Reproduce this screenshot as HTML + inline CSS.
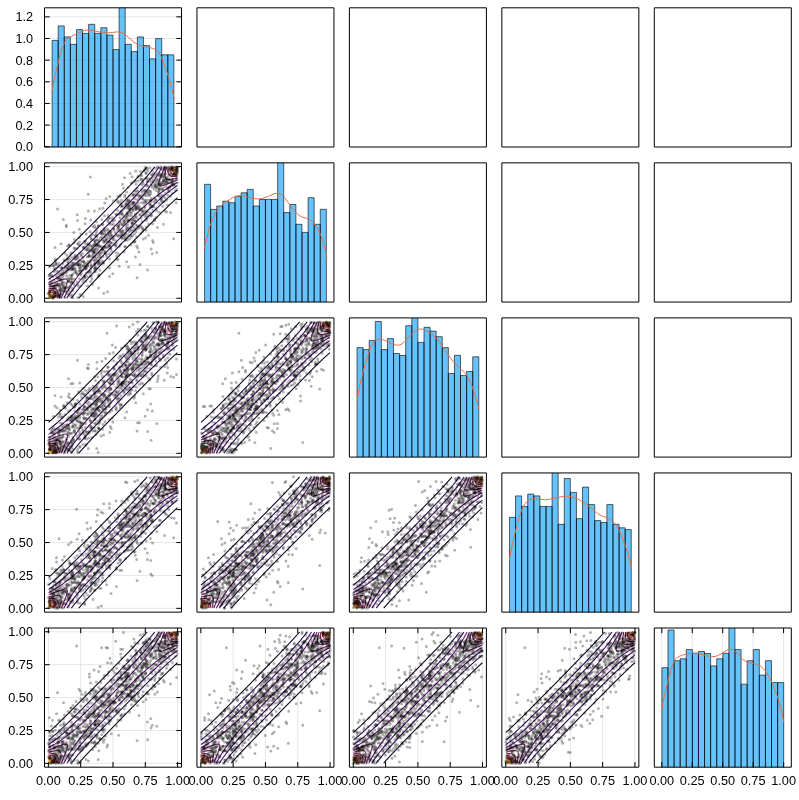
<!DOCTYPE html>
<html><head><meta charset="utf-8"><title>pairplot</title>
<style>html,body{margin:0;padding:0;background:#fff}svg{display:block}</style>
</head><body>
<svg width="799" height="800" viewBox="0 0 799 800">
<rect width="799" height="800" fill="#fff"/>
<defs><g id="ct" fill="none" stroke-width="1.08"><path d="M235.34,1.50 287.07,58.37 357.21,131.85 610.41,387.27 868.15,642.79 941.63,712.93 998.50,764.66M764.66,998.50 712.93,941.63 642.79,868.15 387.27,610.41 131.85,357.21 58.37,287.07 1.50,235.34" stroke="#0b0724" vector-effect="non-scaling-stroke"/>
<path d="M177.38,1.50 231.96,68.32 307.11,151.03 412.32,259.84 577.66,426.23 745.25,592.69 848.97,692.89 931.68,768.04 998.50,822.62M822.62,998.50 768.04,931.68 692.89,848.97 592.69,745.25 426.23,577.66 259.84,412.32 151.03,307.11 68.32,231.96 1.50,177.38" stroke="#210c4a" vector-effect="non-scaling-stroke"/>
<path d="M143.43,1.50 171.84,43.21 201.90,82.92 236.97,125.51 277.05,171.02 382.26,282.46 550.36,452.40 722.70,622.75 834.54,727.96 880.39,768.04 923.45,803.11 963.79,833.17 998.50,856.57M856.57,998.50 833.17,963.79 803.11,923.45 768.04,880.39 727.96,834.54 622.75,722.70 452.40,550.36 282.46,382.26 171.02,277.05 125.51,236.97 82.92,201.90 43.21,171.84 1.50,143.43" stroke="#3d0965" vector-effect="non-scaling-stroke"/>
<path d="M119.28,1.50 146.79,50.76 176.85,98.05 216.93,154.18 257.01,205.02 307.11,263.71 362.22,324.27 436.81,402.30 517.54,484.08 597.70,563.19 675.73,637.78 736.29,692.89 794.98,742.99 845.82,783.07 901.95,823.15 949.24,853.21 998.50,880.72M880.72,998.50 853.21,949.24 823.15,901.95 783.07,845.82 742.99,794.98 692.89,736.29 637.78,675.73 563.19,597.70 484.08,517.54 402.30,436.81 324.27,362.22 263.71,307.11 205.02,257.01 154.18,216.93 98.05,176.85 50.76,146.79 1.50,119.28" stroke="#57106e" vector-effect="non-scaling-stroke"/>
<path d="M100.50,1.50 131.20,76.65 142.15,106.71 146.80,126.75 146.55,136.77 144.34,141.78 141.78,144.34 136.77,146.55 131.76,147.06 111.72,143.62 81.66,133.17 1.50,100.50M899.50,998.50 868.80,923.35 857.85,893.29 853.20,873.25 853.45,863.23 855.66,858.22 858.22,855.66 863.23,853.45 868.24,852.94 888.28,856.38 918.34,866.83 998.50,899.50" stroke="#71196e" vector-effect="non-scaling-stroke"/>
<path d="M85.13,1.50 93.87,36.57 97.60,61.62 96.99,76.65 91.68,88.95 86.67,93.32 81.66,95.68 71.64,97.60 61.62,97.60 36.57,93.87 1.50,85.13M914.87,998.50 906.13,963.43 902.40,938.38 903.01,923.35 908.32,911.05 913.33,906.68 918.34,904.32 928.36,902.40 938.38,902.40 963.43,906.13 998.50,914.87" stroke="#8a226a" vector-effect="non-scaling-stroke"/>
<path d="M72.08,1.50 74.64,26.55 74.13,41.58 70.03,56.61 62.08,66.63 52.72,71.64 41.58,74.13 26.55,74.64 1.50,72.08M927.92,998.50 925.36,973.45 925.87,958.42 928.36,947.28 933.37,937.92 943.39,929.97 958.42,925.87 973.45,925.36 998.50,927.92" stroke="#a22b62" vector-effect="non-scaling-stroke"/>
<path d="M60.78,1.50 59.00,26.55 55.93,36.57 49.75,46.59 41.58,53.39 31.56,57.73 16.53,60.42 1.50,60.78M939.22,998.50 941.00,973.45 944.07,963.43 950.25,953.41 958.42,946.61 968.44,942.27 983.47,939.58 998.50,939.22" stroke="#bc3754" vector-effect="non-scaling-stroke"/>
<path d="M50.78,1.50 46.41,21.54 41.58,31.00 37.06,36.57 31.00,41.58 21.54,46.41 1.50,50.78M949.22,998.50 953.59,978.46 958.42,969.00 962.94,963.43 969.00,958.42 978.46,953.59 998.50,949.22" stroke="#d24644" vector-effect="non-scaling-stroke"/>
<path d="M41.80,1.50 36.57,16.58 26.55,29.85 16.53,36.60 1.50,41.80M958.20,998.50 963.40,983.47 970.15,973.45 983.42,963.43 998.50,958.20" stroke="#e45a31" vector-effect="non-scaling-stroke"/>
<path d="M33.70,1.50 29.14,11.52 21.49,21.54 11.52,29.14 1.50,33.70M966.30,998.50 970.86,988.48 978.51,978.46 988.48,970.86 998.50,966.30" stroke="#f1731d" vector-effect="non-scaling-stroke"/>
<path d="M26.23,1.50 16.53,15.59 9.54,21.54 1.50,26.23M973.77,998.50 978.46,990.46 984.41,983.47 998.50,973.77" stroke="#f98e09" vector-effect="non-scaling-stroke"/>
<path d="M19.40,1.50 11.54,11.52 1.50,19.40M980.60,998.50 988.46,988.48 998.50,980.60" stroke="#fcac11" vector-effect="non-scaling-stroke"/>
<path d="M13.03,1.50 1.50,13.03M986.97,998.50 998.50,986.97" stroke="#f9c932" vector-effect="non-scaling-stroke"/>
<path d="M7.08,1.50 1.50,7.08M992.92,998.50 998.50,992.92" stroke="#f2ea69" vector-effect="non-scaling-stroke"/></g>
<clipPath id="c00"><rect x="44.50" y="7.80" width="137.00" height="139.20"/></clipPath>
<clipPath id="c01"><rect x="196.95" y="7.80" width="137.00" height="139.20"/></clipPath>
<clipPath id="c02"><rect x="349.40" y="7.80" width="137.00" height="139.20"/></clipPath>
<clipPath id="c03"><rect x="501.85" y="7.80" width="137.00" height="139.20"/></clipPath>
<clipPath id="c04"><rect x="654.30" y="7.80" width="137.00" height="139.20"/></clipPath>
<clipPath id="c10"><rect x="44.50" y="162.85" width="137.00" height="139.20"/></clipPath>
<clipPath id="c11"><rect x="196.95" y="162.85" width="137.00" height="139.20"/></clipPath>
<clipPath id="c12"><rect x="349.40" y="162.85" width="137.00" height="139.20"/></clipPath>
<clipPath id="c13"><rect x="501.85" y="162.85" width="137.00" height="139.20"/></clipPath>
<clipPath id="c14"><rect x="654.30" y="162.85" width="137.00" height="139.20"/></clipPath>
<clipPath id="c20"><rect x="44.50" y="317.90" width="137.00" height="139.20"/></clipPath>
<clipPath id="c21"><rect x="196.95" y="317.90" width="137.00" height="139.20"/></clipPath>
<clipPath id="c22"><rect x="349.40" y="317.90" width="137.00" height="139.20"/></clipPath>
<clipPath id="c23"><rect x="501.85" y="317.90" width="137.00" height="139.20"/></clipPath>
<clipPath id="c24"><rect x="654.30" y="317.90" width="137.00" height="139.20"/></clipPath>
<clipPath id="c30"><rect x="44.50" y="472.95" width="137.00" height="139.20"/></clipPath>
<clipPath id="c31"><rect x="196.95" y="472.95" width="137.00" height="139.20"/></clipPath>
<clipPath id="c32"><rect x="349.40" y="472.95" width="137.00" height="139.20"/></clipPath>
<clipPath id="c33"><rect x="501.85" y="472.95" width="137.00" height="139.20"/></clipPath>
<clipPath id="c34"><rect x="654.30" y="472.95" width="137.00" height="139.20"/></clipPath>
<clipPath id="c40"><rect x="44.50" y="628.00" width="137.00" height="139.20"/></clipPath>
<clipPath id="c41"><rect x="196.95" y="628.00" width="137.00" height="139.20"/></clipPath>
<clipPath id="c42"><rect x="349.40" y="628.00" width="137.00" height="139.20"/></clipPath>
<clipPath id="c43"><rect x="501.85" y="628.00" width="137.00" height="139.20"/></clipPath>
<clipPath id="c44"><rect x="654.30" y="628.00" width="137.00" height="139.20"/></clipPath>
</defs>
<path d="M44.50,146.75H181.50M44.50,125.10H181.50M44.50,103.45H181.50M44.50,81.80H181.50M44.50,60.15H181.50M44.50,38.50H181.50M44.50,16.85H181.50M44.50,298.25H181.50M44.50,265.35H181.50M44.50,232.45H181.50M44.50,199.55H181.50M44.50,166.65H181.50M44.50,453.30H181.50M44.50,420.40H181.50M44.50,387.50H181.50M44.50,354.60H181.50M44.50,321.70H181.50M44.50,608.35H181.50M44.50,575.45H181.50M44.50,542.55H181.50M44.50,509.65H181.50M44.50,476.75H181.50M44.50,763.40H181.50M44.50,730.50H181.50M44.50,697.60H181.50M44.50,664.70H181.50M44.50,631.80H181.50M48.40,628.00V767.20M80.70,628.00V767.20M113.00,628.00V767.20M145.30,628.00V767.20M177.60,628.00V767.20M200.85,628.00V767.20M233.15,628.00V767.20M265.45,628.00V767.20M297.75,628.00V767.20M330.05,628.00V767.20M353.30,628.00V767.20M385.60,628.00V767.20M417.90,628.00V767.20M450.20,628.00V767.20M482.50,628.00V767.20M505.75,628.00V767.20M538.05,628.00V767.20M570.35,628.00V767.20M602.65,628.00V767.20M634.95,628.00V767.20M661.80,628.00V767.20M692.25,628.00V767.20M722.70,628.00V767.20M753.15,628.00V767.20M783.60,628.00V767.20" stroke="#000" stroke-opacity="0.1" stroke-width="1" fill="none"/>
<g clip-path="url(#c00)">
<path d="M52.10,149.00V40.40h6.09V149.00zM58.19,149.00V25.90h6.09V149.00zM64.28,149.00V36.90h6.09V149.00zM70.37,149.00V44.30h6.09V149.00zM76.46,149.00V29.60h6.09V149.00zM82.55,149.00V33.40h6.09V149.00zM88.64,149.00V24.30h6.09V149.00zM94.73,149.00V33.40h6.09V149.00zM100.82,149.00V27.70h6.09V149.00zM106.91,149.00V35.10h6.09V149.00zM113.00,149.00V49.60h6.09V149.00zM119.09,149.00V4.80h6.09V149.00zM125.18,149.00V44.30h6.09V149.00zM131.27,149.00V51.60h6.09V149.00zM137.36,149.00V36.90h6.09V149.00zM143.45,149.00V45.60h6.09V149.00zM149.54,149.00V58.80h6.09V149.00zM155.63,149.00V38.60h6.09V149.00zM161.72,149.00V54.80h6.09V149.00zM167.81,149.00V54.80h6.09V149.00z" fill="#009af9" fill-opacity="0.6" stroke="#000" stroke-opacity="0.6" stroke-width="1"/>
<path d="M51.90,92.50C52.17,90.92 52.92,86.08 53.50,83.00C54.08,79.92 54.57,77.67 55.40,74.00C56.23,70.33 57.55,64.78 58.50,61.00C59.45,57.22 60.15,54.23 61.10,51.30C62.05,48.37 63.25,45.37 64.20,43.40C65.15,41.43 65.78,40.58 66.80,39.50C67.82,38.42 68.77,37.78 70.30,36.90C71.83,36.02 73.95,35.15 76.00,34.20C78.05,33.25 80.83,31.85 82.60,31.20C84.37,30.55 85.22,30.48 86.60,30.30C87.98,30.12 89.60,30.03 90.90,30.10C92.20,30.17 92.78,30.35 94.40,30.70C96.02,31.05 98.40,31.87 100.60,32.20C102.80,32.53 105.55,32.67 107.60,32.70C109.65,32.73 111.23,32.53 112.90,32.40C114.57,32.27 116.23,31.88 117.60,31.90C118.97,31.92 119.78,32.03 121.10,32.50C122.42,32.97 123.88,33.53 125.50,34.70C127.12,35.87 129.05,38.05 130.80,39.50C132.55,40.95 134.40,42.38 136.00,43.40C137.60,44.42 138.93,45.02 140.40,45.60C141.87,46.18 143.18,46.57 144.80,46.90C146.42,47.23 148.35,47.15 150.10,47.60C151.85,48.05 153.85,48.77 155.30,49.60C156.75,50.43 157.77,51.28 158.80,52.60C159.83,53.92 160.62,55.52 161.50,57.50C162.38,59.48 163.08,61.75 164.10,64.50C165.12,67.25 166.70,71.42 167.60,74.00C168.50,76.58 168.77,77.42 169.50,80.00C170.23,82.58 171.20,86.33 172.00,89.50C172.80,92.67 173.92,97.42 174.30,99.00" fill="none" stroke="#e36f47" stroke-width="1"/>
</g>
<g clip-path="url(#c10)">
<use href="#ct" transform="matrix(0.12920 0 0 -0.13160 48.40 298.25)"/>
<g stroke="#000" stroke-opacity="0.3" stroke-width="3" stroke-linecap="round" fill="none">
<path d="M94.6,268.4h0M79.8,269.9h0M51.8,282.5h0M55.5,296.1h0M176.6,175.4h0M62.0,283.0h0M63.0,288.6h0M110.0,231.3h0M124.1,216.7h0M162.3,177.6h0M54.4,293.5h0M60.2,274.8h0M95.4,235.6h0M165.2,211.1h0M59.4,280.3h0M59.8,293.0h0M101.3,231.6h0M74.7,248.2h0M70.0,255.9h0M128.8,220.8h0M60.1,280.1h0M127.3,240.3h0M103.2,230.7h0M87.6,266.3h0M55.2,268.7h0M123.5,219.9h0M176.1,166.9h0M85.1,223.7h0M144.0,215.0h0M100.4,238.0h0M150.5,200.7h0M145.1,200.2h0M61.0,243.8h0M61.6,284.5h0M102.5,234.0h0M105.5,251.8h0M75.9,272.6h0M87.5,244.3h0M143.1,211.5h0M164.6,167.1h0M87.7,264.0h0M177.0,167.3h0M150.7,184.7h0M124.8,196.7h0M104.8,203.1h0M110.6,237.7h0M102.3,224.4h0M148.5,235.3h0M72.4,288.3h0M167.7,188.4h0M94.5,252.2h0M50.4,266.1h0M141.4,179.5h0M172.4,183.6h0M57.8,293.0h0M90.2,262.4h0M139.5,209.0h0M112.3,220.1h0M56.4,286.2h0M159.2,184.1h0M95.6,259.8h0M58.9,295.6h0M90.3,177.1h0M119.8,221.5h0M135.6,207.8h0M166.9,183.1h0M136.0,184.2h0M154.3,176.8h0M110.6,233.3h0M133.6,194.3h0M58.5,293.8h0M177.5,170.5h0M52.9,266.1h0M106.4,240.2h0M52.9,290.0h0M58.8,263.6h0M163.2,180.5h0M149.9,168.1h0M95.3,239.9h0M77.7,262.6h0M156.6,186.3h0M55.8,267.9h0M91.5,265.0h0M122.3,210.7h0M90.3,275.7h0M145.8,212.0h0M61.1,293.8h0M79.3,268.3h0M105.6,236.5h0M92.5,247.6h0M174.0,173.7h0M133.0,202.9h0M109.6,218.2h0M52.8,297.6h0M134.7,241.6h0M75.5,270.8h0M67.5,294.0h0M68.3,262.7h0M69.1,244.4h0M110.9,236.6h0M56.8,271.1h0"/>
<path d="M146.7,196.1h0M66.3,225.2h0M165.2,183.1h0M68.0,262.1h0M68.2,258.6h0M144.5,191.0h0M86.2,268.8h0M54.9,296.6h0M57.5,283.9h0M140.9,226.1h0M105.5,235.1h0M150.1,208.1h0M140.4,171.5h0M119.4,246.6h0M122.8,234.7h0M88.7,256.3h0M114.7,244.7h0M176.2,171.0h0M142.1,192.5h0M65.6,291.6h0M137.3,199.8h0M159.4,185.3h0M92.7,253.0h0M172.1,185.7h0M131.1,207.8h0M141.1,209.9h0M132.0,176.8h0M102.8,248.6h0M161.6,195.1h0M171.7,167.7h0M82.8,282.2h0M160.2,197.3h0M86.7,247.7h0M80.8,268.2h0M144.1,210.6h0M59.6,291.0h0M69.6,292.9h0M102.5,263.2h0M95.0,241.7h0M73.0,269.2h0M74.2,256.6h0M171.8,168.5h0M67.8,269.2h0M98.9,274.6h0M126.7,198.9h0M71.7,262.4h0M55.0,288.0h0M62.8,276.9h0M83.2,257.3h0M115.3,232.5h0M154.7,186.4h0M96.4,245.7h0M125.4,239.2h0M119.2,266.3h0M70.6,253.5h0M122.1,205.8h0M57.5,279.1h0M89.7,261.6h0M155.3,181.0h0M73.5,283.1h0M63.6,282.0h0M169.3,179.7h0M58.4,296.2h0M69.7,287.3h0M128.3,235.0h0M49.9,291.4h0M83.2,280.8h0M75.1,265.1h0M85.9,281.0h0M105.1,253.6h0M96.4,244.5h0M150.7,181.4h0M55.7,263.5h0M172.1,180.9h0M93.5,251.3h0M121.3,203.2h0M134.5,234.1h0M53.2,285.6h0M129.9,219.8h0M138.1,207.0h0M99.9,246.5h0M95.2,249.0h0M63.1,276.5h0M78.9,264.7h0M109.8,231.4h0M131.1,227.1h0M54.7,264.3h0M87.9,271.7h0M135.1,215.4h0M126.2,218.1h0M120.6,244.4h0M126.7,191.9h0M116.2,252.4h0M153.6,173.3h0M145.6,216.8h0M79.5,265.0h0M109.5,245.8h0M151.8,207.0h0M99.5,240.7h0M149.7,204.3h0M112.8,273.8h0"/>
<path d="M75.1,259.3h0M68.8,267.3h0M105.3,247.6h0M104.2,228.2h0M58.5,266.3h0M49.3,293.1h0M155.7,208.4h0M81.2,273.3h0M109.2,241.0h0M133.1,202.6h0M50.0,297.7h0M103.3,241.1h0M158.1,184.2h0M109.5,268.1h0M141.6,208.4h0M72.1,281.8h0M124.9,222.8h0M167.5,182.6h0M101.7,246.5h0M172.1,166.8h0M119.8,217.8h0M79.6,265.2h0M91.3,276.4h0M81.5,256.2h0M98.5,263.8h0M93.7,245.0h0M172.4,193.0h0M139.1,198.1h0M122.0,234.8h0M175.2,170.3h0M121.8,224.4h0M129.8,227.6h0M110.7,242.4h0M149.6,194.8h0M80.8,261.0h0M172.9,168.8h0M152.1,187.2h0M136.4,206.3h0M157.6,179.7h0M177.6,167.4h0M138.5,195.3h0M124.6,246.5h0M64.4,289.1h0M49.0,275.7h0M172.1,170.5h0M117.9,226.2h0M166.4,177.6h0M150.7,191.4h0M97.2,262.1h0M65.2,266.7h0M88.6,249.3h0M76.9,264.7h0M151.8,200.0h0M105.0,233.5h0M155.4,168.2h0M94.9,256.7h0M145.8,178.0h0M87.8,264.6h0M147.2,181.5h0M99.9,270.0h0M79.8,252.8h0M116.7,256.3h0M79.7,266.9h0M108.7,241.0h0M167.2,179.7h0M168.6,175.6h0M153.1,182.6h0M71.0,282.4h0M62.4,271.2h0M139.5,226.2h0M96.0,236.0h0M120.3,195.1h0M129.2,231.6h0M73.8,232.5h0M117.7,196.4h0M169.8,186.6h0M133.8,217.4h0M89.0,244.9h0M124.9,221.7h0M49.6,291.9h0M59.1,287.1h0M164.8,197.4h0M131.9,223.6h0M127.7,224.6h0M126.2,227.9h0M57.8,273.9h0M56.9,283.5h0M87.7,286.0h0M153.2,242.5h0M118.6,226.0h0M72.9,297.7h0M72.8,273.9h0M170.7,168.8h0M175.3,170.6h0M90.7,236.8h0M168.3,171.5h0M83.8,247.4h0M140.8,175.9h0M166.5,199.9h0M108.7,236.3h0M90.8,250.8h0"/>
<path d="M105.3,231.1h0M71.1,264.9h0M141.9,210.9h0M85.4,267.2h0M137.8,176.4h0M67.3,268.6h0M96.6,230.9h0M94.1,251.6h0M71.9,278.9h0M135.8,181.3h0M143.3,183.8h0M130.6,209.0h0M127.7,228.7h0M107.1,229.1h0M86.9,276.2h0M52.2,297.5h0M156.0,202.8h0M58.4,283.9h0M118.2,226.8h0M74.5,239.4h0M155.7,200.5h0M52.3,289.1h0M113.9,230.1h0M98.6,287.9h0M89.9,244.4h0M97.2,251.7h0M74.2,285.0h0M94.1,245.0h0M128.0,200.7h0M72.8,269.8h0M117.0,225.5h0M168.3,167.0h0M92.5,250.2h0M126.8,215.9h0M79.3,260.0h0M145.8,214.0h0M129.4,206.1h0M117.2,214.3h0M80.1,271.3h0M88.8,247.3h0M84.3,262.8h0M134.8,221.0h0M142.0,221.7h0M74.2,248.0h0M66.3,271.7h0M165.6,173.8h0M69.8,259.4h0M119.0,224.0h0M87.1,256.9h0M87.3,249.9h0M110.6,242.4h0M88.1,243.4h0M94.6,249.3h0M71.4,283.0h0M102.1,249.7h0M55.3,292.3h0M152.0,177.4h0M152.9,210.3h0M51.2,275.3h0M137.0,188.2h0M132.7,208.6h0M77.0,248.6h0M130.8,245.0h0M94.7,268.5h0M65.2,267.7h0M120.8,211.6h0M155.8,174.7h0M53.6,265.7h0M126.8,229.5h0M161.2,199.1h0M151.2,198.2h0M120.1,234.6h0M64.8,287.3h0M60.6,273.8h0M89.1,272.4h0M126.9,215.1h0M84.5,276.4h0M149.7,191.3h0M67.9,288.3h0M94.6,264.0h0M130.1,173.4h0M94.4,211.1h0M136.7,207.6h0M66.7,259.8h0M67.0,264.9h0M173.8,184.8h0M99.0,245.4h0M106.1,239.1h0M115.8,214.2h0M172.8,174.2h0M150.2,204.2h0M109.7,238.4h0M61.9,273.5h0M177.6,173.0h0M132.4,182.8h0M79.8,245.3h0M116.1,246.3h0M143.3,195.6h0M155.8,183.2h0M83.5,265.4h0M96.8,236.4h0"/>
<path d="M118.0,228.1h0M159.4,212.2h0M117.7,210.6h0M147.7,192.6h0M80.1,294.5h0M55.4,260.7h0M124.5,177.7h0M164.4,168.6h0M177.2,167.4h0M176.5,168.0h0M71.4,265.7h0M54.1,295.1h0M77.6,243.5h0M69.7,275.6h0M77.1,259.1h0M95.4,263.0h0M166.4,167.7h0M60.7,277.9h0M175.1,190.4h0M95.3,267.7h0M64.9,261.0h0M100.3,264.0h0M145.9,172.7h0M170.1,173.8h0M72.4,265.0h0M152.2,185.1h0M94.5,227.1h0M68.4,281.6h0M166.4,179.1h0M115.4,245.2h0M155.8,199.4h0M129.8,204.7h0M106.1,198.4h0M52.4,288.6h0M102.9,208.3h0M108.3,233.1h0M53.1,287.3h0M57.2,277.7h0M130.0,201.5h0M83.2,247.5h0M130.2,208.9h0M109.4,224.1h0M176.4,189.4h0M156.4,178.5h0M103.6,263.0h0M60.5,297.4h0M112.5,243.0h0M108.5,245.0h0M169.5,187.4h0M73.1,267.8h0M134.4,220.5h0M97.8,244.9h0M74.5,279.2h0M156.8,210.8h0M175.0,181.2h0M161.3,183.6h0M77.4,284.7h0M102.4,248.4h0M150.6,193.8h0M159.8,179.3h0M65.8,287.7h0M82.5,270.3h0M170.9,183.2h0M171.3,176.2h0M52.1,275.7h0M120.2,203.8h0M63.4,286.5h0M113.3,221.6h0M146.3,200.4h0M108.1,215.2h0M155.8,217.4h0M70.6,276.1h0M174.2,173.1h0M135.9,209.6h0M54.5,295.3h0M147.7,191.9h0M72.1,252.8h0M132.7,204.8h0M158.5,194.0h0M77.5,220.5h0M159.1,203.2h0M163.3,180.7h0M72.6,290.8h0M111.7,224.4h0M122.4,214.9h0M147.4,168.7h0M153.7,206.2h0M175.4,173.6h0M158.0,195.7h0M123.0,214.3h0M134.4,202.1h0M159.0,188.7h0M154.7,185.1h0M146.3,202.8h0M94.6,225.4h0M85.2,249.4h0M50.0,275.8h0M94.7,271.2h0M53.9,295.4h0M60.4,283.8h0M121.3,206.4h0"/>
<path d="M102.3,260.8h0M82.9,278.8h0M174.5,173.3h0M97.1,258.2h0M79.6,278.8h0M167.7,188.9h0M163.6,180.3h0M137.8,191.1h0M80.8,254.8h0M59.1,295.3h0M161.7,175.5h0M123.2,230.3h0M117.9,236.3h0M77.2,255.9h0M163.1,188.6h0M86.2,234.1h0M55.0,286.0h0M147.1,185.2h0M101.0,233.5h0M154.4,219.2h0M123.6,224.5h0M156.2,190.6h0M133.5,203.2h0M53.5,292.2h0M80.6,263.4h0M101.9,237.0h0M145.6,202.0h0M169.6,179.8h0M154.4,198.1h0M143.3,213.8h0M65.3,297.4h0M104.8,253.1h0M68.0,270.3h0M106.9,238.4h0M140.8,179.3h0M121.4,232.5h0M176.0,175.2h0M127.6,227.7h0M95.8,269.5h0M118.0,259.4h0M96.4,249.5h0M99.7,208.7h0M131.2,215.5h0M174.3,170.3h0M171.0,166.7h0M107.9,230.3h0M54.2,290.1h0M145.7,237.8h0M118.9,228.4h0M131.5,213.4h0M126.5,216.4h0M143.8,203.4h0M126.3,200.9h0M85.4,240.9h0M160.2,182.3h0M176.2,179.5h0M84.3,262.3h0M53.8,296.9h0M77.2,256.5h0M137.6,226.4h0M127.9,220.7h0M85.3,244.1h0M137.1,277.8h0M62.1,267.7h0M145.7,190.8h0M84.6,277.1h0M114.0,236.7h0M172.7,167.9h0M75.6,259.1h0M98.0,276.6h0M77.2,273.8h0M142.9,179.5h0M131.4,203.6h0M110.7,248.6h0M142.6,212.8h0M165.5,169.3h0M92.9,251.2h0M99.9,262.1h0M104.0,237.6h0M147.5,211.9h0M114.0,228.4h0M85.0,277.7h0M151.1,249.1h0M58.6,277.7h0M76.9,282.0h0M173.3,174.7h0M72.4,269.0h0M124.0,238.2h0M68.3,265.0h0M97.9,240.0h0M167.7,195.2h0M176.7,170.3h0M129.6,209.9h0M127.2,237.4h0M83.2,296.5h0M176.2,173.6h0M160.5,183.3h0M63.8,272.9h0M132.0,223.3h0M58.8,295.5h0M142.8,199.1h0"/>
<path d="M104.7,246.4h0M103.0,247.2h0M87.0,250.1h0M124.0,222.2h0M110.8,248.4h0M164.5,168.2h0M109.6,259.1h0M131.4,229.5h0M144.1,201.7h0M68.0,278.1h0M117.6,235.0h0M77.7,264.4h0M93.5,250.3h0M62.6,274.5h0M122.6,184.3h0M127.8,207.2h0M99.3,252.8h0M112.3,217.6h0M139.8,208.4h0M126.1,203.5h0M57.4,294.1h0M109.9,223.1h0M137.6,225.4h0M120.1,213.7h0M173.7,238.7h0M147.8,193.2h0M177.0,168.8h0M102.9,256.6h0M161.8,197.4h0M135.6,221.3h0M50.4,291.6h0M124.1,251.7h0M68.7,280.9h0M104.5,251.3h0M50.5,284.3h0M102.7,234.1h0M49.6,295.4h0M59.3,285.3h0M51.3,282.8h0M107.9,235.0h0M95.2,266.2h0M116.6,200.2h0M96.7,246.7h0M69.1,245.4h0M162.0,169.2h0M89.1,255.8h0M151.4,174.8h0M173.1,175.4h0M106.8,256.7h0M99.9,252.1h0M92.9,226.4h0M171.5,169.5h0M139.5,195.5h0M116.5,243.2h0M54.6,292.7h0M146.1,168.6h0M98.9,262.4h0M121.5,236.7h0M109.3,247.3h0M89.4,270.9h0M101.8,250.5h0M57.3,293.9h0M61.6,268.1h0M62.3,285.6h0M92.8,256.7h0M66.5,275.7h0M127.4,203.0h0M142.8,228.8h0M124.1,208.7h0M125.8,219.1h0M138.3,208.0h0M86.5,263.7h0M131.0,183.3h0M84.7,275.3h0M144.0,202.1h0M102.6,250.1h0M135.9,217.7h0M96.2,233.6h0M59.8,296.7h0M70.4,278.6h0M136.7,237.0h0M124.0,235.6h0M169.0,191.1h0M95.3,242.2h0M62.0,294.1h0M102.5,233.2h0M164.3,201.8h0M123.5,188.0h0M54.9,283.4h0M165.1,180.3h0M83.8,247.3h0M121.8,238.0h0M131.0,211.7h0M79.5,273.7h0M168.3,169.2h0M65.9,282.9h0M159.3,181.5h0M84.1,269.3h0M121.3,213.6h0M126.1,220.1h0M159.2,188.9h0"/>
<path d="M137.6,228.5h0M162.7,201.4h0M168.5,178.8h0M78.1,265.1h0M141.8,184.9h0M75.0,263.1h0M150.8,205.1h0M89.1,256.4h0M132.9,195.4h0M109.5,276.6h0M69.2,281.1h0M78.2,257.2h0M60.1,288.9h0M56.6,292.0h0M58.9,297.4h0M80.9,275.0h0M157.7,187.1h0M50.4,285.7h0M92.0,279.0h0M107.9,220.0h0M134.4,181.1h0M163.1,182.9h0M136.9,208.5h0M68.8,295.2h0M68.9,266.7h0M110.4,246.1h0M95.1,263.1h0M143.3,239.1h0M70.7,268.6h0M56.4,264.7h0M56.3,293.9h0M120.8,212.5h0M98.5,242.3h0M94.8,253.3h0M77.2,214.7h0M82.7,261.4h0M94.6,260.4h0M176.1,202.7h0M136.7,204.9h0M97.0,254.7h0M115.8,240.8h0M152.3,174.8h0M54.3,271.5h0M165.1,182.2h0M119.9,195.9h0M99.7,254.4h0M173.1,184.3h0M97.9,262.0h0M152.0,206.2h0M81.3,265.8h0M151.6,215.3h0M118.5,254.1h0M108.7,218.1h0M55.8,291.8h0M102.1,239.4h0M52.2,295.7h0M53.3,298.0h0M164.9,173.9h0M66.4,272.7h0M160.5,184.5h0M67.1,267.7h0M109.2,253.8h0M62.5,291.1h0M97.3,254.3h0M49.9,278.8h0M170.5,212.4h0M81.9,271.0h0M95.9,244.4h0M103.9,242.8h0M175.2,174.3h0M69.0,268.9h0M91.8,239.4h0M167.1,177.9h0M111.4,234.7h0M97.7,260.7h0M92.7,234.7h0M140.9,233.8h0M128.5,203.9h0M120.7,231.3h0M119.4,236.1h0M122.1,206.3h0M161.8,174.5h0M75.0,268.1h0M127.2,213.5h0M85.6,266.0h0M156.8,252.4h0M134.7,198.5h0M56.0,294.9h0M175.9,167.2h0M86.2,273.0h0M84.5,241.4h0M107.0,248.1h0M121.9,213.8h0M78.4,244.5h0M125.6,240.2h0M52.7,276.7h0M139.1,228.0h0M101.9,219.4h0M128.5,221.6h0M163.3,190.4h0"/>
<path d="M142.1,227.4h0M55.2,296.1h0M147.0,218.5h0M54.1,269.1h0M134.0,230.2h0M155.5,185.1h0M146.9,216.4h0M143.1,229.2h0M91.1,246.0h0M158.8,173.0h0M119.1,214.3h0M48.4,293.4h0M115.7,235.2h0M158.2,183.9h0M61.2,267.6h0M57.5,209.1h0M128.6,266.9h0M71.0,296.6h0M100.6,258.1h0M104.2,247.5h0M136.3,195.7h0M63.3,291.0h0M138.8,209.8h0M104.6,215.7h0M154.0,189.0h0M79.3,237.6h0M125.4,237.0h0M131.3,237.2h0M101.8,252.7h0M148.5,178.7h0M143.0,181.7h0M69.3,290.4h0M160.7,166.7h0M91.0,267.5h0M135.1,229.4h0M147.6,270.1h0M133.6,242.6h0M121.5,200.6h0M153.1,206.4h0M153.1,180.9h0M166.4,186.6h0M157.3,227.5h0M130.2,235.7h0M109.8,244.8h0M49.2,283.5h0M85.4,218.5h0M98.4,225.7h0M159.6,167.8h0M145.1,167.5h0M148.5,186.5h0M93.1,260.2h0M158.3,175.5h0M90.5,281.4h0M56.4,285.2h0M71.9,275.2h0M124.7,235.5h0M147.8,215.3h0M107.5,242.6h0M124.8,195.1h0M55.7,292.1h0M144.9,206.6h0M143.8,170.8h0M103.5,248.9h0M172.1,170.3h0M59.8,279.3h0M177.4,183.1h0M88.2,194.2h0M104.3,240.6h0M157.1,174.0h0M92.4,284.3h0M67.4,258.7h0M58.8,271.5h0M159.5,173.6h0M133.2,210.8h0M161.1,199.5h0M60.0,295.0h0M141.4,195.8h0M136.6,191.5h0M135.0,205.9h0M54.2,280.3h0M105.8,241.6h0M127.9,208.7h0M91.0,259.7h0M99.5,246.6h0M79.6,242.0h0M128.4,219.7h0M153.2,180.1h0M172.1,181.2h0M156.7,187.7h0M91.1,249.5h0M129.7,230.1h0M94.3,240.8h0M74.7,272.6h0M128.7,199.7h0M150.1,212.8h0M91.1,238.7h0M129.6,239.1h0M148.8,200.2h0M77.7,297.5h0M164.9,186.4h0"/>
<path d="M113.3,228.5h0M168.7,182.4h0M135.0,241.4h0M60.1,289.4h0M96.2,228.1h0M109.0,241.7h0M99.1,260.8h0M72.3,257.8h0M122.5,231.0h0M72.8,266.1h0M70.1,285.5h0M169.4,187.3h0M165.3,193.0h0M68.9,279.1h0M91.4,266.5h0M162.7,182.6h0M100.0,256.2h0M95.5,271.7h0M101.8,249.5h0M121.9,238.3h0M164.0,176.6h0M132.8,219.3h0M55.9,275.7h0M135.7,224.8h0M107.7,221.5h0M173.8,183.8h0M163.5,184.0h0M76.2,271.6h0M155.4,186.9h0M94.3,264.8h0M164.8,167.0h0M113.7,239.7h0M75.5,254.9h0M100.1,253.2h0M94.6,244.0h0M171.9,184.9h0M144.6,207.8h0M135.5,213.9h0M170.5,196.2h0M152.6,240.6h0M56.2,263.1h0M91.1,265.9h0M138.3,203.0h0M98.2,264.6h0M146.2,230.3h0M166.5,180.2h0M132.2,223.2h0M128.9,206.7h0M152.5,170.5h0M126.3,204.2h0M62.3,283.3h0M129.4,209.1h0M132.6,235.6h0M141.0,214.7h0M71.4,281.7h0M145.0,195.0h0M102.7,224.3h0M141.4,202.6h0M140.1,196.5h0M159.2,192.2h0M146.2,226.9h0M146.2,220.4h0M132.1,231.5h0M151.1,216.0h0M135.6,194.2h0M63.3,219.6h0M134.5,227.7h0M61.0,290.2h0M150.8,206.8h0M177.0,178.4h0M141.5,189.5h0M139.2,206.1h0M129.9,212.8h0M82.8,266.5h0M120.3,231.3h0M135.8,209.3h0M58.8,295.2h0M87.6,265.9h0M107.8,246.4h0M128.0,214.3h0M146.2,173.4h0M64.1,259.8h0M90.8,265.8h0M142.5,190.6h0M131.4,220.3h0M84.3,265.4h0M125.6,246.8h0M141.2,218.2h0M140.3,214.4h0M86.1,267.9h0M96.4,244.6h0M163.5,224.3h0M59.1,277.6h0M148.5,223.9h0M53.8,287.4h0M111.1,231.5h0M71.8,275.5h0M51.7,286.5h0M167.7,205.1h0M157.4,167.1h0"/>
<path d="M176.7,169.0h0M50.0,288.7h0M53.9,286.4h0M172.5,179.5h0M66.3,226.5h0M83.0,261.3h0M146.6,210.8h0M128.6,201.6h0M97.1,268.0h0M173.5,167.2h0M94.2,252.6h0M82.5,253.4h0M92.9,254.5h0M154.7,220.4h0M135.7,171.1h0M113.6,224.6h0M137.3,212.9h0M160.5,168.5h0M136.7,245.9h0M105.0,241.2h0M152.3,253.7h0M124.2,221.3h0M80.9,285.7h0M170.3,169.3h0M160.3,177.2h0M75.4,256.9h0M106.3,254.8h0M133.1,202.2h0M163.3,173.1h0M138.1,219.5h0M91.5,256.3h0M72.7,268.6h0M49.9,290.1h0M103.1,262.4h0M121.7,236.1h0M49.5,291.0h0M134.8,207.1h0M112.5,237.5h0M145.0,193.6h0M92.0,257.2h0M146.0,192.8h0M83.5,260.8h0M67.0,255.3h0M90.4,269.6h0M150.7,201.6h0M174.8,185.4h0M157.2,181.2h0M74.0,242.8h0M138.2,177.1h0M61.4,279.9h0M163.4,195.5h0M160.5,188.5h0M48.5,293.5h0M163.7,175.1h0M79.4,229.3h0M90.1,231.7h0M124.9,205.8h0M64.9,253.3h0M168.5,170.2h0M170.4,174.1h0M144.9,189.9h0M73.6,264.0h0M77.2,274.4h0M132.5,226.6h0M62.9,263.5h0M89.5,255.3h0M55.0,247.5h0M92.4,246.3h0M74.9,269.1h0M104.2,230.2h0M177.3,172.1h0M146.0,190.9h0M67.6,246.1h0M125.3,204.4h0M117.8,202.4h0M90.7,220.0h0M67.7,286.9h0M152.6,223.7h0M138.2,181.0h0M153.9,201.7h0M109.3,234.1h0M159.5,175.1h0M128.1,187.4h0M64.4,270.0h0M164.3,176.6h0M164.5,178.6h0M142.1,198.3h0M78.2,265.3h0M166.5,181.7h0M148.5,190.0h0M127.1,212.2h0M139.7,215.3h0M133.1,195.1h0M65.2,288.6h0M164.7,171.3h0M125.9,233.3h0M127.7,205.7h0M161.5,188.5h0M55.8,288.7h0M159.4,189.9h0"/>
<path d="M97.1,240.1h0M114.8,220.1h0M172.8,179.2h0M129.1,215.9h0M116.5,259.0h0M101.3,232.1h0M79.4,271.0h0M166.7,212.1h0M126.2,225.6h0M88.6,252.8h0M126.7,261.8h0M125.8,207.6h0M162.1,190.0h0M164.0,170.1h0M123.2,232.7h0M146.5,185.4h0M134.7,190.9h0M112.9,238.9h0M158.3,191.6h0M119.2,225.4h0M162.7,206.3h0M146.7,178.5h0M109.8,196.5h0M94.6,257.3h0M55.4,259.3h0M122.4,224.6h0M174.7,175.2h0M98.0,244.4h0M177.1,170.3h0M98.3,256.7h0M138.9,251.9h0M137.6,248.1h0M135.4,256.9h0M101.4,233.1h0M78.5,286.5h0M113.4,201.1h0M62.9,287.8h0M84.6,277.2h0M58.6,290.2h0M71.8,294.8h0M116.4,214.7h0M125.6,233.8h0M126.5,230.6h0M80.9,234.3h0M132.5,219.9h0M66.1,291.2h0M103.8,293.2h0M149.1,195.4h0M136.2,231.4h0M147.7,171.1h0M70.8,269.9h0M88.4,211.1h0M120.8,222.6h0M99.0,275.6h0M144.6,170.0h0M105.3,246.2h0M160.2,175.0h0M161.4,201.5h0M90.8,272.3h0M117.5,229.9h0M64.0,284.7h0M85.8,267.0h0M50.2,296.1h0M98.4,226.0h0M85.0,268.7h0M171.5,168.4h0M64.6,291.7h0M89.5,251.5h0M111.9,235.5h0M52.6,297.9h0M162.0,176.2h0M71.9,278.2h0M78.4,262.4h0M98.1,249.0h0M107.6,291.7h0M63.9,273.7h0M139.9,264.4h0M133.3,209.4h0M61.9,280.9h0M130.5,235.2h0M132.7,222.8h0M142.8,230.9h0M73.1,262.9h0M129.3,195.9h0M94.3,256.2h0M171.5,181.6h0M136.4,216.7h0M147.4,180.9h0M87.8,261.6h0M61.8,274.9h0M141.7,175.3h0M96.3,221.8h0M64.3,287.2h0M160.9,185.2h0M159.0,195.8h0M168.3,191.4h0M150.2,179.1h0M111.6,251.3h0M118.8,201.5h0M55.2,260.2h0"/>
</g>
</g>
<g clip-path="url(#c11)">
<path d="M204.55,304.05V184.30h6.09V304.05zM210.64,304.05V209.40h6.09V304.05zM216.73,304.05V206.00h6.09V304.05zM222.82,304.05V201.20h6.09V304.05zM228.91,304.05V202.70h6.09V304.05zM235.00,304.05V196.30h6.09V304.05zM241.09,304.05V192.80h6.09V304.05zM247.18,304.05V189.40h6.09V304.05zM253.27,304.05V206.00h6.09V304.05zM259.36,304.05V199.50h6.09V304.05zM265.45,304.05V199.40h6.09V304.05zM271.54,304.05V199.40h6.09V304.05zM277.63,304.05V159.85h6.09V304.05zM283.72,304.05V212.50h6.09V304.05zM289.81,304.05V204.50h6.09V304.05zM295.90,304.05V224.30h6.09V304.05zM301.99,304.05V232.40h6.09V304.05zM308.08,304.05V197.70h6.09V304.05zM314.17,304.05V224.30h6.09V304.05zM320.26,304.05V209.30h6.09V304.05z" fill="#009af9" fill-opacity="0.6" stroke="#000" stroke-opacity="0.6" stroke-width="1"/>
<path d="M204.40,248.70C204.67,247.42 205.40,243.45 206.00,241.00C206.60,238.55 207.47,236.17 208.00,234.00C208.53,231.83 208.35,230.58 209.20,228.00C210.05,225.42 211.93,221.25 213.10,218.50C214.27,215.75 215.02,213.48 216.20,211.50C217.38,209.52 218.67,208.13 220.20,206.60C221.73,205.07 223.80,203.47 225.40,202.30C227.00,201.13 228.18,200.55 229.80,199.60C231.42,198.65 233.35,197.25 235.10,196.60C236.85,195.95 238.55,195.75 240.30,195.70C242.05,195.65 243.85,195.93 245.60,196.30C247.35,196.67 249.05,197.48 250.80,197.90C252.55,198.32 254.35,198.68 256.10,198.80C257.85,198.92 259.55,198.90 261.30,198.60C263.05,198.30 264.73,197.70 266.60,197.00C268.47,196.30 270.78,195.02 272.50,194.40C274.22,193.78 275.58,193.38 276.90,193.30C278.22,193.22 279.23,193.35 280.40,193.90C281.57,194.45 282.58,195.13 283.90,196.60C285.22,198.07 286.83,200.67 288.30,202.70C289.77,204.73 291.23,206.97 292.70,208.80C294.17,210.63 295.65,212.38 297.10,213.70C298.55,215.02 299.80,215.93 301.40,216.70C303.00,217.47 305.23,217.78 306.70,218.30C308.17,218.82 309.03,218.97 310.20,219.80C311.37,220.63 312.53,221.93 313.70,223.30C314.87,224.67 316.07,226.13 317.20,228.00C318.33,229.87 319.48,232.17 320.50,234.50C321.52,236.83 322.23,238.17 323.30,242.00C324.37,245.83 326.30,254.92 326.90,257.50" fill="none" stroke="#e36f47" stroke-width="1"/>
</g>
<g clip-path="url(#c20)">
<use href="#ct" transform="matrix(0.12920 0 0 -0.13160 48.40 453.30)"/>
<g stroke="#000" stroke-opacity="0.3" stroke-width="3" stroke-linecap="round" fill="none">
<path d="M157.6,344.9h0M172.1,345.5h0M165.6,324.6h0M150.7,364.3h0M134.7,348.3h0M52.9,452.9h0M99.3,429.0h0M167.2,337.9h0M145.0,370.7h0M133.1,374.8h0M99.7,411.2h0M131.4,343.7h0M162.0,341.4h0M109.3,404.4h0M146.2,364.3h0M85.9,444.3h0M155.5,327.7h0M98.4,382.9h0M70.6,442.5h0M118.6,381.5h0M102.5,387.1h0M126.5,362.0h0M145.7,350.3h0M79.6,408.5h0M103.3,405.7h0M135.7,390.7h0M96.6,387.8h0M165.1,339.2h0M167.3,373.1h0M148.5,337.5h0M167.1,347.5h0M60.1,443.9h0M174.2,326.2h0M99.0,390.7h0M146.7,341.7h0M152.0,328.5h0M62.9,416.8h0M159.2,335.7h0M84.5,434.6h0M61.4,417.4h0M76.2,418.3h0M110.4,426.6h0M176.5,359.0h0M64.0,405.9h0M135.5,350.7h0M94.6,389.8h0M163.5,331.3h0M129.9,388.0h0M122.4,382.6h0M121.5,385.1h0M84.5,406.6h0M69.0,417.4h0M70.1,433.3h0M171.5,325.3h0M50.4,449.4h0M158.3,335.8h0M103.6,406.1h0M71.4,416.9h0M71.9,418.3h0M163.1,355.1h0M92.9,408.7h0M55.0,444.0h0M137.6,375.1h0M51.3,446.4h0M81.2,423.3h0M89.1,438.0h0M115.3,374.4h0M141.4,364.0h0M68.8,436.2h0M128.6,375.8h0M60.6,431.5h0M62.6,449.8h0M104.2,393.9h0M167.7,367.4h0M71.4,452.8h0M62.3,441.9h0M142.1,367.6h0M64.8,450.0h0M98.1,399.1h0M101.8,407.5h0M157.7,356.6h0M76.9,420.9h0M139.5,384.6h0M54.9,452.2h0M176.0,326.4h0M120.2,399.2h0M152.3,331.4h0M145.9,343.5h0M109.7,398.8h0M156.4,321.9h0M152.2,339.8h0M57.3,438.7h0M83.2,388.2h0M161.1,351.6h0M91.1,398.2h0M68.0,449.5h0M79.8,403.9h0M58.3,433.9h0M96.4,392.5h0M128.8,348.6h0"/>
<path d="M126.3,376.8h0M126.7,348.4h0M153.1,352.3h0M98.2,401.4h0M162.3,343.3h0M151.4,336.1h0M167.7,341.9h0M114.8,395.6h0M88.4,368.4h0M109.5,353.4h0M87.5,408.9h0M78.2,410.3h0M54.3,450.2h0M58.8,444.0h0M126.8,366.0h0M131.2,341.5h0M79.5,418.3h0M133.5,375.8h0M72.4,415.8h0M64.6,447.4h0M97.2,407.9h0M102.6,404.2h0M150.2,356.8h0M101.0,436.0h0M124.9,365.2h0M54.1,447.2h0M127.9,361.7h0M142.8,345.7h0M119.7,372.0h0M174.5,325.3h0M92.4,430.9h0M135.8,361.5h0M118.2,381.3h0M172.7,330.3h0M165.2,329.9h0M159.1,352.1h0M112.5,377.5h0M77.2,412.5h0M106.1,398.0h0M89.1,431.5h0M127.7,350.3h0M170.9,376.5h0M74.7,425.0h0M175.2,327.9h0M127.3,381.9h0M98.5,399.4h0M75.1,426.8h0M146.3,348.8h0M124.1,370.6h0M92.8,416.0h0M61.1,447.2h0M172.4,342.6h0M140.9,375.6h0M129.6,364.9h0M128.3,395.0h0M160.2,335.6h0M94.3,427.8h0M122.8,373.6h0M54.7,443.1h0M152.0,375.0h0M168.3,324.1h0M63.3,431.7h0M64.9,414.4h0M161.8,340.4h0M91.1,428.6h0M134.0,398.3h0M55.4,442.0h0M154.7,356.3h0M52.4,429.6h0M109.4,382.8h0M109.6,395.8h0M87.8,410.1h0M121.4,384.3h0M69.3,445.8h0M68.2,411.5h0M152.9,350.4h0M65.6,408.1h0M159.3,343.8h0M57.8,439.0h0M159.2,344.6h0M105.0,411.9h0M79.5,421.4h0M162.0,327.1h0M96.7,448.5h0M88.8,406.3h0M141.4,359.9h0M99.5,406.7h0M138.3,347.6h0M140.8,330.9h0M98.5,424.2h0M72.8,423.1h0M135.9,342.0h0M113.4,375.6h0M71.8,442.2h0M140.8,341.4h0M62.3,446.1h0M67.0,427.9h0M68.0,434.4h0M65.3,447.6h0M58.9,448.5h0"/>
<path d="M71.9,404.9h0M111.4,383.8h0M59.1,447.6h0M72.8,399.3h0M173.8,336.4h0M134.7,373.0h0M102.3,388.7h0M155.4,345.7h0M82.9,394.0h0M116.5,409.7h0M79.6,447.3h0M102.0,361.2h0M93.5,408.7h0M81.9,427.9h0M101.3,399.0h0M174.7,329.2h0M56.8,452.4h0M54.5,438.6h0M127.4,368.3h0M63.1,430.5h0M172.1,328.8h0M60.1,440.6h0M94.6,409.0h0M127.2,371.5h0M134.4,350.8h0M89.1,397.9h0M175.9,332.5h0M140.1,340.4h0M94.5,423.2h0M155.8,350.2h0M159.6,326.8h0M123.0,354.4h0M85.8,423.5h0M75.1,415.4h0M144.6,346.1h0M56.4,451.9h0M55.5,444.7h0M137.6,322.0h0M122.0,383.8h0M134.5,368.2h0M116.6,372.7h0M76.9,435.4h0M71.9,443.9h0M151.2,344.2h0M159.0,345.1h0M87.3,368.0h0M82.8,444.5h0M83.8,407.3h0M62.9,436.2h0M105.1,402.4h0M83.5,413.9h0M160.5,328.4h0M77.5,360.3h0M105.3,412.8h0M61.0,451.8h0M168.7,322.9h0M131.1,354.0h0M61.9,437.1h0M75.0,411.0h0M61.2,430.5h0M171.7,333.1h0M117.9,375.3h0M62.5,441.6h0M126.2,376.1h0M146.5,361.8h0M54.2,433.6h0M96.7,403.4h0M80.1,427.5h0M74.7,429.8h0M177.2,329.6h0M99.1,410.2h0M139.7,373.1h0M83.8,417.6h0M94.8,415.7h0M155.7,336.7h0M94.6,401.0h0M79.8,425.5h0M106.9,371.3h0M157.4,322.3h0M156.2,328.9h0M176.2,323.8h0M124.9,345.9h0M59.6,432.1h0M141.1,339.0h0M120.3,405.3h0M149.1,363.3h0M133.8,367.6h0M135.9,363.8h0M133.1,364.3h0M88.1,413.4h0M143.3,345.7h0M137.0,365.0h0M58.4,446.7h0M138.1,350.0h0M136.7,344.7h0M153.6,345.9h0M108.3,367.1h0M97.1,409.0h0M52.8,447.2h0M67.4,424.9h0"/>
<path d="M149.7,345.0h0M126.8,345.8h0M55.8,450.4h0M77.2,416.0h0M98.2,452.3h0M58.6,429.6h0M168.3,337.8h0M170.3,329.9h0M71.1,416.0h0M160.5,332.8h0M160.7,326.8h0M110.4,375.3h0M137.6,377.1h0M170.1,339.1h0M127.9,369.9h0M165.3,335.3h0M169.5,338.0h0M72.6,441.8h0M124.2,381.4h0M102.1,406.5h0M104.6,371.8h0M160.5,367.2h0M136.6,331.7h0M135.7,402.7h0M107.0,333.3h0M84.3,413.0h0M87.0,397.9h0M158.3,375.9h0M143.8,339.1h0M138.2,347.3h0M79.3,431.5h0M74.5,417.9h0M114.7,397.2h0M80.8,422.8h0M146.0,335.2h0M150.8,404.1h0M145.1,349.2h0M176.7,331.1h0M132.8,356.8h0M128.0,349.1h0M55.4,431.0h0M145.1,359.0h0M163.3,329.5h0M155.8,353.2h0M148.5,378.3h0M83.5,409.7h0M137.8,335.0h0M79.4,408.0h0M86.7,409.8h0M92.7,404.0h0M146.1,336.6h0M161.5,343.4h0M104.8,404.4h0M81.3,425.0h0M113.2,352.4h0M92.5,409.5h0M124.9,363.9h0M177.0,326.3h0M92.9,386.0h0M125.4,378.3h0M137.1,430.9h0M84.3,418.7h0M101.8,418.2h0M98.9,428.2h0M164.3,321.9h0M177.6,327.1h0M144.1,360.8h0M75.6,403.4h0M120.1,384.1h0M142.8,352.1h0M164.0,334.9h0M127.7,373.8h0M111.1,374.6h0M66.3,429.3h0M75.9,424.8h0M90.7,395.6h0M166.5,346.2h0M132.0,390.1h0M133.6,341.8h0M113.3,383.8h0M67.1,420.5h0M134.5,357.0h0M133.3,386.5h0M134.4,343.1h0M56.9,407.8h0M94.7,408.2h0M123.2,384.3h0M121.5,347.9h0M119.8,367.1h0M112.3,379.1h0M107.8,400.2h0M161.6,324.1h0M143.3,337.3h0M120.1,388.0h0M129.7,387.5h0M165.5,330.7h0M99.9,390.5h0M148.5,358.0h0M170.8,335.1h0M69.6,430.1h0"/>
<path d="M162.7,343.0h0M54.6,436.4h0M119.0,397.7h0M79.3,439.3h0M91.1,410.7h0M75.5,433.3h0M133.0,353.7h0M116.4,387.4h0M105.8,408.9h0M55.9,449.0h0M121.8,386.2h0M58.4,432.2h0M121.8,382.6h0M173.7,377.2h0M68.8,449.6h0M111.9,410.5h0M150.8,356.4h0M164.4,333.2h0M79.3,413.8h0M152.1,359.8h0M101.3,373.5h0M169.4,338.4h0M71.0,451.6h0M159.2,333.1h0M93.7,397.2h0M56.6,446.7h0M133.1,366.0h0M79.8,383.0h0M108.1,402.3h0M68.7,425.5h0M59.8,414.9h0M115.7,347.4h0M99.9,420.1h0M152.5,343.2h0M106.4,407.6h0M153.1,322.8h0M122.4,366.0h0M95.0,405.4h0M85.1,395.1h0M70.7,403.5h0M49.5,443.3h0M91.5,415.4h0M90.5,426.7h0M159.4,326.6h0M131.9,381.8h0M147.6,431.6h0M65.9,446.5h0M141.8,348.5h0M97.7,415.4h0M67.6,418.8h0M101.9,371.1h0M98.0,427.8h0M162.7,328.7h0M135.6,345.2h0M107.5,399.5h0M145.6,350.0h0M94.3,393.2h0M92.5,413.4h0M84.7,406.4h0M52.1,442.1h0M147.7,357.5h0M98.4,410.1h0M67.7,432.0h0M150.7,351.8h0M50.4,446.9h0M104.7,395.1h0M174.3,336.2h0M109.2,406.3h0M80.6,434.0h0M53.9,433.3h0M63.4,446.6h0M55.2,444.8h0M153.9,342.6h0M95.3,402.1h0M172.5,335.5h0M92.9,399.2h0M156.0,352.0h0M72.9,383.4h0M91.8,413.2h0M131.4,380.1h0M110.6,379.9h0M120.7,382.7h0M112.8,421.9h0M78.4,413.7h0M169.6,322.5h0M132.9,358.9h0M50.0,448.9h0M86.2,431.3h0M95.8,401.7h0M56.3,439.9h0M94.3,403.2h0M69.2,428.2h0M67.8,449.8h0M54.4,450.6h0M90.8,406.0h0M99.9,422.6h0M109.2,375.4h0M63.6,426.8h0M89.9,411.9h0M143.1,383.9h0"/>
<path d="M111.6,394.0h0M57.5,449.1h0M102.1,401.4h0M134.7,396.3h0M136.9,360.6h0M147.7,362.5h0M63.0,436.4h0M156.6,330.3h0M64.4,453.1h0M150.2,346.2h0M141.6,337.4h0M67.3,402.7h0M124.8,383.5h0M146.0,339.3h0M84.6,438.6h0M94.7,392.3h0M102.8,409.3h0M173.5,326.2h0M106.8,397.4h0M142.9,344.1h0M84.1,418.5h0M68.3,449.7h0M88.4,364.6h0M79.8,416.2h0M116.3,407.1h0M105.3,415.2h0M87.7,392.4h0M70.4,446.7h0M77.4,438.3h0M135.6,367.3h0M142.6,373.5h0M172.1,322.4h0M88.6,389.9h0M112.3,344.9h0M128.7,368.8h0M72.4,439.8h0M58.6,416.9h0M82.7,430.3h0M51.8,433.1h0M62.1,430.8h0M160.5,332.9h0M141.5,383.1h0M86.2,432.3h0M71.4,417.0h0M161.4,349.0h0M68.9,426.6h0M108.6,373.9h0M64.1,407.4h0M117.6,392.5h0M113.6,374.1h0M156.8,423.4h0M135.8,364.4h0M160.2,340.4h0M146.3,356.7h0M87.3,403.6h0M58.5,429.6h0M165.1,336.5h0M138.5,364.9h0M78.2,409.5h0M115.4,394.7h0M171.0,332.4h0M166.5,364.0h0M123.5,380.9h0M86.9,438.9h0M54.4,443.0h0M62.0,426.8h0M177.6,322.5h0M77.7,452.7h0M121.3,372.6h0M73.0,437.2h0M144.5,348.2h0M166.9,348.9h0M158.8,322.2h0M160.9,335.1h0M53.8,444.5h0M143.0,344.1h0M80.9,412.9h0M103.0,424.5h0M77.1,417.8h0M130.2,364.1h0M90.4,398.7h0M124.6,387.0h0M49.6,442.4h0M89.4,432.9h0M75.5,403.9h0M175.1,340.6h0M80.9,412.2h0M125.4,388.6h0M172.8,330.4h0M150.5,355.1h0M87.8,398.1h0M79.7,438.4h0M72.7,432.8h0M166.4,340.3h0M95.9,386.9h0M172.1,323.3h0M103.5,382.9h0M119.4,403.8h0M120.6,404.4h0M80.1,446.5h0"/>
<path d="M132.7,368.8h0M65.8,444.5h0M144.9,345.6h0M157.9,378.7h0M55.0,395.6h0M144.1,374.7h0M166.4,332.9h0M82.5,409.4h0M120.8,356.2h0M162.1,339.4h0M116.1,364.7h0M97.9,399.3h0M94.6,394.2h0M64.3,442.0h0M75.4,404.3h0M56.4,444.1h0M82.5,392.5h0M167.7,328.3h0M74.9,417.1h0M91.5,426.8h0M60.5,443.8h0M89.5,405.6h0M164.8,331.1h0M129.4,382.6h0M59.8,437.9h0M50.4,449.3h0M58.8,449.3h0M130.2,374.4h0M100.0,392.3h0M111.3,428.5h0M68.0,442.7h0M154.3,337.6h0M165.2,360.0h0M159.5,338.8h0M123.6,391.9h0M144.0,330.5h0M130.8,350.8h0M150.7,354.6h0M85.2,436.7h0M139.1,358.6h0M123.2,377.3h0M90.8,426.0h0M80.9,422.7h0M159.4,358.4h0M85.6,390.6h0M74.0,407.4h0M143.0,361.9h0M59.1,433.3h0M73.1,419.1h0M124.0,393.2h0M127.6,346.5h0M108.7,371.2h0M117.9,401.5h0M171.3,328.2h0M54.1,452.6h0M110.6,393.2h0M163.6,329.5h0M164.6,334.9h0M101.8,401.4h0M102.3,412.3h0M158.1,322.4h0M113.9,368.4h0M49.9,439.7h0M154.7,358.4h0M164.3,380.2h0M96.0,412.7h0M121.3,375.7h0M60.1,441.6h0M131.1,368.7h0M151.8,361.9h0M168.6,348.9h0M136.2,386.9h0M105.5,391.1h0M130.5,390.2h0M119.8,370.2h0M100.3,418.6h0M90.1,406.0h0M149.9,337.3h0M100.1,401.7h0M105.5,387.6h0M138.1,362.0h0M158.5,347.9h0M130.6,393.3h0M99.5,400.6h0M117.5,398.8h0M107.9,381.5h0M86.0,445.4h0M71.8,447.4h0M169.8,354.2h0M55.7,453.1h0M127.4,375.3h0M85.4,401.8h0M77.2,428.1h0M126.2,366.1h0M109.0,406.4h0M168.5,341.8h0M92.4,415.9h0M92.7,412.4h0M50.5,445.2h0M145.8,333.2h0"/>
<path d="M167.7,358.0h0M94.2,388.4h0M102.9,402.5h0M128.5,390.3h0M55.2,446.8h0M68.5,378.7h0M48.5,440.8h0M144.0,371.2h0M106.3,397.8h0M173.3,326.4h0M146.2,375.8h0M147.7,326.5h0M62.4,423.7h0M111.7,378.6h0M163.3,339.4h0M99.7,397.2h0M164.8,366.5h0M156.7,344.3h0M52.7,449.8h0M126.9,375.9h0M111.0,389.4h0M116.5,395.2h0M150.8,363.1h0M113.7,360.8h0M136.7,379.7h0M57.8,447.2h0M74.2,440.6h0M53.8,448.8h0M57.3,452.3h0M88.4,448.5h0M64.9,425.3h0M91.1,404.4h0M87.7,434.1h0M176.6,336.2h0M153.7,356.6h0M92.0,437.2h0M176.2,324.5h0M93.1,390.7h0M122.0,404.8h0M175.3,334.7h0M121.9,389.2h0M130.0,378.7h0M145.1,416.3h0M105.6,409.1h0M94.6,419.6h0M141.9,358.7h0M49.2,444.1h0M66.4,438.5h0M171.5,323.3h0M177.3,333.8h0M107.7,367.6h0M119.1,385.0h0M105.0,422.1h0M126.1,371.8h0M89.7,388.3h0M121.9,376.7h0M95.1,394.3h0M141.0,362.6h0M94.3,413.7h0M65.2,451.3h0M150.7,348.3h0M171.9,322.5h0M148.8,338.4h0M143.3,393.7h0M78.1,415.8h0M72.8,427.2h0M124.7,373.8h0M70.0,397.9h0M117.7,385.1h0M132.5,369.0h0M116.7,377.5h0M143.3,364.4h0M170.4,325.2h0M117.7,387.3h0M129.6,393.6h0M87.9,432.2h0M157.3,381.5h0M99.9,406.7h0M89.7,419.1h0M107.1,388.4h0M112.3,380.6h0M126.7,357.8h0M153.2,342.0h0M109.8,394.6h0M84.6,408.7h0M112.3,418.0h0M60.0,409.9h0M63.5,405.4h0M66.7,427.8h0M142.1,355.8h0M177.5,324.3h0M56.9,442.9h0M125.6,376.3h0M149.6,351.8h0M67.9,444.1h0M93.5,403.6h0M132.5,352.7h0M135.0,354.6h0M74.5,431.5h0M77.7,400.6h0"/>
<path d="M103.9,381.1h0M135.1,375.2h0M157.2,333.5h0M71.6,420.6h0M171.8,332.1h0M108.7,391.6h0M124.8,369.9h0M77.2,411.8h0M53.1,439.7h0M80.8,426.4h0M85.0,438.1h0M118.9,390.7h0M146.7,372.1h0M74.2,431.0h0M150.4,388.7h0M164.9,344.6h0M146.2,349.5h0M95.8,423.6h0M61.9,417.1h0M174.8,329.3h0M114.0,367.1h0M152.3,411.0h0M96.4,404.4h0M105.3,406.2h0M126.5,376.5h0M131.4,374.8h0M177.4,339.9h0M57.4,441.7h0M53.3,445.3h0M173.7,349.6h0M159.0,353.0h0M134.8,376.3h0M55.0,447.7h0M91.0,413.8h0M160.5,331.5h0M58.5,440.0h0M175.4,335.2h0M121.3,376.0h0M112.5,380.7h0M83.2,424.1h0M139.5,368.0h0M155.8,348.9h0M96.8,396.5h0M77.0,420.5h0M79.6,434.4h0M126.3,384.7h0M96.9,362.2h0M81.5,397.2h0M49.9,448.7h0M80.8,394.0h0M109.8,383.1h0M78.9,428.3h0M147.1,346.1h0M128.5,359.1h0M73.5,439.6h0M172.1,325.5h0M163.3,341.2h0M102.7,429.3h0M65.2,431.0h0M61.6,451.0h0M85.3,427.3h0M86.5,418.7h0M172.4,341.4h0M63.4,444.5h0M125.6,374.3h0M87.6,414.6h0M173.8,339.7h0M168.5,334.9h0M119.2,379.2h0M127.7,355.9h0M72.9,449.5h0M95.4,380.5h0M168.5,329.2h0M125.8,368.2h0M142.5,348.7h0M97.1,401.0h0M151.1,440.3h0M136.0,347.5h0M97.2,409.1h0M166.4,324.3h0M110.7,388.2h0M146.2,371.7h0M132.2,383.1h0M170.5,336.0h0M55.0,405.9h0M170.7,325.9h0M132.6,369.3h0M48.6,444.0h0M56.4,440.6h0M167.5,343.1h0M73.1,425.8h0M169.0,341.2h0M137.6,422.8h0M151.8,365.3h0M90.8,420.9h0M128.4,357.1h0M67.0,424.4h0M96.9,368.8h0M56.2,449.7h0M163.1,331.0h0"/>
<path d="M73.6,406.6h0M147.8,326.5h0M138.3,349.2h0M98.0,392.0h0M86.2,399.6h0M176.2,324.8h0M71.0,433.4h0M124.9,417.8h0M155.8,361.3h0M75.0,405.7h0M102.5,416.0h0M120.8,360.9h0M132.7,366.7h0M110.6,401.0h0M174.0,338.1h0M109.3,388.3h0M52.2,444.2h0M49.6,450.1h0M68.4,433.1h0M96.2,399.7h0M116.6,326.1h0M94.6,376.8h0M109.9,412.3h0M125.9,379.5h0M109.5,419.4h0M114.4,369.3h0M155.3,328.5h0M77.6,450.8h0M102.5,394.0h0M72.1,420.7h0M148.5,361.7h0M53.5,416.2h0M154.4,338.8h0M60.7,429.4h0M103.1,409.3h0M77.7,449.3h0M143.1,346.7h0M125.8,380.5h0M115.8,392.0h0M53.2,452.4h0M49.0,437.3h0M100.4,399.4h0M60.4,423.0h0M136.7,380.9h0M148.9,388.7h0M147.5,358.5h0M134.4,364.0h0M139.2,370.0h0M158.3,344.2h0M52.9,445.4h0M104.2,386.2h0M129.2,327.1h0M145.8,329.7h0M143.8,335.4h0M98.3,407.4h0M150.1,379.9h0M141.4,352.7h0M95.2,419.1h0M160.5,360.6h0M172.1,322.5h0M141.2,375.4h0M147.4,348.2h0M109.6,389.4h0M90.2,421.2h0M141.7,341.3h0M109.8,432.2h0M142.0,354.2h0M172.8,329.1h0M91.3,422.2h0M68.2,396.5h0M131.0,352.3h0M127.8,370.3h0M56.0,428.8h0M154.7,331.6h0M68.9,428.9h0M126.1,359.2h0M122.5,382.5h0M87.6,408.0h0M84.3,394.5h0M162.7,326.4h0M95.9,434.8h0M142.8,376.5h0M107.9,374.8h0M124.1,391.5h0M86.7,397.3h0M147.4,409.7h0M161.3,335.7h0M96.4,413.4h0M159.8,358.9h0M69.1,394.1h0M95.4,410.7h0M104.2,395.9h0M168.3,331.6h0M101.4,380.3h0M137.8,353.1h0M101.7,394.4h0M51.2,430.9h0M126.7,412.1h0M140.3,369.2h0M163.4,357.0h0"/>
<path d="M69.1,419.9h0M52.3,450.3h0M71.0,383.8h0M137.6,367.3h0M113.3,393.4h0M132.9,324.6h0M97.9,421.6h0M55.2,449.9h0M176.5,374.4h0M97.8,376.8h0M50.0,446.2h0M62.8,447.3h0M72.4,426.4h0M48.4,452.9h0M69.7,450.7h0M110.7,388.8h0M124.0,382.3h0M69.7,448.3h0M164.9,322.2h0M155.1,365.9h0M129.8,340.4h0M166.5,345.2h0M118.0,393.1h0M107.0,413.2h0M110.0,383.8h0M58.9,451.6h0M94.6,431.1h0M117.8,382.9h0M97.1,385.5h0M55.3,452.6h0M98.1,390.7h0M60.2,413.7h0M118.8,358.3h0M78.5,391.8h0M95.5,415.0h0M57.5,439.0h0M176.4,331.2h0M124.0,369.8h0M136.4,358.6h0M115.8,408.7h0M177.0,325.2h0M173.1,329.3h0M132.1,370.8h0M172.9,344.6h0M85.4,412.8h0M122.1,385.4h0M139.1,375.6h0M167.7,343.0h0M138.2,329.1h0M169.3,348.3h0M171.5,337.7h0M66.5,448.4h0M158.0,343.6h0M176.5,322.6h0M134.8,351.5h0M119.4,368.0h0M105.7,358.6h0M100.6,415.6h0M177.1,323.2h0M99.0,422.0h0M145.8,334.3h0M102.4,376.3h0M138.8,364.7h0M107.9,395.4h0M103.2,397.2h0M54.9,442.8h0M83.0,422.7h0M145.0,364.3h0M173.1,334.9h0M175.0,334.6h0M128.0,352.3h0M161.7,339.8h0M114.0,375.6h0M49.3,449.4h0M176.1,332.7h0M140.9,364.7h0M158.2,344.5h0M110.8,379.7h0M132.7,348.1h0M155.7,354.1h0M119.9,356.4h0M139.5,422.8h0M85.0,436.6h0M131.0,353.4h0M64.4,429.9h0M50.2,437.4h0M147.0,368.3h0M61.8,438.2h0M117.0,362.7h0M153.1,358.6h0M112.9,394.6h0M147.4,358.6h0M151.6,373.2h0M83.2,433.0h0M104.0,381.6h0M164.7,331.2h0M52.7,437.0h0M129.3,350.2h0M163.2,332.0h0M146.6,338.5h0"/>
<path d="M70.6,418.7h0M125.3,356.6h0M75.1,406.2h0M58.8,442.1h0M168.3,344.4h0M156.8,365.5h0M128.1,373.9h0M96.4,404.9h0M61.0,397.1h0M52.2,433.1h0M157.1,338.4h0M147.2,336.9h0M94.5,416.7h0M155.4,355.9h0M70.0,410.6h0M59.8,437.3h0M108.7,399.0h0M125.6,365.1h0M67.5,442.7h0M94.1,413.7h0M117.2,398.9h0M109.5,399.7h0M127.2,388.7h0M66.1,440.2h0M96.2,402.3h0M92.0,428.6h0M104.3,395.5h0M129.9,352.5h0M74.2,418.5h0M87.1,408.0h0M89.0,402.2h0M144.6,367.2h0M72.1,445.5h0M150.1,368.5h0M55.8,439.6h0M128.9,354.1h0M129.2,381.9h0M78.5,421.9h0M104.9,384.9h0M82.9,414.2h0M95.2,397.2h0M54.2,452.1h0M129.4,354.7h0M145.6,335.7h0M154.0,332.7h0M142.1,341.5h0M103.5,435.0h0M129.6,354.9h0M135.1,375.6h0M97.3,431.6h0M160.3,345.5h0M175.2,321.8h0M82.8,432.3h0M115.7,391.2h0M136.4,361.0h0M154.4,347.8h0M129.1,364.6h0M110.9,403.1h0M62.0,449.5h0M122.3,363.2h0M104.5,399.9h0M163.7,344.0h0M126.2,389.7h0M120.8,370.6h0M90.3,407.2h0M120.3,407.7h0M170.9,327.1h0M176.7,325.2h0M122.1,367.0h0M97.0,407.5h0M70.8,421.0h0M86.1,418.3h0M121.1,395.7h0M121.7,362.7h0M166.4,323.3h0M149.7,351.8h0M55.8,451.7h0M53.6,428.4h0M131.3,368.1h0M137.3,343.5h0M95.3,430.8h0M159.5,329.8h0M164.5,333.4h0M58.8,449.0h0M164.3,350.1h0M150.6,349.7h0M98.9,428.4h0M137.3,370.6h0M164.5,323.9h0M52.6,452.8h0M53.1,427.3h0M164.0,324.3h0M115.3,374.5h0M101.9,394.4h0M49.9,449.0h0M177.0,329.2h0M59.4,437.2h0M59.1,436.0h0M108.5,399.7h0M144.9,361.6h0"/>
</g>
</g>
<g clip-path="url(#c21)">
<use href="#ct" transform="matrix(0.12920 0 0 -0.13160 200.85 453.30)"/>
<g stroke="#000" stroke-opacity="0.3" stroke-width="3" stroke-linecap="round" fill="none">
<path d="M268.3,366.0h0M284.0,376.0h0M322.8,338.4h0M202.2,448.8h0M301.2,341.7h0M230.6,418.3h0M291.1,361.0h0M295.7,348.3h0M288.6,364.1h0M267.7,395.9h0M271.5,398.5h0M237.7,415.4h0M256.0,408.5h0M228.8,399.3h0M278.0,357.1h0M313.8,327.1h0M287.9,342.0h0M294.0,339.1h0M236.4,421.6h0M239.8,411.5h0M284.1,371.5h0M323.3,335.2h0M239.4,395.2h0M284.7,388.0h0M238.9,371.8h0M295.6,360.8h0M288.3,382.6h0M214.5,430.9h0M206.9,446.7h0M265.0,381.7h0M274.5,390.1h0M329.9,323.3h0M277.6,380.6h0M252.8,403.9h0M267.7,398.3h0M203.3,406.5h0M313.2,345.7h0M266.9,382.5h0M253.5,413.4h0M312.2,322.5h0M289.1,410.6h0M312.6,331.5h0M294.0,373.9h0M327.3,323.3h0M231.2,449.6h0M290.3,370.3h0M220.6,442.7h0M321.4,339.8h0M249.3,382.9h0M299.0,355.8h0M245.2,404.0h0M232.2,408.0h0M243.8,408.7h0M269.7,402.3h0M267.9,367.2h0M313.7,352.3h0M233.8,420.9h0M203.8,449.0h0M201.7,447.6h0M305.6,335.8h0M329.5,326.2h0M307.2,345.6h0M219.7,449.1h0M253.4,397.2h0M233.8,451.9h0M314.4,343.1h0M289.4,368.5h0M241.1,428.6h0M275.2,360.9h0M237.6,412.3h0M287.6,339.0h0M328.6,345.7h0M244.5,406.3h0M326.3,343.2h0M227.3,427.5h0M263.0,381.5h0M225.0,421.4h0M285.9,409.7h0M326.8,346.1h0M209.8,450.3h0M312.8,322.4h0M208.0,443.3h0M228.3,409.4h0M226.3,426.0h0M210.0,443.9h0M213.1,412.2h0M236.4,449.5h0M272.3,362.7h0M253.7,392.0h0M328.6,323.9h0M223.0,448.4h0M256.2,432.2h0M270.2,406.2h0M232.7,420.9h0M252.2,398.2h0M209.8,405.9h0M295.5,350.1h0M312.1,348.5h0M310.7,372.0h0M298.2,371.7h0"/>
<path d="M245.9,417.4h0M261.2,395.6h0M315.2,346.2h0M299.9,375.7h0M323.2,324.5h0M244.0,431.6h0M308.5,355.1h0M223.0,396.5h0M286.7,338.5h0M301.4,350.2h0M239.0,386.5h0M217.2,433.1h0M216.0,446.4h0M221.0,416.9h0M203.3,444.2h0M302.9,341.8h0M241.8,418.5h0M295.9,326.4h0M268.0,398.8h0M218.0,447.5h0M205.9,449.4h0M276.2,367.1h0M278.1,362.0h0M223.4,430.9h0M249.6,409.3h0M238.9,333.3h0M305.8,344.4h0M267.1,427.5h0M285.8,353.4h0M295.8,349.0h0M300.5,400.9h0M217.9,417.1h0M300.5,396.0h0M251.8,415.9h0M319.3,343.3h0M278.9,414.4h0M261.0,378.3h0M316.2,339.4h0M266.5,394.6h0M279.9,363.8h0M238.6,427.8h0M240.1,409.0h0M291.1,385.4h0M314.8,339.2h0M295.2,371.2h0M314.4,322.8h0M235.4,405.7h0M304.0,326.5h0M256.7,401.9h0M232.4,373.1h0M323.7,326.2h0M201.2,452.8h0M262.5,373.8h0M270.7,354.0h0M262.7,391.2h0M289.7,345.2h0M261.9,403.8h0M265.2,377.3h0M229.3,418.5h0M257.3,413.7h0M305.7,354.6h0M260.0,399.4h0M243.0,405.6h0M245.6,418.2h0M236.1,428.2h0M265.4,374.5h0M215.7,439.6h0M231.4,383.0h0M270.1,368.2h0M276.4,404.4h0M225.1,437.1h0M201.1,445.3h0M305.3,362.5h0M319.0,347.5h0M219.4,437.3h0M235.5,406.1h0M287.6,364.7h0M229.7,416.5h0M231.5,423.5h0M310.4,354.2h0M203.6,449.3h0M318.1,341.8h0M217.7,428.2h0M269.4,390.7h0M277.2,364.3h0M249.6,388.8h0M283.3,385.0h0M325.7,323.8h0M264.7,401.0h0M229.6,417.4h0M212.5,433.3h0M266.1,406.0h0M242.7,367.4h0M317.4,364.0h0M230.0,408.2h0M241.7,443.2h0M288.8,368.8h0M271.0,381.3h0M229.1,423.6h0M316.8,342.0h0"/>
<path d="M329.2,325.0h0M246.0,416.7h0M203.9,436.2h0M257.9,407.6h0M266.4,374.6h0M219.6,431.5h0M272.4,375.1h0M236.3,411.5h0M302.4,351.8h0M272.2,366.1h0M255.9,402.1h0M282.2,375.6h0M255.7,379.9h0M306.6,348.7h0M249.8,376.3h0M314.6,322.9h0M229.3,449.8h0M264.8,380.3h0M256.6,406.6h0M303.2,347.9h0M203.9,447.2h0M218.0,436.1h0M317.7,358.9h0M296.7,347.9h0M312.0,339.8h0M237.6,409.7h0M203.7,438.6h0M311.4,328.8h0M277.4,428.5h0M320.1,337.6h0M262.4,393.2h0M218.7,440.6h0M236.0,409.3h0M297.8,351.6h0M250.7,407.3h0M207.1,450.1h0M248.9,401.0h0M279.8,370.2h0M281.9,371.8h0M207.6,449.0h0M305.7,331.7h0M216.8,435.4h0M265.4,384.3h0M289.6,368.7h0M300.8,324.8h0M206.1,430.1h0M315.5,364.3h0M322.0,331.4h0M208.9,448.7h0M289.4,347.6h0M272.4,379.2h0M281.7,364.6h0M312.7,329.3h0M201.5,447.2h0M316.0,328.5h0M213.6,440.6h0M242.1,397.2h0M268.7,388.4h0M241.0,431.1h0M302.2,364.3h0M273.1,374.1h0M202.8,446.7h0M277.9,352.5h0M211.8,447.6h0M285.7,358.5h0M274.2,432.6h0M258.9,388.6h0M261.7,371.2h0M231.4,388.1h0M206.3,436.4h0M247.0,403.6h0M210.3,431.0h0M326.4,321.8h0M270.9,375.8h0M267.8,368.4h0M232.1,432.3h0M245.5,370.3h0M244.7,402.4h0M312.3,339.7h0M248.7,401.4h0M225.4,378.7h0M304.4,335.2h0M308.2,341.9h0M207.4,446.9h0M326.5,329.2h0M269.0,376.5h0M244.9,415.7h0M306.7,329.5h0M233.5,399.9h0M259.3,410.7h0M210.6,439.8h0M222.0,449.8h0M222.9,437.3h0M229.5,415.8h0M233.4,415.8h0M233.3,434.4h0M313.9,348.9h0M211.6,450.0h0M227.0,418.3h0M307.3,326.6h0"/>
<path d="M241.7,397.4h0M227.5,452.4h0M286.9,385.1h0M236.1,393.2h0M277.0,361.7h0M271.7,364.7h0M226.2,438.0h0M245.5,425.5h0M278.6,368.2h0M327.5,330.7h0M315.8,333.5h0M251.7,394.4h0M204.2,447.4h0M267.0,387.8h0M303.9,369.3h0M251.7,400.2h0M269.6,393.9h0M300.8,340.4h0M261.9,362.7h0M310.2,355.9h0M205.5,450.6h0M302.8,442.5h0M293.2,356.8h0M262.8,387.6h0M316.1,352.3h0M223.0,407.2h0M249.2,419.1h0M236.1,382.5h0M317.9,332.9h0M311.2,386.2h0M233.1,413.9h0M298.8,348.3h0M258.6,406.5h0M325.6,326.5h0M268.4,428.1h0M206.7,452.6h0M324.2,343.5h0M295.8,378.7h0M252.1,418.8h0M239.3,395.8h0M294.9,382.9h0M250.8,417.6h0M264.1,374.3h0M305.3,357.8h0M213.3,452.4h0M210.2,448.9h0M264.8,367.1h0M251.5,403.4h0M241.4,408.0h0M303.4,349.7h0M299.9,366.5h0M228.7,421.0h0M319.3,324.3h0M288.7,324.3h0M274.2,423.8h0M326.5,336.2h0M283.7,350.7h0M227.6,408.0h0M216.3,433.1h0M264.4,363.3h0M221.1,433.3h0M235.3,416.0h0M217.9,425.5h0M329.7,331.1h0M261.5,396.5h0M201.6,433.1h0M280.2,350.2h0M228.6,427.8h0M298.2,345.7h0M328.1,336.6h0M289.9,344.7h0M273.7,334.2h0M222.5,438.9h0M248.0,413.4h0M238.4,439.3h0M224.7,439.0h0M280.2,367.6h0M287.6,364.9h0M269.3,393.4h0M313.7,332.8h0M202.9,449.9h0M232.0,443.6h0M241.4,404.3h0M265.8,373.5h0M228.6,429.9h0M316.7,336.5h0M223.1,422.0h0M223.9,413.7h0M271.8,382.9h0M273.2,391.9h0M249.5,420.5h0M292.3,358.0h0M221.0,438.1h0M301.5,328.7h0M237.4,425.3h0M309.7,373.9h0M243.5,397.8h0M255.5,409.5h0M222.1,427.8h0M284.6,370.6h0"/>
<path d="M284.8,379.9h0M232.6,390.6h0M295.6,342.6h0M320.9,330.9h0M292.5,380.9h0M248.9,389.9h0M231.0,443.4h0M211.7,405.9h0M204.9,426.8h0M253.1,399.7h0M260.8,368.1h0M326.2,334.7h0M236.0,413.7h0M289.1,336.7h0M277.8,380.9h0M263.9,394.0h0M272.4,430.7h0M233.1,418.7h0M313.4,335.7h0M276.9,348.6h0M210.2,439.6h0M249.3,440.1h0M318.9,333.2h0M321.6,341.3h0M230.9,430.5h0M206.0,447.2h0M211.5,444.5h0M246.4,391.1h0M215.9,446.5h0M271.2,369.0h0M264.4,411.9h0M222.6,418.7h0M254.7,413.4h0M212.8,447.7h0M213.9,440.6h0M310.4,340.3h0M294.5,348.8h0M257.0,375.4h0M267.6,374.8h0M250.7,386.2h0M244.2,420.4h0M228.2,434.4h0M261.3,375.6h0M226.0,429.8h0M311.9,327.7h0M239.1,431.0h0M273.7,397.3h0M293.9,371.8h0M247.0,399.2h0M251.4,376.3h0M291.5,354.6h0M205.0,442.7h0M234.5,419.6h0M225.7,403.7h0M309.4,344.3h0M251.8,395.1h0M322.7,329.1h0M282.9,362.6h0M310.0,356.6h0M205.5,440.8h0M316.0,348.2h0M263.3,383.8h0M317.4,324.8h0M329.4,329.2h0M316.8,371.2h0M271.6,384.6h0M268.5,375.2h0M328.2,332.1h0M227.8,403.9h0M260.0,386.2h0M323.4,370.3h0M258.6,417.9h0M316.1,325.5h0M231.8,393.0h0M228.7,416.2h0M280.8,350.0h0M293.5,359.1h0M211.7,442.0h0M328.3,332.9h0M311.9,335.1h0M278.4,356.8h0M238.7,413.8h0M223.7,438.2h0M241.7,402.5h0M291.0,372.6h0M216.8,426.8h0M256.9,422.1h0M232.8,407.1h0M315.8,364.0h0M265.0,395.2h0M260.3,393.2h0M246.6,409.1h0M329.4,329.6h0M294.6,352.0h0M289.1,337.4h0M230.5,411.0h0M224.0,428.4h0M207.8,441.6h0M290.9,361.6h0M282.4,402.3h0"/>
<path d="M255.8,424.2h0M257.2,408.7h0M262.8,390.2h0M255.3,381.1h0M250.0,413.2h0M277.7,395.4h0M323.1,338.1h0M276.1,390.3h0M280.0,379.1h0M252.1,362.7h0M250.7,388.2h0M215.3,442.9h0M260.5,377.5h0M221.6,438.6h0M268.7,383.9h0M322.8,325.2h0M297.5,343.5h0M208.0,431.7h0M285.9,325.2h0M312.2,376.8h0M318.3,333.4h0M223.4,404.9h0M325.3,337.8h0M215.8,416.9h0M204.6,446.5h0M211.2,416.8h0M280.9,358.6h0M297.1,372.7h0M252.9,394.7h0M217.0,445.5h0M288.1,361.5h0M324.7,333.8h0M254.9,442.5h0M248.7,428.6h0M311.6,361.8h0M292.3,356.4h0M306.1,353.1h0M227.1,442.1h0M210.6,444.1h0M233.9,398.1h0M251.6,406.7h0M220.0,447.3h0M221.8,447.3h0M230.5,419.4h0M281.2,388.3h0M326.5,323.2h0M303.0,367.3h0M235.0,436.2h0M224.8,423.1h0M236.9,410.1h0M263.0,395.0h0M201.4,449.5h0M232.4,427.2h0M313.2,336.4h0M272.1,380.6h0M283.8,376.7h0M204.9,441.7h0M266.3,399.0h0M229.4,437.2h0M258.0,385.5h0M246.1,390.5h0M233.6,416.0h0M298.0,384.9h0M230.0,403.5h0M306.2,348.2h0M329.6,322.3h0M239.2,417.8h0M282.3,373.1h0M209.9,453.1h0M321.5,336.2h0M286.0,346.7h0M214.5,445.2h0M321.3,348.9h0M242.5,431.5h0M233.5,426.8h0M237.5,426.4h0M288.5,334.9h0M255.3,407.4h0M261.0,394.4h0M270.2,404.4h0M266.8,412.8h0M326.4,331.1h0M203.7,436.0h0M250.6,409.5h0M293.1,345.0h0M285.4,339.1h0M214.2,438.3h0M267.1,416.8h0M277.6,395.6h0M230.9,420.5h0M294.3,375.3h0M287.2,350.4h0M280.8,326.5h0M243.5,394.0h0M208.8,451.8h0M235.8,449.7h0M271.4,377.1h0M266.3,381.9h0M264.6,379.5h0M327.5,341.4h0"/>
<path d="M295.1,366.0h0M322.6,327.9h0M225.3,423.3h0M230.7,425.8h0M293.0,356.6h0M241.4,360.3h0M235.6,419.1h0M296.6,352.3h0M271.5,375.3h0M229.0,398.7h0M311.9,358.4h0M277.6,359.2h0M226.1,424.8h0M309.9,359.8h0M239.3,403.4h0M322.1,326.4h0M235.7,413.0h0M215.0,439.0h0M233.8,428.3h0M298.4,348.4h0M250.2,362.2h0M245.5,429.0h0M226.9,432.2h0M236.3,407.9h0M215.5,446.1h0M215.4,444.1h0M249.8,379.7h0M258.0,399.3h0M320.3,321.9h0M272.7,413.4h0M290.7,354.1h0M232.5,449.3h0M223.1,450.7h0M303.6,370.7h0M274.5,383.1h0M242.4,411.8h0M227.6,427.9h0M273.8,397.7h0M237.0,430.3h0M230.2,394.2h0M261.3,385.1h0M267.8,387.5h0M262.0,412.7h0M210.3,429.6h0M202.4,452.2h0M255.5,399.5h0M230.1,404.8h0M279.6,393.2h0M269.9,375.6h0M306.2,339.3h0M248.1,404.2h0M318.5,326.3h0M252.8,419.9h0M205.2,440.0h0M213.7,418.0h0M250.5,409.8h0M313.4,342.6h0M258.9,398.0h0M269.4,367.1h0M318.2,361.7h0M239.7,424.9h0M263.9,357.0h0M299.0,344.2h0M328.9,326.8h0M273.7,415.3h0M317.2,348.3h0M272.1,410.1h0M294.2,352.1h0M277.4,374.8h0M222.3,434.6h0M251.6,400.6h0M217.8,444.3h0M297.6,368.8h0M218.5,433.6h0M273.2,366.0h0M291.2,375.0h0M308.1,332.7h0M212.7,444.1h0M218.8,417.4h0M252.4,404.4h0M236.0,421.2h0M297.3,359.7h0M311.8,346.1h0M291.7,355.9h0M313.0,331.3h0M317.7,330.4h0M323.1,324.6h0M279.6,399.0h0M245.5,372.1h0M253.7,404.4h0M259.1,394.6h0M315.6,364.4h0M249.2,390.7h0M250.9,404.4h0M260.4,381.6h0M203.5,451.6h0M315.5,343.8h0M220.0,439.7h0M300.0,379.8h0M302.0,343.0h0"/>
<path d="M232.6,414.6h0M263.8,399.6h0M328.8,322.6h0M276.7,376.3h0M253.3,383.1h0M273.9,358.0h0M267.2,397.2h0M317.8,346.2h0M264.1,375.6h0M223.4,406.4h0M293.8,380.1h0M320.5,335.0h0M255.1,380.7h0M206.1,437.9h0M224.9,431.5h0M245.1,401.7h0M230.3,413.8h0M302.0,364.9h0M230.6,451.7h0M273.4,378.6h0M329.0,323.3h0M315.8,345.5h0M208.7,429.6h0M208.6,445.8h0M253.7,411.9h0M257.2,412.8h0M238.6,407.4h0M294.4,349.2h0M306.5,328.9h0M258.7,413.2h0M212.4,446.6h0M206.8,416.2h0M301.4,345.1h0M307.2,337.5h0M232.2,429.6h0M328.8,330.3h0M277.2,350.8h0M292.6,366.7h0M285.6,334.3h0M328.4,325.3h0M224.8,440.8h0M235.4,449.7h0M230.9,451.3h0M288.8,339.6h0M232.8,417.0h0M273.4,382.6h0M202.9,444.7h0M255.8,352.4h0M267.5,384.3h0M312.8,347.5h0M317.5,344.1h0M276.0,363.9h0M313.9,339.9h0M322.1,353.2h0M246.6,391.5h0M209.0,445.4h0M259.2,350.2h0M282.3,386.3h0M250.6,406.2h0M312.9,344.6h0M282.1,326.5h0M259.6,371.3h0M232.6,404.4h0M316.4,332.0h0M241.2,409.5h0M277.8,352.7h0M301.0,336.0h0M323.5,345.9h0M288.7,369.9h0M219.7,426.6h0M286.8,363.2h0M277.4,410.6h0M295.7,375.8h0M213.3,441.9h0M259.4,393.4h0M236.1,394.5h0M305.6,380.0h0M250.0,425.0h0M301.4,356.4h0M301.7,357.0h0M294.2,375.8h0M239.0,421.8h0M295.8,358.3h0M309.3,380.6h0M232.3,397.2h0M311.7,329.3h0M288.5,393.3h0M242.0,415.4h0M276.1,383.8h0M329.3,322.5h0M256.5,408.9h0M302.1,364.3h0M318.5,321.9h0M246.7,413.7h0M286.7,365.5h0M234.1,443.1h0M321.8,340.4h0M270.8,448.5h0M286.4,360.0h0M321.4,334.9h0"/>
<path d="M294.5,353.7h0M288.5,368.0h0M266.6,382.7h0M243.0,424.4h0M263.9,420.6h0M328.6,337.3h0M321.7,338.8h0M262.2,374.4h0M285.0,356.2h0M319.6,345.5h0M257.5,395.5h0M257.8,365.1h0M243.6,407.5h0M321.5,369.3h0M242.0,397.9h0M308.4,353.0h0M269.3,367.3h0M236.9,388.3h0M259.7,389.2h0M320.3,334.9h0M210.9,444.0h0M266.4,370.8h0M207.1,450.4h0M241.7,407.4h0M302.1,324.1h0M241.9,416.0h0M227.4,423.7h0M265.6,344.9h0M291.6,365.2h0M328.1,333.2h0M260.4,384.5h0M234.6,399.4h0M248.7,404.9h0M229.5,452.6h0M220.5,418.3h0M288.1,386.5h0M230.5,401.0h0M275.5,369.8h0M322.0,336.1h0M254.0,427.3h0M307.7,331.2h0M211.6,427.3h0M245.4,420.7h0M252.0,415.2h0M282.3,373.2h0M240.3,415.6h0M329.8,332.7h0M207.3,447.4h0M254.9,360.9h0M279.4,375.4h0M282.1,341.5h0M219.9,443.9h0M269.9,389.7h0M329.7,324.1h0M204.1,428.8h0M273.6,382.8h0M283.3,349.1h0M317.5,335.5h0M247.7,407.5h0M201.6,448.5h0M299.2,338.8h0M321.7,344.0h0M262.4,380.5h0M296.3,375.6h0M281.7,345.8h0M322.9,344.6h0M210.3,436.4h0M208.2,441.8h0M319.5,328.5h0M256.5,396.3h0M235.8,400.6h0M320.7,328.2h0M314.2,328.8h0M276.2,367.6h0M326.0,335.4h0M325.5,331.2h0M206.9,453.1h0M250.9,406.3h0M277.4,423.4h0M327.5,331.6h0M300.6,369.9h0M280.2,333.7h0M301.5,352.7h0M244.6,442.5h0M226.9,429.3h0M323.9,322.2h0M278.2,371.1h0M282.9,387.4h0M279.2,368.3h0M220.8,429.4h0M283.8,388.0h0M219.8,437.2h0M291.2,356.6h0M329.6,334.9h0M329.2,349.2h0M202.9,437.4h0M261.5,409.1h0M222.9,405.4h0M235.4,410.7h0"/>
<path d="M253.7,386.9h0M230.0,432.8h0M329.5,332.5h0M289.9,380.5h0M319.7,389.0h0M281.6,384.9h0M253.7,392.5h0M218.0,433.0h0M224.2,449.8h0M213.4,433.3h0M252.0,375.3h0M310.6,322.2h0M309.7,338.0h0M304.6,367.6h0M315.3,337.7h0M227.1,450.2h0M253.2,376.8h0M233.4,415.4h0M248.0,408.7h0M237.6,410.2h0M247.5,406.0h0M220.1,446.7h0M209.7,449.1h0M250.2,431.0h0M276.4,378.1h0M283.2,369.2h0M317.2,344.9h0M321.4,344.2h0M269.8,393.1h0M327.8,325.2h0M216.6,444.5h0M273.2,350.3h0M248.3,403.6h0M247.0,399.9h0M248.2,397.9h0M232.8,425.0h0M297.4,364.0h0M229.9,402.7h0M234.7,418.7h0M313.1,344.5h0M256.9,405.7h0M323.0,339.1h0M284.7,373.5h0M321.6,329.2h0M238.3,444.8h0M266.4,386.9h0M237.1,422.7h0M254.0,358.1h0M297.2,338.4h0M252.4,399.7h0M233.9,401.4h0M253.2,402.2h0M271.8,381.5h0M290.4,350.0h0M322.4,340.4h0M301.7,327.3h0M221.6,408.7h0M259.8,382.3h0M283.4,392.0h0M223.0,449.0h0M293.1,384.7h0M273.3,388.7h0M230.4,422.8h0M296.9,356.7h0M261.0,379.7h0M294.2,375.7h0M289.7,367.2h0M243.4,433.3h0M327.9,344.6h0M229.8,436.6h0M256.3,405.4h0M292.7,340.4h0M286.6,358.7h0M308.9,365.0h0M261.7,401.5h0M233.5,426.4h0M294.7,359.9h0M230.8,430.8h0M317.3,337.9h0M253.1,397.2h0M316.7,329.5h0M280.9,370.6h0M323.8,327.1h0M254.8,409.7h0M263.2,383.8h0M315.4,336.9h0M310.8,330.3h0M283.8,364.4h0M323.3,329.8h0M263.2,412.4h0M273.0,390.7h0M297.1,359.0h0M233.6,427.9h0M213.6,409.7h0M278.5,347.8h0M212.0,432.0h0M266.6,405.3h0M285.9,370.6h0M320.7,327.1h0"/>
<path d="M266.5,383.8h0M232.4,452.9h0M212.9,434.1h0M236.3,444.0h0M314.7,335.6h0M315.2,361.9h0M315.9,347.3h0M203.6,442.4h0M314.1,331.0h0M263.4,384.1h0M242.1,378.9h0M305.9,351.8h0M258.1,366.5h0M221.0,408.4h0M230.8,430.8h0M326.7,324.3h0M260.6,388.7h0M301.8,363.3h0M202.5,451.6h0M282.7,382.6h0M234.0,449.3h0M242.1,392.3h0M257.7,381.9h0M269.1,373.8h0M205.1,439.9h0M263.7,360.6h0M264.7,387.1h0M223.2,442.2h0M242.4,410.6h0M244.9,392.5h0M287.7,408.7h0M330.0,332.4h0M201.7,443.8h0M222.2,430.5h0M207.7,440.2h0M283.3,354.4h0M231.6,438.4h0M277.3,356.3h0M264.3,399.7h0M211.6,448.3h0M291.2,328.7h0M233.7,427.8h0M223.7,412.9h0M323.7,341.2h0M321.6,326.4h0M243.9,397.2h0M234.9,444.0h0M274.9,348.1h0M248.5,401.4h0M204.8,406.5h0M229.5,417.1h0M215.8,449.5h0M223.0,442.1h0M317.2,322.5h0M297.4,365.3h0M301.6,337.3h0M291.4,354.7h0M279.5,376.1h0M227.7,432.9h0M274.1,381.8h0M217.4,426.7h0M211.3,444.5h0M304.2,335.3h0M329.1,333.1h0M235.0,412.4h0M229.7,432.3h0M261.4,403.1h0M315.7,334.6h0M230.5,451.0h0M308.7,328.3h0M290.6,363.1h0M234.4,392.4h0M228.6,422.6h0M205.2,447.2h0M304.6,357.5h0M281.2,376.5h0M327.9,325.9h0M329.4,344.1h0M286.9,374.7h0M217.1,452.8h0M289.0,360.6h0M271.4,386.0h0M212.8,434.8h0M237.7,442.0h0M225.7,431.3h0M241.1,424.1h0M326.2,324.3h0M238.2,390.7h0M330.0,326.8h0M296.6,355.1h0M276.4,381.4h0M326.3,322.5h0M245.2,404.4h0M236.3,420.1h0M296.8,354.1h0M263.3,373.6h0M306.7,340.6h0M224.9,399.5h0M314.4,343.0h0"/>
<path d="M290.4,361.9h0M257.0,391.6h0M317.6,341.4h0M228.9,395.7h0M296.2,388.7h0M245.7,388.4h0M327.5,329.9h0M257.3,406.7h0M291.6,367.0h0M279.5,389.4h0M242.1,403.2h0M251.7,387.0h0M224.8,412.5h0M214.9,432.2h0M272.4,389.8h0M299.2,358.6h0M285.4,358.4h0M252.8,390.7h0M304.9,335.7h0M254.1,409.0h0M313.8,348.9h0M294.7,374.8h0M247.3,437.0h0M313.9,329.9h0M295.3,343.1h0M310.7,331.6h0M222.3,422.2h0M256.3,406.4h0M232.8,428.4h0M235.8,393.6h0M326.5,322.4h0M301.5,343.6h0M307.1,339.4h0M312.3,351.8h0M208.0,432.1h0M239.0,426.8h0M323.5,325.3h0M274.9,345.9h0M222.6,383.8h0M209.6,441.6h0M306.1,341.2h0M262.9,392.5h0M291.3,370.0h0M201.4,446.2h0M253.6,384.6h0M233.2,410.3h0M316.7,345.2h0M224.3,428.1h0M218.5,437.2h0M213.1,449.4h0M267.3,362.0h0M233.5,418.3h0M301.9,358.9h0M306.4,350.3h0M231.3,401.8h0M247.0,394.0h0M212.4,421.9h0M259.6,398.8h0M215.4,442.8h0M255.7,388.2h0M327.9,325.2h0M306.3,373.0h0M283.3,398.9h0M297.9,361.3h0M215.0,423.0h0M234.5,418.6h0M229.9,446.8h0M291.0,358.6h0M226.9,415.0h0M290.3,351.5h0M251.0,424.5h0M216.4,433.4h0M225.9,438.5h0M234.5,406.6h0M296.4,376.8h0M295.4,335.7h0M240.9,443.0h0M308.2,333.1h0M282.5,375.9h0M205.1,452.3h0M231.9,428.9h0M263.8,388.3h0M308.6,328.4h0M308.6,343.4h0M205.6,452.9h0M248.8,436.7h0M309.7,338.4h0M262.4,369.3h0M235.4,394.3h0M208.8,452.1h0M276.0,354.2h0M241.6,416.0h0M201.6,452.7h0M235.1,434.0h0M319.7,329.1h0M304.2,341.4h0M245.0,414.4h0M262.5,410.5h0M240.6,395.4h0"/>
</g>
</g>
<g clip-path="url(#c22)">
<path d="M357.00,459.10V347.60h6.09V459.10zM363.09,459.10V349.60h6.09V459.10zM369.18,459.10V340.40h6.09V459.10zM375.27,459.10V321.50h6.09V459.10zM381.36,459.10V349.60h6.09V459.10zM387.45,459.10V338.60h6.09V459.10zM393.54,459.10V353.50h6.09V459.10zM399.63,459.10V355.50h6.09V459.10zM405.72,459.10V325.70h6.09V459.10zM411.81,459.10V314.90h6.09V459.10zM417.90,459.10V342.40h6.09V459.10zM423.99,459.10V327.30h6.09V459.10zM430.08,459.10V331.10h6.09V459.10zM436.17,459.10V336.70h6.09V459.10zM442.26,459.10V347.60h6.09V459.10zM448.35,459.10V373.50h6.09V459.10zM454.44,459.10V355.30h6.09V459.10zM460.53,459.10V375.50h6.09V459.10zM466.62,459.10V371.50h6.09V459.10zM472.71,459.10V356.80h6.09V459.10z" fill="#009af9" fill-opacity="0.6" stroke="#000" stroke-opacity="0.6" stroke-width="1"/>
<path d="M357.00,401.00C357.25,399.50 357.95,395.00 358.50,392.00C359.05,389.00 359.63,385.93 360.30,383.00C360.97,380.07 361.70,377.45 362.50,374.40C363.30,371.35 364.22,367.77 365.10,364.70C365.98,361.63 366.92,358.77 367.80,356.00C368.68,353.23 369.53,350.23 370.40,348.10C371.27,345.97 372.12,344.45 373.00,343.20C373.88,341.95 374.67,341.28 375.70,340.60C376.73,339.92 378.03,339.27 379.20,339.10C380.37,338.93 381.38,339.20 382.70,339.60C384.02,340.00 385.65,340.82 387.10,341.50C388.55,342.18 389.95,343.12 391.40,343.70C392.85,344.28 394.48,344.78 395.80,345.00C397.12,345.22 398.13,345.30 399.30,345.00C400.47,344.70 401.63,344.08 402.80,343.20C403.97,342.32 405.13,340.93 406.30,339.70C407.47,338.47 408.62,337.03 409.80,335.80C410.98,334.57 412.22,333.28 413.40,332.30C414.58,331.32 415.72,330.45 416.90,329.90C418.08,329.35 419.23,329.02 420.50,329.00C421.77,328.98 423.10,329.25 424.50,329.80C425.90,330.35 427.43,331.38 428.90,332.30C430.37,333.22 431.83,334.07 433.30,335.30C434.77,336.53 436.25,337.93 437.70,339.70C439.15,341.47 440.55,343.78 442.00,345.90C443.45,348.02 444.93,350.28 446.40,352.40C447.87,354.52 449.33,356.70 450.80,358.60C452.27,360.50 453.73,362.27 455.20,363.80C456.67,365.33 458.28,366.55 459.60,367.80C460.92,369.05 461.95,370.10 463.10,371.30C464.25,372.50 465.33,373.18 466.50,375.00C467.67,376.82 469.13,380.20 470.10,382.20C471.07,384.20 471.40,384.53 472.30,387.00C473.20,389.47 474.40,393.33 475.50,397.00C476.60,400.67 478.33,407.00 478.90,409.00" fill="none" stroke="#e36f47" stroke-width="1"/>
</g>
<g clip-path="url(#c30)">
<use href="#ct" transform="matrix(0.12920 0 0 -0.13160 48.40 608.35)"/>
<g stroke="#000" stroke-opacity="0.3" stroke-width="3" stroke-linecap="round" fill="none">
<path d="M75.1,591.6h0M110.6,539.6h0M148.5,526.1h0M62.8,605.0h0M156.6,493.4h0M132.3,549.2h0M89.0,551.0h0M66.5,586.8h0M127.9,547.0h0M163.3,480.1h0M50.0,578.8h0M99.5,560.3h0M49.3,607.7h0M98.4,563.5h0M116.1,554.9h0M89.1,537.3h0M101.9,532.6h0M127.2,516.9h0M108.6,554.9h0M60.4,582.3h0M98.4,536.0h0M167.2,494.0h0M87.6,586.0h0M142.1,514.2h0M121.9,500.9h0M89.7,561.5h0M165.3,487.2h0M142.8,504.6h0M80.8,554.2h0M115.7,556.3h0M145.8,508.5h0M54.1,602.0h0M94.1,551.0h0M135.6,514.7h0M142.0,529.5h0M172.4,486.7h0M164.5,498.5h0M80.9,566.6h0M164.5,481.3h0M71.8,564.0h0M138.2,514.5h0M87.3,557.8h0M141.2,533.5h0M128.7,507.7h0M102.5,541.0h0M152.3,496.2h0M168.6,509.5h0M92.0,582.0h0M134.0,552.1h0M96.3,521.5h0M108.3,531.1h0M156.0,490.3h0M102.9,513.1h0M127.6,550.3h0M132.1,522.4h0M118.0,555.3h0M79.7,576.9h0M58.8,604.1h0M136.7,542.1h0M132.2,543.4h0M86.5,566.3h0M168.7,484.7h0M55.0,600.9h0M135.9,507.9h0M139.8,524.7h0M81.2,591.1h0M142.1,533.0h0M152.3,575.4h0M124.0,545.8h0M120.1,535.5h0M97.2,543.9h0M119.7,525.1h0M94.3,573.2h0M64.6,591.3h0M162.0,484.1h0M88.6,576.3h0M150.7,514.4h0M163.3,495.7h0M166.5,477.3h0M87.5,573.5h0M106.9,545.2h0M81.3,575.2h0M170.3,489.3h0M174.8,493.1h0M118.2,515.9h0M62.5,602.3h0M160.7,485.2h0M104.6,539.6h0M174.3,490.0h0M63.8,570.1h0M71.0,542.2h0M59.3,606.2h0M117.7,533.0h0M57.3,577.3h0M172.7,487.4h0M129.9,520.0h0M71.4,595.0h0M96.7,565.5h0M129.6,524.9h0M82.9,573.6h0"/>
<path d="M68.8,598.7h0M167.7,502.9h0M75.5,588.2h0M168.3,482.8h0M114.4,540.0h0M77.7,603.1h0M85.3,565.5h0M127.7,522.9h0M74.2,564.7h0M173.1,482.2h0M145.7,507.5h0M127.2,547.6h0M55.0,581.7h0M69.7,601.3h0M94.2,576.3h0M94.6,552.3h0M112.3,535.8h0M152.1,481.2h0M167.7,493.0h0M150.6,511.1h0M121.8,530.1h0M82.8,590.1h0M134.7,523.3h0M171.8,485.2h0M134.5,537.3h0M71.4,576.0h0M166.4,501.5h0M101.4,545.4h0M113.3,529.6h0M172.8,477.4h0M110.6,544.9h0M113.4,547.8h0M95.0,562.0h0M104.7,563.9h0M115.3,531.6h0M68.0,594.2h0M135.8,518.7h0M135.0,551.8h0M53.5,593.8h0M164.4,489.4h0M116.5,558.1h0M135.5,513.7h0M142.1,519.7h0M91.3,571.6h0M126.2,534.0h0M137.8,513.3h0M99.9,553.8h0M109.2,566.7h0M121.7,570.3h0M90.5,590.5h0M115.8,532.3h0M138.1,515.3h0M127.1,513.2h0M94.9,590.3h0M102.7,542.6h0M70.8,576.8h0M155.8,512.7h0M89.5,576.7h0M176.2,478.6h0M150.8,500.7h0M104.8,562.3h0M128.0,523.5h0M139.2,498.0h0M126.8,499.1h0M113.6,548.3h0M98.3,541.8h0M146.7,523.9h0M80.8,574.1h0M125.8,511.3h0M144.0,513.3h0M50.4,592.5h0M61.8,596.8h0M129.1,519.3h0M105.3,549.9h0M137.0,493.8h0M79.0,533.7h0M64.9,580.4h0M162.7,486.1h0M121.5,526.3h0M121.4,526.5h0M146.0,513.7h0M83.2,564.4h0M84.6,603.2h0M92.7,552.5h0M97.9,570.3h0M129.3,515.0h0M105.5,531.1h0M56.5,561.9h0M104.2,546.2h0M154.3,486.6h0M105.0,560.5h0M91.1,554.7h0M114.0,547.3h0M171.5,485.9h0M90.4,560.5h0M155.3,481.9h0M155.4,501.8h0M111.1,551.1h0M131.5,492.8h0M111.7,539.5h0"/>
<path d="M86.2,586.0h0M96.2,565.1h0M103.3,556.0h0M158.3,497.4h0M90.8,566.1h0M131.1,526.6h0M166.4,494.2h0M164.3,480.3h0M65.2,588.2h0M114.7,540.8h0M120.2,524.7h0M77.2,585.7h0M177.0,492.8h0M145.8,496.3h0M106.4,568.4h0M94.6,552.0h0M134.8,481.5h0M147.8,487.4h0M71.9,578.0h0M161.4,478.3h0M82.5,579.6h0M150.1,519.9h0M140.1,511.7h0M169.0,487.7h0M146.5,515.1h0M153.1,487.8h0M56.6,590.9h0M53.8,599.4h0M117.9,563.2h0M158.2,484.7h0M94.1,556.2h0M155.8,495.2h0M84.7,577.0h0M169.4,490.3h0M70.0,563.0h0M116.0,500.9h0M48.5,597.4h0M150.2,490.9h0M107.0,557.8h0M94.5,572.9h0M64.9,576.4h0M52.1,592.2h0M87.8,569.7h0M155.4,510.2h0M85.0,573.2h0M110.9,538.3h0M175.1,500.9h0M94.8,583.3h0M155.8,500.3h0M102.3,564.1h0M154.4,527.1h0M161.8,495.3h0M69.0,584.8h0M124.9,525.0h0M101.0,512.1h0M127.4,526.1h0M124.8,527.2h0M56.9,594.3h0M171.7,483.6h0M159.4,479.1h0M172.1,479.6h0M144.9,523.4h0M147.2,508.1h0M129.9,516.4h0M50.2,606.1h0M56.4,583.4h0M95.3,543.8h0M72.8,582.5h0M165.1,484.9h0M87.5,565.6h0M148.5,486.5h0M144.6,502.9h0M62.9,592.7h0M88.8,555.6h0M98.1,540.6h0M107.7,546.1h0M96.4,572.2h0M71.6,574.4h0M128.8,540.5h0M134.4,514.5h0M92.9,567.7h0M86.9,565.2h0M95.3,585.7h0M163.4,496.2h0M91.0,588.3h0M146.3,499.4h0M104.2,537.7h0M65.8,591.3h0M67.8,600.0h0M56.5,557.7h0M63.4,590.4h0M132.5,538.0h0M125.4,526.4h0M147.7,489.7h0M139.9,571.3h0M119.4,543.0h0M163.1,502.9h0M124.0,528.1h0M95.8,582.4h0M73.1,563.3h0"/>
<path d="M109.5,538.9h0M57.2,591.8h0M102.1,568.2h0M177.0,488.5h0M49.9,603.7h0M84.6,578.1h0M144.1,516.3h0M171.5,492.5h0M151.1,516.1h0M140.9,543.3h0M109.4,521.8h0M85.0,576.9h0M109.6,555.0h0M164.3,486.0h0M126.3,526.6h0M132.9,495.6h0M143.3,516.5h0M175.0,489.8h0M146.3,522.4h0M138.5,528.7h0M98.5,567.0h0M143.8,496.6h0M169.3,479.9h0M147.5,510.6h0M122.0,542.0h0M76.9,597.4h0M74.0,578.7h0M79.8,572.3h0M87.5,529.0h0M101.0,549.2h0M143.1,503.0h0M94.3,556.7h0M99.9,571.6h0M126.5,532.6h0M79.4,567.5h0M147.8,519.1h0M117.6,534.2h0M58.8,594.1h0M103.8,503.7h0M65.3,592.4h0M112.3,542.9h0M99.9,554.5h0M137.3,491.2h0M136.7,540.1h0M167.7,501.5h0M146.2,516.8h0M50.4,604.1h0M60.6,595.2h0M174.7,487.6h0M174.0,490.2h0M98.2,570.4h0M60.1,588.0h0M141.1,483.3h0M51.8,598.0h0M80.1,603.3h0M71.1,590.6h0M134.4,497.4h0M70.1,592.9h0M53.8,581.0h0M63.6,587.9h0M147.4,552.9h0M135.1,504.3h0M119.8,570.3h0M79.3,588.1h0M122.8,530.1h0M86.1,548.7h0M56.4,590.7h0M78.5,576.6h0M142.9,501.3h0M125.6,537.2h0M74.7,580.1h0M90.8,558.3h0M104.0,543.0h0M64.4,578.1h0M72.8,574.2h0M123.2,530.9h0M76.2,568.4h0M103.1,551.0h0M151.6,533.0h0M126.5,514.1h0M71.9,570.8h0M57.5,574.1h0M80.6,586.3h0M173.7,537.8h0M49.2,601.9h0M135.6,490.1h0M75.1,587.2h0M156.2,486.3h0M159.0,491.2h0M97.0,541.5h0M152.2,519.2h0M114.0,533.1h0M69.3,599.1h0M165.2,480.1h0M97.7,567.0h0M83.5,565.2h0M109.5,575.7h0M116.3,569.2h0M140.9,536.2h0M107.1,546.1h0"/>
<path d="M145.6,513.6h0M165.1,484.4h0M134.8,535.2h0M116.2,567.5h0M120.3,553.4h0M164.3,511.8h0M109.8,543.7h0M141.6,509.7h0M154.7,499.8h0M104.5,562.8h0M95.4,562.6h0M53.2,598.6h0M95.3,539.5h0M83.0,573.8h0M55.2,570.3h0M112.9,552.8h0M127.7,536.9h0M133.1,514.1h0M51.2,593.9h0M52.9,595.7h0M117.7,518.4h0M99.0,553.6h0M150.4,538.4h0M104.2,529.5h0M171.3,479.6h0M138.8,536.2h0M62.5,560.0h0M138.3,517.0h0M146.2,541.1h0M104.9,547.0h0M117.2,548.4h0M75.0,565.0h0M54.9,602.1h0M151.2,521.1h0M155.7,479.7h0M118.9,549.7h0M132.7,547.1h0M146.2,514.8h0M105.6,540.2h0M73.6,576.0h0M117.7,533.7h0M74.9,581.9h0M70.6,579.1h0M56.3,597.7h0M48.6,607.4h0M152.5,482.4h0M105.1,560.9h0M70.6,572.8h0M59.6,583.4h0M70.7,581.7h0M125.6,510.3h0M165.5,489.0h0M113.7,539.7h0M58.5,594.7h0M71.9,587.7h0M148.5,509.0h0M56.0,586.4h0M78.2,583.2h0M102.3,551.1h0M158.1,494.8h0M177.5,491.7h0M89.1,566.4h0M142.8,499.9h0M57.8,608.3h0M161.5,485.5h0M119.8,528.3h0M103.2,535.1h0M120.8,535.9h0M128.5,550.0h0M177.0,476.8h0M173.1,492.3h0M96.8,535.7h0M110.0,533.7h0M87.6,580.0h0M59.8,573.2h0M61.6,571.3h0M163.3,494.3h0M150.8,510.9h0M176.0,489.3h0M131.4,533.1h0M173.8,479.7h0M80.1,583.6h0M89.1,546.5h0M67.0,587.4h0M61.1,603.1h0M65.2,603.5h0M49.9,605.4h0M94.5,563.9h0M152.9,504.1h0M120.8,524.0h0M132.7,524.6h0M85.1,598.8h0M125.3,542.2h0M172.4,495.8h0M139.5,520.3h0M159.2,498.3h0M58.3,600.5h0M114.8,547.6h0M153.1,496.0h0M142.8,526.7h0"/>
<path d="M62.6,607.9h0M171.4,517.7h0M167.7,506.0h0M152.0,490.0h0M117.9,527.7h0M54.3,601.6h0M164.5,535.6h0M130.6,549.9h0M95.5,577.9h0M136.3,528.8h0M77.0,583.0h0M94.3,563.0h0M132.6,528.5h0M137.8,503.9h0M160.5,485.2h0M79.6,550.7h0M176.6,487.0h0M48.4,584.4h0M172.1,502.1h0M174.2,518.3h0M154.7,492.3h0M166.5,514.4h0M159.2,502.3h0M109.8,552.7h0M51.3,588.1h0M91.1,575.6h0M133.5,514.6h0M109.7,527.4h0M119.2,527.5h0M74.2,578.9h0M160.5,520.6h0M148.8,510.4h0M79.5,572.0h0M153.1,520.3h0M111.6,556.3h0M106.3,565.9h0M159.2,493.1h0M169.8,498.0h0M132.5,530.3h0M109.2,560.7h0M127.8,531.3h0M150.7,493.9h0M71.0,602.2h0M86.9,522.8h0M144.1,525.4h0M54.2,593.6h0M139.7,505.0h0M95.1,560.9h0M86.7,548.3h0M122.0,542.7h0M52.7,589.2h0M101.0,588.2h0M90.2,591.4h0M112.5,558.3h0M118.6,525.9h0M124.0,518.2h0M170.1,490.2h0M132.8,518.5h0M160.5,484.2h0M52.2,568.4h0M176.5,523.0h0M109.3,530.7h0M95.8,537.3h0M159.5,506.6h0M175.4,485.2h0M71.7,590.3h0M150.5,488.4h0M75.1,577.1h0M88.6,555.4h0M72.3,575.3h0M101.3,525.5h0M171.5,489.6h0M107.8,551.6h0M55.9,603.5h0M143.0,515.7h0M87.9,595.2h0M106.8,547.0h0M64.8,573.2h0M88.1,553.6h0M72.4,590.5h0M116.7,552.8h0M91.1,542.0h0M105.3,549.7h0M136.7,506.8h0M61.9,593.3h0M166.9,490.1h0M158.8,476.9h0M103.0,559.4h0M82.9,579.6h0M170.7,483.7h0M140.3,519.5h0M74.2,587.7h0M75.4,566.3h0M105.3,556.0h0M141.7,498.6h0M141.4,487.0h0M142.6,531.9h0M122.3,527.2h0M131.4,545.5h0M127.9,535.3h0"/>
<path d="M132.0,540.2h0M92.0,588.8h0M50.4,591.0h0M122.1,533.9h0M102.6,527.8h0M55.4,572.4h0M163.1,496.8h0M129.4,536.9h0M138.3,494.0h0M60.7,570.1h0M125.4,537.0h0M72.6,601.1h0M157.6,492.3h0M70.4,597.0h0M92.5,569.2h0M72.9,602.3h0M105.8,559.0h0M97.1,584.6h0M167.1,483.9h0M164.9,486.0h0M161.7,487.0h0M173.5,489.5h0M145.1,523.6h0M58.6,599.0h0M177.1,478.4h0M160.9,488.6h0M97.2,563.4h0M96.4,547.4h0M128.6,497.1h0M102.5,556.9h0M96.4,533.3h0M141.9,508.8h0M94.6,589.9h0M107.9,541.3h0M128.3,538.1h0M129.7,539.4h0M99.0,588.2h0M98.0,544.0h0M89.5,567.1h0M92.9,546.2h0M65.9,585.1h0M176.5,483.7h0M163.2,488.1h0M141.0,523.7h0M72.1,591.6h0M166.4,488.7h0M97.1,554.5h0M98.5,547.7h0M75.6,562.8h0M141.1,515.6h0M67.9,594.0h0M133.6,507.0h0M62.1,566.3h0M116.4,541.5h0M79.6,589.2h0M173.8,480.2h0M155.8,480.1h0M75.0,588.4h0M99.3,573.0h0M71.8,571.2h0M175.9,489.3h0M128.9,522.2h0M124.2,542.3h0M167.5,495.5h0M64.4,603.6h0M61.2,591.3h0M141.4,502.1h0M90.7,549.3h0M97.8,509.7h0M122.5,526.2h0M105.0,562.8h0M176.1,478.7h0M63.0,578.9h0M146.0,496.0h0M64.0,572.4h0M66.3,603.9h0M130.5,535.9h0M77.2,576.2h0M125.8,518.0h0M63.3,590.9h0M143.8,496.7h0M172.1,481.0h0M72.4,573.0h0M84.1,596.1h0M137.6,530.5h0M53.1,597.4h0M156.8,525.6h0M54.7,588.9h0M120.7,559.8h0M54.1,581.8h0M99.1,563.9h0M174.2,480.7h0M156.7,493.8h0M159.8,488.6h0M64.4,556.6h0M138.1,527.5h0M121.3,538.4h0M136.4,535.6h0M150.8,574.1h0M172.1,479.1h0"/>
<path d="M59.1,602.8h0M102.7,577.9h0M172.9,478.4h0M159.6,478.1h0M62.3,585.5h0M74.7,557.7h0M98.1,581.5h0M153.9,512.4h0M100.0,541.2h0M104.3,539.6h0M52.2,606.7h0M79.5,591.6h0M147.7,489.8h0M90.1,549.8h0M125.9,518.5h0M115.4,518.0h0M102.9,574.7h0M110.4,560.9h0M177.4,493.4h0M115.8,547.4h0M61.4,580.1h0M129.8,534.5h0M58.8,601.4h0M77.4,562.7h0M120.3,561.7h0M89.4,557.9h0M71.0,584.7h0M134.4,506.6h0M103.6,556.6h0M106.1,550.0h0M134.5,521.0h0M139.1,515.8h0M94.6,554.2h0M124.7,533.7h0M144.9,486.2h0M112.5,538.3h0M64.1,570.1h0M111.0,593.4h0M94.6,582.5h0M68.3,596.9h0M133.0,492.0h0M95.2,560.2h0M121.8,537.9h0M94.6,552.0h0M84.3,546.0h0M83.2,569.8h0M176.7,484.8h0M165.6,489.3h0M141.4,532.5h0M126.2,524.2h0M72.8,577.2h0M134.7,516.4h0M68.9,561.0h0M138.2,507.5h0M153.2,503.1h0M132.4,507.1h0M142.5,525.3h0M59.8,575.0h0M130.2,526.7h0M50.5,597.2h0M131.1,513.0h0M123.5,523.8h0M109.5,503.7h0M92.5,578.2h0M162.7,491.8h0M95.4,558.1h0M130.0,536.7h0M49.6,601.8h0M77.1,565.2h0M68.5,544.4h0M160.2,509.3h0M164.0,484.1h0M173.3,476.8h0M90.8,569.9h0M80.8,585.7h0M109.5,507.8h0M168.3,481.8h0M97.3,572.0h0M160.5,488.4h0M150.2,478.1h0M52.8,607.3h0M151.8,515.8h0M58.4,590.0h0M60.5,607.3h0M141.5,509.8h0M124.6,550.9h0M133.3,502.7h0M99.9,559.5h0M156.4,482.9h0M135.9,523.9h0M176.2,487.4h0M147.4,559.6h0M90.7,528.1h0M79.8,566.3h0M83.8,578.1h0M92.4,582.7h0M137.6,480.2h0M103.9,545.8h0M126.3,524.3h0M78.9,583.2h0"/>
<path d="M157.4,477.0h0M163.7,511.7h0M172.1,501.7h0M158.3,489.4h0M150.8,560.4h0M126.7,516.5h0M58.4,590.4h0M98.0,563.3h0M111.9,534.7h0M111.0,535.4h0M168.5,516.3h0M128.5,526.3h0M49.5,600.0h0M96.0,551.8h0M150.7,517.0h0M177.2,491.7h0M170.5,485.4h0M159.0,502.6h0M164.6,493.6h0M93.7,554.4h0M93.5,552.0h0M60.0,581.9h0M122.4,543.3h0M133.1,511.0h0M97.9,552.9h0M91.1,581.1h0M146.9,528.5h0M72.1,578.7h0M110.7,549.1h0M122.4,523.9h0M126.9,482.6h0M159.5,478.1h0M149.1,504.2h0M67.7,595.7h0M135.0,499.2h0M84.5,584.4h0M164.8,493.7h0M92.8,578.8h0M162.3,498.8h0M52.7,602.3h0M98.9,579.3h0M126.8,521.1h0M168.5,478.4h0M127.7,512.1h0M127.4,520.5h0M120.1,528.6h0M171.0,483.4h0M85.4,565.9h0M54.9,606.0h0M78.4,566.4h0M84.7,604.5h0M78.2,573.5h0M164.9,490.4h0M97.1,534.4h0M157.1,481.7h0M71.4,589.2h0M137.3,512.5h0M145.8,488.0h0M61.9,591.7h0M87.1,571.6h0M74.5,567.0h0M169.6,478.5h0M96.6,546.6h0M66.4,574.1h0M129.6,546.5h0M53.9,585.1h0M96.2,573.6h0M149.9,496.6h0M119.4,559.7h0M124.8,522.2h0M84.5,543.3h0M58.9,602.7h0M94.7,564.5h0M95.6,533.1h0M62.9,592.0h0M55.8,604.1h0M77.7,595.1h0M161.3,499.7h0M147.1,484.6h0M73.1,572.4h0M140.8,499.5h0M78.4,548.3h0M60.2,599.9h0M61.0,603.3h0M129.2,545.2h0M118.0,513.8h0M97.8,555.6h0M81.9,562.4h0M146.7,504.5h0M172.5,497.5h0M149.6,516.6h0M148.5,493.0h0M91.5,583.7h0M58.9,605.3h0M99.7,551.6h0M94.3,536.0h0M78.1,581.6h0M85.6,571.8h0M69.6,595.0h0M168.5,490.5h0"/>
<path d="M157.7,489.7h0M120.6,547.2h0M86.2,540.7h0M80.9,585.2h0M57.3,587.9h0M95.9,556.1h0M89.7,557.4h0M145.1,508.2h0M110.7,565.1h0M99.5,566.4h0M162.0,479.1h0M154.0,510.9h0M172.8,488.6h0M68.0,598.0h0M64.3,577.4h0M141.8,521.6h0M139.5,506.1h0M170.4,492.8h0M152.6,543.1h0M109.6,527.8h0M87.7,545.2h0M143.3,501.1h0M93.1,564.0h0M119.8,525.7h0M105.5,557.7h0M118.8,515.7h0M169.5,479.5h0M57.8,572.7h0M61.6,573.0h0M59.1,575.0h0M107.9,527.5h0M79.3,569.2h0M128.0,500.2h0M121.3,504.9h0M153.7,503.4h0M101.3,542.0h0M84.3,576.7h0M154.7,477.1h0M161.1,491.8h0M123.6,536.4h0M175.2,479.9h0M52.2,587.9h0M76.9,592.9h0M168.3,478.5h0M168.3,483.4h0M102.5,538.8h0M120.8,521.8h0M126.2,550.3h0M147.7,521.2h0M134.8,537.9h0M166.4,482.8h0M119.0,555.0h0M102.8,563.6h0M128.1,531.0h0M131.0,508.6h0M90.3,583.2h0M55.8,590.7h0M116.5,568.8h0M88.7,567.0h0M67.6,583.9h0M143.0,485.5h0M159.4,525.3h0M76.6,509.3h0M160.5,501.4h0M69.8,563.7h0M54.2,591.5h0M149.7,505.9h0M53.1,594.7h0M80.9,565.9h0M82.2,540.3h0M134.7,507.6h0M143.3,501.1h0M109.1,567.2h0M121.7,547.0h0M159.4,520.2h0M94.7,584.4h0M144.6,513.1h0M145.1,548.7h0M79.8,587.9h0M50.0,598.7h0M95.2,574.7h0M172.1,480.2h0M107.5,519.4h0M101.9,566.3h0M96.4,561.4h0M68.9,570.1h0M142.0,542.9h0M164.8,487.9h0M162.1,504.3h0M66.1,591.4h0M54.6,605.2h0M146.2,526.9h0M149.7,517.7h0M143.1,527.3h0M124.9,509.4h0M135.7,526.0h0M137.6,524.7h0M65.6,599.4h0M53.3,606.4h0M162.7,496.8h0"/>
<path d="M133.8,529.2h0M52.6,599.7h0M133.2,517.1h0M72.4,582.5h0M170.9,477.0h0M68.8,606.4h0M75.5,578.7h0M52.4,587.9h0M177.6,478.0h0M57.4,608.0h0M92.7,542.7h0M59.1,538.8h0M55.2,595.9h0M136.0,493.9h0M145.0,495.0h0M86.7,567.0h0M94.6,573.2h0M77.2,569.2h0M73.0,577.5h0M127.3,522.3h0M103.5,541.4h0M158.5,487.0h0M155.7,494.4h0M55.8,604.0h0M50.0,604.9h0M102.1,581.6h0M177.3,479.5h0M56.0,569.4h0M67.1,584.5h0M55.3,604.1h0M62.4,600.8h0M175.3,481.1h0M75.9,582.7h0M159.1,493.6h0M69.1,572.4h0M100.3,557.6h0M164.0,483.7h0M156.8,531.8h0M52.3,597.9h0M93.5,555.7h0M110.8,552.5h0M77.2,539.3h0M145.6,533.4h0M171.9,502.4h0M177.6,478.9h0M150.7,514.7h0M136.7,559.6h0M131.2,511.9h0M108.5,559.1h0M157.2,504.8h0M126.1,511.3h0M108.7,550.2h0M98.2,607.3h0M139.5,502.1h0M131.0,520.0h0M161.6,506.6h0M130.8,544.1h0M139.1,522.3h0M59.8,596.3h0M117.5,541.7h0M63.1,569.0h0M130.2,511.2h0M52.9,593.3h0M56.8,597.2h0M136.9,515.5h0M176.7,482.3h0M101.8,566.8h0M53.9,594.0h0M129.4,519.3h0M54.4,605.6h0M55.4,599.7h0M74.5,582.7h0M152.0,521.8h0M62.3,597.7h0M131.3,537.9h0M100.6,555.4h0M155.5,486.7h0M151.4,503.0h0M159.3,494.8h0M108.1,561.7h0M166.5,483.5h0M146.6,525.4h0M58.5,596.5h0M137.1,580.6h0M135.1,537.5h0M91.5,568.9h0M146.1,491.3h0M109.9,568.4h0M62.0,589.7h0M93.1,599.4h0M54.5,604.0h0M62.0,601.1h0M82.8,584.4h0M57.5,601.5h0M176.2,476.9h0M81.5,559.7h0M91.8,566.5h0M106.6,584.8h0M132.7,523.8h0M55.7,579.1h0"/>
<path d="M145.9,483.6h0M101.8,575.2h0M107.9,558.7h0M91.4,586.2h0M177.2,498.9h0M72.7,600.1h0M83.2,585.1h0M89.9,547.1h0M124.1,551.9h0M59.4,592.1h0M174.5,479.4h0M145.0,513.5h0M110.6,523.0h0M163.5,491.7h0M98.9,563.7h0M158.0,496.1h0M116.4,586.6h0M165.2,513.6h0M73.5,590.0h0M153.6,498.2h0M105.5,580.7h0M160.3,510.9h0M55.7,607.5h0M77.7,565.9h0M135.4,555.3h0M121.3,530.3h0M125.4,482.1h0M86.2,569.1h0M53.6,597.5h0M69.2,594.5h0M82.5,576.1h0M147.4,493.0h0M60.1,587.5h0M63.4,594.3h0M111.4,542.0h0M131.4,493.9h0M100.1,555.3h0M164.7,481.8h0M85.9,593.1h0M55.5,608.3h0M147.4,502.5h0M51.7,600.7h0M124.1,515.2h0M125.6,558.6h0M122.1,524.5h0M175.2,481.9h0M91.0,566.8h0M151.8,521.3h0M49.6,602.7h0M136.4,520.9h0M137.6,543.4h0M160.2,478.5h0M68.4,579.5h0M176.4,487.8h0M84.3,564.1h0M68.0,577.8h0M49.0,601.8h0M124.9,502.5h0M67.0,573.6h0M56.2,584.4h0M140.8,509.9h0M133.1,526.7h0M70.0,563.9h0M101.4,606.0h0M101.8,573.1h0M83.5,576.1h0M123.0,523.0h0M136.6,505.0h0M87.7,569.1h0M54.4,603.2h0M163.6,491.8h0M154.4,503.7h0M144.0,531.8h0M121.5,519.0h0M144.5,496.1h0M129.8,519.0h0M79.6,572.4h0M85.8,554.3h0M77.2,555.8h0M58.8,581.9h0M56.4,602.5h0M108.7,565.1h0M69.7,597.7h0M87.8,570.4h0M113.3,543.5h0M121.9,545.3h0M77.6,601.0h0M67.5,578.1h0M68.7,585.7h0M82.7,555.2h0M66.7,579.7h0M116.6,521.7h0M117.0,549.0h0M58.6,585.2h0M85.2,588.6h0M101.7,545.3h0M109.3,550.5h0M97.3,514.9h0M108.7,550.9h0"/>
</g>
</g>
<g clip-path="url(#c31)">
<use href="#ct" transform="matrix(0.12920 0 0 -0.13160 200.85 608.35)"/>
<g stroke="#000" stroke-opacity="0.3" stroke-width="3" stroke-linecap="round" fill="none">
<path d="M230.4,574.1h0M260.4,543.0h0M297.3,498.9h0M315.9,514.5h0M210.3,578.9h0M267.0,546.6h0M228.6,571.6h0M236.7,525.3h0M325.7,478.6h0M229.0,560.5h0M246.8,576.7h0M263.8,550.5h0M283.8,528.6h0M228.8,577.2h0M313.2,480.2h0M308.2,502.3h0M313.9,480.1h0M215.0,574.1h0M289.1,509.7h0M253.7,547.1h0M273.7,592.3h0M319.3,498.8h0M304.4,496.0h0M251.0,559.4h0M217.9,585.7h0M322.4,495.3h0M286.9,525.4h0M239.2,565.2h0M289.7,514.7h0M267.6,527.5h0M234.1,588.9h0M228.6,578.1h0M233.1,576.1h0M261.9,543.0h0M296.4,526.6h0M261.0,537.0h0M288.5,549.9h0M287.9,523.9h0M241.6,578.8h0M262.0,551.8h0M315.8,514.5h0M208.8,591.5h0M202.4,606.0h0M329.2,483.3h0M201.4,604.9h0M300.6,522.2h0M294.5,522.4h0M309.9,481.2h0M253.1,554.4h0M274.9,509.4h0M330.0,483.4h0M301.9,495.6h0M269.4,549.7h0M218.0,585.1h0M213.6,554.4h0M241.7,547.0h0M269.3,543.4h0M215.7,590.0h0M328.9,478.1h0M203.3,569.0h0M266.8,549.9h0M276.1,543.5h0M226.2,566.4h0M268.5,537.5h0M292.3,500.7h0M233.4,577.1h0M273.2,543.3h0M318.5,482.9h0M221.6,603.2h0M237.6,565.2h0M329.6,493.6h0M320.3,480.3h0M320.9,509.9h0M324.2,483.6h0M222.6,572.8h0M206.1,595.0h0M329.5,489.5h0M261.2,549.3h0M319.0,483.9h0M264.6,518.5h0M257.2,565.9h0M213.6,583.4h0M240.3,555.4h0M261.7,550.9h0M289.0,524.7h0M329.8,478.7h0M257.3,566.4h0M288.6,511.2h0M315.3,489.6h0M255.8,588.2h0M254.8,558.1h0M242.5,546.5h0M291.1,524.5h0M310.4,494.2h0M330.0,485.2h0M223.4,577.0h0M262.5,534.7h0M312.8,493.9h0M320.7,479.6h0M296.6,488.4h0"/>
<path d="M217.1,595.0h0M288.8,515.2h0M328.8,487.4h0M267.0,526.7h0M238.0,552.0h0M228.9,571.7h0M285.9,535.9h0M201.3,598.8h0M253.4,540.8h0M321.6,498.6h0M251.7,550.9h0M216.8,587.9h0M244.5,566.7h0M251.8,524.9h0M219.4,573.2h0M265.8,525.5h0M254.0,522.4h0M305.3,484.3h0M213.9,587.7h0M224.3,576.2h0M272.3,549.0h0M283.2,519.5h0M316.0,481.9h0M251.7,551.6h0M255.8,547.7h0M216.3,598.0h0M269.7,565.1h0M321.3,509.5h0M235.4,560.9h0M204.1,586.4h0M216.0,588.1h0M307.7,509.8h0M323.1,489.3h0M265.0,563.9h0M260.8,537.9h0M323.7,480.1h0M257.0,550.2h0M306.1,487.7h0M237.7,567.0h0M277.7,541.3h0M264.4,549.2h0M267.6,541.1h0M213.1,566.6h0M276.4,542.3h0M201.7,592.4h0M213.4,592.9h0M253.2,551.0h0M280.0,542.9h0M251.7,545.3h0M269.4,547.3h0M279.2,542.7h0M310.7,477.1h0M329.6,477.0h0M253.1,559.1h0M223.1,597.7h0M315.7,489.8h0M291.1,520.9h0M311.8,520.2h0M239.8,548.2h0M304.6,489.8h0M266.1,549.8h0M313.9,490.1h0M230.9,584.5h0M233.9,570.4h0M248.3,557.8h0M206.9,590.9h0M277.5,561.5h0M273.6,521.8h0M301.0,485.4h0M313.7,508.6h0M249.2,540.6h0M320.6,530.0h0M311.7,493.1h0M277.9,520.0h0M233.5,573.0h0M326.8,502.9h0M327.5,478.5h0M312.3,479.7h0M291.2,503.4h0M245.0,580.4h0M274.9,547.1h0M279.9,507.9h0M311.8,484.6h0M302.2,513.5h0M281.2,532.6h0M252.8,553.6h0M233.5,583.7h0M250.6,556.0h0M247.0,556.3h0M278.5,527.1h0M225.3,591.1h0M301.2,523.9h0M236.0,591.4h0M257.5,539.6h0M246.4,531.1h0M245.4,555.4h0M301.6,501.1h0M230.5,575.7h0M265.2,530.9h0M314.8,484.4h0"/>
<path d="M315.5,494.8h0M234.4,569.1h0M221.6,578.1h0M226.3,569.9h0M244.7,579.1h0M230.0,600.1h0M214.5,597.2h0M243.9,551.6h0M309.4,493.8h0M213.6,581.5h0M271.0,515.9h0M205.5,597.4h0M211.2,592.0h0M238.7,566.8h0M234.5,576.0h0M278.6,511.3h0M327.8,482.3h0M214.5,582.7h0M277.4,533.1h0M327.3,492.5h0M245.9,567.5h0M289.6,526.6h0M315.4,508.1h0M256.5,559.0h0M283.8,516.5h0M270.7,513.0h0M286.7,517.1h0M224.8,555.8h0M224.9,595.2h0M252.2,554.7h0M235.0,592.7h0M323.9,476.9h0M297.2,510.4h0M230.6,548.7h0M251.6,560.3h0M248.7,547.4h0M252.0,560.9h0M315.5,517.0h0M243.0,567.1h0M249.6,565.1h0M290.4,515.8h0M229.6,584.8h0M217.8,593.1h0M250.8,578.1h0M293.0,542.2h0M253.2,555.6h0M216.6,584.4h0M201.1,606.4h0M234.2,539.3h0M209.7,605.9h0M244.2,598.5h0M243.5,585.7h0M291.0,538.4h0M215.4,602.1h0M252.1,583.9h0M279.4,533.5h0M229.2,522.1h0M304.0,487.4h0M232.4,574.2h0M312.8,494.8h0M208.0,583.4h0M292.3,506.0h0M234.5,557.6h0M319.7,507.5h0M262.9,534.2h0M232.6,580.0h0M321.7,478.1h0M256.9,556.0h0M227.1,581.9h0M218.5,593.6h0M282.7,523.9h0M281.6,516.1h0M232.2,594.7h0M224.9,543.1h0M245.5,573.0h0M237.4,576.4h0M272.7,570.3h0M262.4,545.8h0M306.2,513.7h0M278.7,492.4h0M326.3,482.4h0M211.3,591.3h0M233.2,573.5h0M282.2,504.3h0M212.4,576.6h0M306.1,513.3h0M215.8,589.2h0M304.6,514.2h0M245.2,542.7h0M314.4,491.8h0M312.6,501.4h0M238.2,564.0h0M237.0,555.2h0M275.2,521.8h0M329.9,479.1h0M294.4,517.0h0M224.8,582.5h0M254.9,513.1h0M214.2,562.7h0M257.3,563.0h0"/>
<path d="M300.8,533.0h0M201.6,605.3h0M258.9,546.5h0M307.1,504.3h0M284.8,540.3h0M259.1,552.8h0M231.4,607.9h0M224.2,607.9h0M205.6,584.4h0M249.6,563.6h0M204.9,601.1h0M221.0,599.0h0M299.9,531.1h0M270.1,550.3h0M228.3,579.6h0M266.4,551.1h0M306.6,525.3h0M284.7,531.9h0M301.5,528.8h0M217.7,521.5h0M215.8,589.7h0M313.7,488.4h0M312.7,492.3h0M271.5,527.7h0M248.5,568.2h0M263.4,535.5h0M283.4,547.4h0M316.1,501.7h0M328.8,483.7h0M256.9,560.5h0M239.7,554.7h0M318.2,486.5h0M241.1,588.8h0M290.6,510.9h0M227.4,584.4h0M263.2,552.5h0M293.8,493.9h0M291.7,512.1h0M242.0,537.3h0M329.2,508.2h0M232.5,604.1h0M282.3,519.1h0M269.9,522.3h0M305.7,514.7h0M296.6,523.5h0M221.8,605.0h0M277.0,535.3h0M294.6,490.3h0M293.1,517.7h0M329.4,491.7h0M235.8,565.9h0M290.3,531.3h0M301.7,496.2h0M201.6,606.7h0M317.4,476.9h0M250.2,578.9h0M329.7,481.8h0M211.6,601.3h0M237.6,564.1h0M253.7,533.3h0M258.0,552.9h0M306.2,496.1h0M254.1,554.2h0M268.7,546.1h0M256.6,543.3h0M250.8,503.7h0M308.2,501.5h0M245.2,562.3h0M254.0,565.5h0M228.7,576.8h0M313.9,493.4h0M258.7,566.5h0M218.0,598.7h0M233.4,581.6h0M266.2,576.9h0M301.5,496.1h0M267.2,535.1h0M273.7,548.3h0M296.9,499.4h0M285.0,524.0h0M211.7,577.4h0M252.0,549.7h0M261.5,540.2h0M291.2,521.8h0M278.0,534.5h0M305.8,483.4h0M260.6,547.6h0M236.9,557.4h0M292.4,554.7h0M266.6,559.8h0M245.4,578.7h0M241.0,582.5h0M306.5,486.3h0M273.1,548.3h0M227.8,588.2h0M236.1,563.7h0M261.3,526.3h0M252.4,561.4h0M231.0,588.3h0M210.6,590.5h0"/>
<path d="M261.9,547.0h0M317.7,488.6h0M240.6,575.3h0M226.9,577.9h0M205.1,577.3h0M328.1,489.4h0M299.2,515.8h0M318.9,496.3h0M329.0,482.8h0M321.4,482.2h0M319.5,490.0h0M308.5,502.9h0M276.4,553.6h0M245.7,576.3h0M250.9,555.6h0M308.9,493.8h0M235.8,577.1h0M241.7,590.3h0M264.7,539.6h0M243.6,541.5h0M242.1,559.7h0M266.3,542.0h0M318.5,504.5h0M208.5,557.7h0M298.2,531.9h0M291.4,519.3h0M258.0,554.5h0M317.3,494.0h0M250.0,580.1h0M203.7,575.0h0M308.1,510.9h0M205.9,607.7h0M259.8,528.1h0M218.5,592.1h0M206.7,604.1h0M321.6,487.6h0M277.2,506.6h0M307.2,523.4h0M269.9,550.3h0M317.2,479.9h0M206.0,572.7h0M266.9,526.2h0M252.8,566.3h0M323.2,487.4h0M300.0,532.1h0M219.6,567.0h0M290.3,537.9h0M291.5,499.2h0M212.7,590.7h0M230.8,585.7h0M250.7,564.4h0M300.8,511.7h0M219.7,601.5h0M270.8,604.7h0M306.7,500.9h0M281.9,539.6h0M299.0,519.7h0M254.7,553.6h0M267.8,508.4h0M227.3,583.6h0M314.7,478.5h0M272.4,482.5h0M264.7,538.8h0M259.6,545.2h0M258.1,543.8h0M225.7,569.1h0M310.6,486.0h0M289.4,494.0h0M312.1,521.6h0M209.9,603.6h0M233.8,583.2h0M319.7,532.8h0M316.4,488.1h0M232.2,586.0h0M263.8,540.7h0M227.1,601.6h0M259.3,542.0h0M328.3,485.2h0M260.4,536.7h0M264.1,543.3h0M279.6,536.0h0M287.6,515.6h0M206.9,607.5h0M307.7,487.8h0M267.3,514.1h0M223.4,570.8h0M293.4,476.8h0M224.0,579.3h0M327.5,489.3h0M232.7,566.1h0M238.6,579.7h0M321.5,487.0h0M236.3,549.2h0M274.5,540.2h0M277.8,523.8h0M248.3,519.6h0M229.7,586.0h0M271.7,536.2h0M266.5,543.7h0M250.9,530.7h0"/>
<path d="M223.7,596.8h0M231.6,576.9h0M298.2,499.9h0M307.2,493.0h0M317.7,488.6h0M261.5,535.7h0M225.1,591.7h0M260.0,537.9h0M291.2,486.1h0M211.6,573.2h0M239.1,572.4h0M267.9,520.6h0M323.5,479.4h0M268.3,545.5h0M208.6,599.1h0M259.6,509.7h0M283.6,508.5h0M243.0,573.6h0M329.3,478.9h0M277.4,581.6h0M285.4,513.2h0M311.9,486.7h0M285.9,481.5h0M229.7,572.4h0M262.4,558.1h0M203.5,602.7h0M208.8,603.3h0M277.8,530.3h0M244.0,572.0h0M266.3,545.2h0M299.2,503.7h0M293.5,526.3h0M230.0,581.7h0M310.0,489.7h0M203.7,604.0h0M248.7,581.1h0M323.1,490.2h0M318.1,490.5h0M322.0,496.2h0M221.0,591.8h0M253.5,572.2h0M268.0,541.7h0M249.5,583.0h0M216.4,584.7h0M270.4,533.0h0M317.5,497.5h0M294.7,514.1h0M223.4,593.9h0M207.1,590.7h0M269.6,537.7h0M278.4,518.5h0M248.1,527.8h0M233.5,555.2h0M220.6,594.2h0M326.5,478.4h0M243.4,578.7h0M236.1,564.1h0M232.1,590.1h0M207.7,591.4h0M234.0,595.1h0M271.6,520.3h0M223.2,571.2h0M217.4,590.5h0M320.1,486.6h0M306.4,507.5h0M212.4,600.7h0M326.0,496.6h0M272.2,524.2h0M242.4,569.2h0M278.1,527.5h0M251.6,553.8h0M250.6,569.2h0M231.8,556.6h0M232.3,560.2h0M295.7,493.9h0M267.5,565.2h0M227.5,597.2h0M283.8,500.9h0M212.0,595.7h0M313.2,501.1h0M310.4,498.0h0M223.0,592.2h0M264.8,545.4h0M229.5,582.5h0M245.5,527.7h0M204.1,581.9h0M314.4,495.5h0M205.9,597.3h0M293.6,524.7h0M203.9,581.8h0M314.1,496.8h0M316.7,484.9h0M321.4,489.4h0M317.8,478.1h0M226.9,603.9h0M282.3,505.0h0M263.3,542.0h0M256.3,562.0h0M205.2,596.5h0M251.8,554.9h0"/>
<path d="M297.1,523.6h0M294.9,499.2h0M236.9,569.7h0M237.7,599.7h0M281.7,519.3h0M284.6,512.5h0M223.7,565.9h0M228.2,577.8h0M288.8,524.6h0M233.3,530.5h0M288.3,582.5h0M325.5,481.8h0M222.3,571.6h0M227.0,568.4h0M281.2,528.5h0M288.1,502.7h0M273.2,536.9h0M282.3,533.0h0M261.4,538.3h0M291.6,502.5h0M240.1,584.6h0M315.2,477.3h0M230.2,589.9h0M283.3,548.4h0M272.4,552.0h0M222.0,602.3h0M206.3,605.2h0M327.5,484.1h0M205.0,578.1h0M309.7,479.5h0M229.8,573.2h0M233.6,587.4h0M204.9,608.0h0M266.5,533.7h0M221.0,576.9h0M273.0,526.0h0M248.0,552.0h0M261.3,533.1h0M272.1,536.6h0M247.7,575.2h0M276.1,550.0h0M286.9,533.7h0M212.5,594.0h0M260.5,538.3h0M217.9,593.3h0M257.8,558.6h0M302.0,502.9h0M291.0,520.3h0M230.5,528.1h0M326.4,484.8h0M235.7,576.7h0M323.7,480.7h0M246.7,552.8h0M306.7,494.3h0M251.5,565.5h0M251.8,563.9h0M306.3,523.3h0M296.7,519.0h0M296.2,548.4h0M322.9,490.4h0M280.2,586.6h0M276.0,529.5h0M264.8,531.1h0M207.1,602.7h0M242.0,552.8h0M323.3,506.6h0M210.2,598.7h0M255.3,578.7h0M206.1,596.3h0M255.5,560.7h0M205.1,597.7h0M233.8,602.5h0M326.5,480.2h0M285.9,560.9h0M266.4,522.4h0M229.4,577.5h0M210.9,581.7h0M321.7,511.7h0M212.8,594.4h0M222.1,563.3h0M329.5,489.3h0M320.5,503.9h0M234.6,567.0h0M215.0,582.3h0M315.6,477.6h0M317.2,478.5h0M313.4,486.7h0M284.1,516.9h0M258.9,550.0h0M259.6,527.4h0M246.1,554.5h0M305.6,497.4h0M261.0,566.3h0M225.9,574.1h0M232.8,576.0h0M301.4,499.1h0M328.6,481.3h0M314.6,484.7h0M296.8,494.4h0M317.6,499.5h0"/>
<path d="M315.2,515.7h0M225.7,570.1h0M255.1,558.3h0M236.0,551.0h0M236.0,548.3h0M328.4,485.9h0M238.3,595.9h0M290.9,486.2h0M294.2,530.3h0M302.1,527.2h0M319.3,488.7h0M262.4,528.5h0M294.2,493.6h0M241.4,571.6h0M248.7,573.1h0M277.6,511.3h0M272.4,527.5h0M322.0,503.0h0M226.9,595.2h0M301.7,502.1h0M286.4,513.6h0M241.1,569.8h0M213.3,598.6h0M262.2,526.7h0M286.7,525.4h0M282.1,511.9h0M295.1,526.7h0M280.9,535.6h0M284.7,516.4h0M322.1,476.8h0M217.7,594.5h0M235.3,556.9h0M231.2,606.4h0M216.8,597.4h0M211.8,602.8h0M230.5,565.0h0M230.5,571.3h0M312.2,539.3h0M246.0,563.9h0M291.3,498.0h0M286.7,525.6h0M294.7,502.1h0M323.5,498.2h0M250.0,557.8h0M303.0,490.1h0M302.0,528.7h0M267.1,600.0h0M205.5,603.2h0M233.8,592.9h0M277.6,535.8h0M263.7,546.4h0M295.6,512.4h0M302.4,516.6h0M210.3,587.9h0M287.2,504.1h0M326.5,490.0h0M219.8,582.0h0M295.9,496.8h0M320.7,479.1h0M323.0,490.2h0M305.7,505.0h0M214.9,590.0h0M253.8,565.6h0M288.3,536.9h0M308.4,491.2h0M276.2,546.1h0M329.7,487.9h0M227.4,600.8h0M314.2,507.1h0M244.2,573.3h0M239.3,562.8h0M326.4,479.9h0M230.7,572.4h0M263.9,537.3h0M256.3,584.4h0M215.9,585.1h0M248.9,576.3h0M231.5,554.3h0M285.8,520.0h0M247.0,562.8h0M262.8,535.9h0M241.4,566.3h0M271.8,536.0h0M271.2,538.0h0M293.1,524.3h0M304.9,498.3h0M233.7,573.2h0M301.5,487.0h0M276.2,528.3h0M219.7,570.1h0M210.0,587.5h0M319.7,565.6h0M241.7,574.7h0M289.7,513.1h0M311.4,481.0h0M295.4,513.6h0M327.9,483.7h0M259.7,545.3h0M308.6,485.5h0M268.7,527.3h0"/>
<path d="M214.4,573.0h0M213.1,591.0h0M244.9,583.3h0M262.7,556.3h0M215.3,594.3h0M270.1,521.0h0M297.8,491.8h0M321.8,509.3h0M242.4,563.0h0M252.4,538.9h0M271.5,560.9h0M310.7,525.1h0M302.1,511.0h0M220.0,589.2h0M317.5,501.3h0M222.9,601.8h0M263.0,558.7h0M215.5,585.5h0M218.7,588.0h0M217.0,591.6h0M313.1,484.7h0M220.0,605.4h0M312.9,493.1h0M305.3,521.2h0M232.6,571.8h0M233.9,570.4h0M323.8,478.0h0M318.5,488.5h0M249.3,541.4h0M235.4,584.4h0M224.8,602.4h0M223.0,603.5h0M229.5,581.9h0M209.8,597.9h0M209.8,562.8h0M299.0,521.1h0M309.7,490.3h0M222.2,569.0h0M283.3,500.6h0M297.4,514.4h0M287.6,536.2h0M327.9,478.4h0M274.1,557.2h0M290.4,515.3h0M288.3,566.2h0M329.4,476.8h0M267.7,552.1h0M246.6,563.4h0M202.9,606.1h0M312.3,514.4h0M274.5,543.4h0M327.9,492.8h0M312.2,502.4h0M218.0,601.4h0M230.9,591.3h0M223.0,583.2h0M259.4,542.9h0M208.7,585.2h0M228.6,567.2h0M211.6,594.7h0M255.9,539.5h0M285.7,510.6h0M297.5,491.2h0M271.4,546.2h0M311.9,488.6h0M256.7,551.8h0M289.9,518.0h0M262.8,557.7h0M283.3,523.0h0M269.3,529.6h0M269.1,522.9h0M235.5,556.6h0M229.9,570.3h0M301.4,515.0h0M207.8,602.3h0M297.9,512.7h0M224.7,608.3h0M245.1,555.3h0M268.3,521.1h0M201.6,603.1h0M208.2,601.1h0M247.5,558.3h0M226.1,582.7h0M280.2,495.2h0M235.4,562.6h0M308.6,484.2h0M212.4,594.3h0M322.8,481.7h0M297.6,507.7h0M236.3,543.9h0M313.5,518.4h0M279.8,525.7h0M263.9,574.4h0M277.2,514.8h0M201.7,607.3h0M241.9,585.7h0M303.2,487.0h0M227.6,562.4h0M210.2,604.1h0"/>
<path d="M272.4,524.7h0M297.1,521.7h0M258.6,581.6h0M308.7,493.0h0M207.4,599.4h0M313.8,480.1h0M288.5,506.1h0M206.8,593.8h0M263.2,542.0h0M253.0,518.7h0M205.2,603.1h0M210.6,594.0h0M255.7,549.1h0M271.8,525.9h0M266.4,552.3h0M233.3,572.4h0M325.3,533.1h0M242.7,528.1h0M219.9,578.0h0M328.1,491.3h0M211.5,581.0h0M243.8,567.7h0M208.0,590.9h0M316.2,495.7h0M246.6,551.9h0M236.3,559.5h0M217.2,579.5h0M238.6,570.1h0M202.8,590.4h0M201.2,599.7h0M230.8,566.3h0M321.4,487.0h0M254.0,592.8h0M312.0,519.2h0M239.0,591.6h0M233.6,590.6h0M288.7,554.4h0M302.1,506.6h0M329.1,483.6h0M276.4,537.8h0M234.5,573.2h0M246.7,556.2h0M289.4,519.9h0M257.2,532.3h0M320.3,483.7h0M263.9,541.0h0M253.7,547.2h0M295.8,515.7h0M223.1,588.2h0M316.7,483.5h0M263.8,542.6h0M203.7,585.1h0M289.9,506.8h0M313.0,491.7h0M235.6,563.3h0M322.7,477.4h0M247.3,589.2h0M310.5,526.1h0M316.7,491.8h0M310.8,493.4h0M232.8,569.2h0M257.0,560.7h0M293.2,490.9h0M327.5,489.0h0M273.2,536.4h0M303.4,511.1h0M242.1,556.7h0M269.8,513.8h0M235.4,588.4h0M253.2,544.1h0M248.8,588.6h0M292.7,519.0h0M294.5,492.0h0M245.6,566.8h0M307.3,479.1h0M261.0,540.1h0M322.6,481.9h0M273.8,555.0h0M297.4,521.3h0M223.9,599.9h0M248.2,532.9h0M325.3,482.8h0M315.8,504.8h0M220.1,597.0h0M288.1,518.7h0M284.4,537.3h0M299.9,493.7h0M316.1,487.8h0M235.0,579.1h0M227.7,557.9h0M249.2,574.7h0M309.3,535.6h0M235.1,586.3h0M266.6,561.7h0M295.5,511.8h0M273.4,530.1h0M260.3,544.9h0M286.8,527.2h0M311.6,515.1h0"/>
<path d="M313.8,477.0h0M232.4,593.3h0M228.7,572.3h0M324.7,479.5h0M295.3,497.4h0M231.9,561.0h0M241.8,564.7h0M281.7,499.1h0M295.7,497.1h0M202.4,575.0h0M253.7,544.0h0M257.9,568.4h0M253.6,566.4h0M258.9,526.4h0M227.6,567.5h0M215.4,601.9h0M250.7,546.2h0M220.5,587.7h0M264.4,562.8h0M229.5,602.0h0M289.0,515.5h0M326.5,478.4h0M295.8,536.7h0M304.2,495.8h0M328.6,510.2h0M213.7,589.0h0M295.2,531.8h0M315.8,502.1h0M284.0,504.9h0M230.6,604.0h0M257.7,522.3h0M203.9,598.7h0M326.2,491.7h0M207.4,592.5h0M302.9,507.0h0M253.3,552.7h0M283.3,500.2h0M269.3,573.7h0M229.3,600.0h0M305.9,505.9h0M311.9,499.8h0M267.8,539.4h0M222.0,544.4h0M267.7,529.5h0M317.9,501.5h0M237.1,573.8h0M288.5,516.3h0M231.4,540.3h0M290.7,522.2h0M239.0,563.7h0M310.2,501.8h0M280.8,533.4h0M265.4,526.5h0M230.3,569.2h0M328.0,502.5h0M207.3,591.3h0M221.5,538.8h0M273.4,539.5h0M220.8,570.1h0M262.5,533.7h0M301.4,502.6h0M208.0,600.0h0M276.7,535.2h0M241.2,583.2h0M208.9,603.7h0M251.4,537.2h0M202.2,599.4h0M328.2,485.2h0M232.8,597.5h0M293.9,492.0h0M223.0,586.8h0M209.0,595.7h0M292.6,523.8h0M232.6,575.6h0M252.8,572.4h0M276.9,540.5h0M212.8,600.9h0M242.1,541.2h0M270.2,534.5h0M204.6,603.3h0M201.5,607.3h0M302.8,589.1h0M301.8,504.2h0M229.3,596.1h0M247.0,555.7h0M243.5,565.9h0M236.1,590.3h0M287.6,524.9h0M225.0,572.0h0M294.2,514.6h0M278.0,582.9h0M294.0,496.7h0M251.5,559.7h0M286.6,508.8h0M323.3,485.2h0M292.5,542.1h0M298.4,516.5h0M202.5,602.2h0M278.2,532.6h0"/>
<path d="M237.5,554.2h0M304.2,487.2h0M248.0,578.2h0M239.4,568.8h0M288.7,547.0h0M258.4,539.7h0M214.2,572.4h0M278.7,569.4h0M203.6,594.1h0M249.8,552.5h0M201.4,602.3h0M222.3,584.4h0M245.5,587.9h0M253.2,551.0h0M322.8,492.8h0M230.9,603.5h0M318.3,498.5h0M291.6,533.9h0M284.1,492.8h0M264.3,573.6h0M316.0,493.0h0M244.7,560.9h0M272.1,563.5h0M229.1,582.4h0M270.9,516.8h0M242.0,568.9h0M210.8,564.7h0M325.6,489.7h0M235.8,596.9h0M277.6,547.6h0M282.6,513.3h0M313.4,499.7h0M234.9,601.4h0M237.6,563.9h0M232.0,586.2h0M203.3,587.9h0M280.2,529.2h0M210.3,588.2h0M317.2,492.3h0M319.6,510.9h0M286.0,503.0h0M282.9,541.5h0M256.0,550.7h0M314.4,496.0h0M263.3,530.1h0M326.2,481.1h0M294.3,526.1h0M273.3,551.1h0M242.1,567.0h0M284.9,482.6h0M224.5,580.7h0M226.0,557.7h0M236.4,598.0h0M261.7,563.2h0M285.4,525.3h0M275.5,518.2h0M255.7,523.0h0M316.8,503.1h0M218.8,580.1h0M233.5,591.6h0M213.5,606.2h0M230.0,564.5h0M229.0,533.7h0M283.7,513.7h0M241.7,541.8h0M298.8,507.6h0M232.8,575.2h0M236.4,570.3h0M273.9,509.0h0M248.9,552.3h0M276.0,525.0h0M239.0,555.3h0M303.6,495.0h0M203.8,604.1h0M326.7,484.1h0M250.5,567.0h0M279.5,555.0h0M326.3,479.6h0M263.0,538.1h0M234.7,566.3h0M295.6,516.3h0M224.9,551.1h0M202.9,608.3h0M244.9,576.1h0M203.6,601.8h0M253.7,556.1h0M321.6,489.3h0M279.5,534.0h0M329.4,485.5h0M233.1,546.0h0M213.3,597.7h0M220.0,573.6h0M222.5,565.2h0M322.1,500.3h0M328.6,496.6h0M222.9,578.8h0M255.3,545.8h0M271.4,530.5h0M282.9,523.7h0"/>
</g>
</g>
<g clip-path="url(#c32)">
<use href="#ct" transform="matrix(0.12920 0 0 -0.13160 353.30 608.35)"/>
<g stroke="#000" stroke-opacity="0.3" stroke-width="3" stroke-linecap="round" fill="none">
<path d="M461.5,495.5h0M355.9,603.2h0M430.7,506.2h0M427.0,526.1h0M383.3,573.8h0M396.8,554.2h0M439.8,502.5h0M441.7,482.1h0M407.8,565.9h0M404.3,568.2h0M454.6,515.0h0M473.1,491.7h0M463.4,487.7h0M434.0,532.6h0M438.5,543.8h0M364.8,602.3h0M449.7,502.9h0M394.7,518.3h0M384.1,588.2h0M396.1,565.2h0M398.3,575.2h0M399.4,566.7h0M452.9,516.6h0M399.1,543.3h0M378.3,573.2h0M353.7,595.0h0M377.3,586.4h0M413.5,547.4h0M457.9,503.0h0M408.4,559.7h0M434.3,522.4h0M400.8,547.4h0M461.9,486.7h0M446.4,510.6h0M386.6,575.7h0M362.5,607.4h0M365.7,587.7h0M459.0,523.4h0M471.3,483.6h0M406.9,560.5h0M425.5,532.1h0M393.8,530.0h0M398.2,568.4h0M359.8,597.0h0M441.0,514.5h0M394.6,597.3h0M466.6,494.0h0M442.3,523.7h0M365.5,597.4h0M456.3,507.6h0M375.3,593.9h0M368.3,566.4h0M478.1,489.5h0M358.1,586.8h0M430.0,537.5h0M467.8,479.7h0M426.7,539.5h0M463.4,480.1h0M381.0,575.2h0M475.2,507.5h0M357.3,604.1h0M482.0,486.0h0M389.9,578.8h0M392.9,565.9h0M394.1,569.2h0M468.8,498.3h0M468.0,480.2h0M468.3,487.0h0M448.1,490.9h0M362.1,593.1h0M401.3,561.4h0M398.1,553.4h0M390.2,583.3h0M465.4,513.2h0M395.1,542.0h0M402.5,556.7h0M444.2,516.3h0M368.9,606.1h0M465.7,503.7h0M429.6,543.3h0M369.0,573.2h0M356.1,590.7h0M388.0,589.0h0M416.0,555.0h0M410.9,543.7h0M421.5,533.7h0M458.7,509.4h0M456.4,493.9h0M376.4,557.7h0M415.2,535.9h0M436.3,524.6h0M409.9,571.7h0M438.0,531.1h0M354.9,604.0h0M388.5,580.1h0M461.0,496.1h0M364.4,599.7h0M407.8,555.0h0M386.9,563.3h0M481.7,478.9h0M369.9,578.9h0"/>
<path d="M420.4,516.1h0M455.9,522.4h0M475.6,486.1h0M362.3,590.7h0M404.7,534.4h0M447.3,555.9h0M420.7,566.4h0M453.0,514.4h0M466.0,525.4h0M456.5,496.1h0M434.5,535.9h0M439.7,521.3h0M363.7,594.2h0M404.1,563.2h0M481.0,478.4h0M406.5,581.5h0M479.0,492.8h0M477.8,487.4h0M451.7,491.2h0M359.7,570.3h0M409.9,549.3h0M438.0,533.9h0M431.0,548.3h0M412.1,529.6h0M376.8,577.9h0M379.3,583.7h0M463.2,495.8h0M404.3,570.4h0M388.1,582.7h0M429.8,560.7h0M403.4,551.0h0M425.4,540.3h0M387.7,587.7h0M385.1,592.9h0M385.1,566.1h0M467.0,493.0h0M386.8,561.5h0M391.5,580.4h0M386.1,572.4h0M398.4,570.1h0M389.1,510.2h0M380.6,587.9h0M353.8,599.7h0M359.2,605.0h0M418.0,541.5h0M387.5,564.7h0M367.9,576.9h0M474.0,493.4h0M482.3,480.3h0M452.0,487.0h0M448.4,500.7h0M397.1,567.7h0M441.0,532.5h0M432.5,538.4h0M378.9,565.5h0M469.2,487.2h0M467.2,496.6h0M405.9,559.1h0M442.5,521.2h0M431.7,566.0h0M436.7,508.4h0M429.6,522.3h0M401.3,534.5h0M406.6,542.0h0M456.5,493.0h0M427.6,573.1h0M366.2,591.4h0M461.5,497.4h0M383.3,574.1h0M354.2,597.2h0M376.5,587.9h0M423.7,525.9h0M469.6,482.2h0M479.7,489.3h0M439.5,525.6h0M390.1,582.5h0M464.9,515.2h0M447.9,537.3h0M434.4,495.0h0M399.4,584.4h0M388.5,584.8h0M370.2,598.7h0M437.0,506.1h0M435.1,566.2h0M362.3,601.9h0M474.8,494.3h0M388.2,534.6h0M356.5,573.2h0M435.7,540.0h0M473.2,481.8h0M428.9,512.9h0M476.1,493.0h0M437.5,514.2h0M360.6,599.1h0M459.4,483.5h0M375.4,566.3h0M363.5,594.3h0M430.3,527.5h0M420.3,533.7h0M421.1,565.2h0M477.9,496.8h0"/>
<path d="M410.0,547.6h0M418.3,538.8h0M413.0,533.3h0M437.7,543.4h0M362.4,601.4h0M360.1,588.1h0M391.7,579.6h0M365.7,583.4h0M362.5,578.0h0M477.9,519.6h0M425.8,518.5h0M469.4,488.6h0M435.2,547.0h0M413.0,534.2h0M373.1,598.0h0M479.9,488.7h0M439.0,521.1h0M421.5,542.0h0M414.7,564.0h0M473.8,513.3h0M468.4,503.0h0M401.3,547.2h0M393.4,552.5h0M389.2,592.0h0M415.7,550.3h0M390.1,518.7h0M406.0,540.7h0M388.9,576.0h0M379.3,591.6h0M446.5,499.8h0M458.6,484.6h0M385.4,574.4h0M362.4,581.7h0M411.9,577.1h0M462.8,490.5h0M411.6,541.0h0M479.0,492.8h0M361.1,606.4h0M411.6,537.7h0M379.7,573.0h0M417.6,546.6h0M424.0,515.9h0M388.9,581.9h0M465.1,504.3h0M439.8,560.9h0M401.8,588.2h0M462.9,523.9h0M459.9,506.8h0M397.1,532.3h0M455.6,500.2h0M359.0,601.4h0M439.1,551.0h0M482.0,476.9h0M443.2,486.5h0M436.9,537.9h0M448.5,492.3h0M441.7,504.2h0M481.6,483.7h0M433.6,516.9h0M440.7,514.8h0M400.9,570.8h0M363.1,600.0h0M424.7,535.8h0M450.2,499.2h0M401.5,527.8h0M373.3,557.9h0M401.9,543.0h0M371.9,577.8h0M474.0,488.6h0M390.5,577.1h0M397.6,564.5h0M421.8,527.2h0M384.7,572.0h0M364.3,581.9h0M478.9,479.4h0M451.5,500.3h0M372.9,592.9h0M430.5,525.4h0M417.9,539.4h0M474.4,480.1h0M434.9,525.7h0M429.8,533.5h0M465.2,513.7h0M471.0,498.5h0M462.5,523.9h0M475.1,492.3h0M423.5,557.2h0M384.8,591.4h0M357.1,598.0h0M460.0,493.1h0M393.4,555.8h0M463.1,499.5h0M478.0,480.7h0M364.7,561.3h0M471.7,510.9h0M428.1,530.5h0M413.9,550.2h0M390.5,567.0h0M407.3,552.1h0M425.4,523.0h0M406.1,573.0h0"/>
<path d="M455.8,480.1h0M374.6,572.0h0M359.3,572.7h0M392.5,572.2h0M430.4,486.4h0M374.5,590.9h0M477.9,476.8h0M411.1,545.3h0M413.5,544.0h0M444.3,515.5h0M381.7,573.6h0M399.3,581.6h0M477.5,485.2h0M445.7,511.3h0M357.0,602.3h0M367.8,604.0h0M426.3,592.3h0M444.2,539.7h0M474.8,491.7h0M364.4,577.4h0M363.9,579.1h0M388.3,578.1h0M450.8,513.0h0M364.7,608.0h0M417.2,550.5h0M473.2,487.8h0M396.4,579.6h0M401.3,575.6h0M431.3,533.7h0M393.5,564.1h0M401.4,566.3h0M420.6,524.3h0M430.8,510.3h0M479.1,482.3h0M430.7,531.6h0M386.4,573.2h0M381.9,569.8h0M471.2,489.4h0M475.1,487.6h0M381.5,559.4h0M354.0,574.1h0M424.5,558.3h0M481.8,480.2h0M449.7,488.4h0M476.1,479.6h0M416.7,551.1h0M406.0,538.9h0M464.2,511.7h0M448.1,518.5h0M427.2,537.8h0M446.0,488.6h0M420.8,520.3h0M377.7,597.5h0M450.7,494.4h0M480.1,506.6h0M473.3,484.8h0M433.9,531.8h0M473.6,489.0h0M396.7,540.2h0M376.1,595.0h0M353.9,604.1h0M435.3,518.2h0M431.4,522.9h0M418.1,518.4h0M439.1,552.8h0M443.1,515.8h0M445.2,498.9h0M461.3,498.8h0M460.4,489.4h0M419.2,537.9h0M459.7,492.3h0M376.3,578.1h0M364.3,592.2h0M466.8,489.6h0M443.5,518.7h0M461.6,502.9h0M458.4,478.1h0M480.0,484.1h0M384.3,555.3h0M389.9,585.7h0M370.3,575.0h0M430.7,526.7h0M358.2,601.3h0M481.7,479.6h0M406.3,552.9h0M399.4,555.6h0M417.2,564.4h0M361.2,597.2h0M416.3,545.3h0M387.7,548.7h0M443.3,486.2h0M377.9,594.5h0M433.3,539.6h0M369.1,577.5h0M431.6,525.5h0M384.1,576.6h0M383.4,585.2h0M428.5,500.9h0M421.5,527.3h0M390.2,581.6h0"/>
<path d="M462.6,503.1h0M363.0,588.3h0M383.5,571.6h0M452.4,523.5h0M460.8,494.8h0M443.2,535.3h0M415.1,550.0h0M356.5,602.7h0M436.1,538.0h0M378.3,567.2h0M419.9,554.5h0M456.2,521.6h0M429.8,527.7h0M374.2,595.7h0M391.3,580.0h0M371.4,594.4h0M466.1,481.7h0M458.5,502.9h0M417.8,557.7h0M470.6,479.5h0M471.9,489.3h0M432.0,533.0h0M429.4,514.6h0M392.1,563.0h0M440.2,536.2h0M464.1,509.3h0M450.5,498.0h0M379.5,570.1h0M440.9,511.2h0M394.0,562.8h0M399.7,549.8h0M474.7,492.8h0M392.0,569.2h0M461.1,483.6h0M460.3,493.8h0M405.8,585.1h0M416.3,512.1h0M403.3,560.9h0M407.4,554.7h0M473.0,496.2h0M412.5,556.6h0M360.9,591.6h0M405.4,551.6h0M406.8,527.4h0M382.5,554.3h0M388.5,567.5h0M462.0,512.4h0M360.3,585.5h0M461.4,482.4h0M392.1,566.8h0M385.6,584.5h0M385.3,578.7h0M355.0,602.7h0M359.9,594.3h0M414.7,553.6h0M353.7,593.3h0M428.9,535.2h0M423.7,543.0h0M463.2,484.1h0M398.3,541.8h0M481.4,496.0h0M466.7,482.8h0M404.3,573.1h0M389.1,589.2h0M424.8,490.5h0M417.2,549.1h0M400.4,561.7h0M446.9,506.0h0M475.1,476.8h0M393.6,568.4h0M465.5,490.2h0M413.5,580.6h0M471.5,501.5h0M400.4,562.0h0M412.3,545.8h0M376.6,585.2h0M420.9,536.7h0M396.3,560.7h0M477.2,478.0h0M378.0,563.7h0M395.6,563.9h0M423.4,545.2h0M406.3,567.0h0M383.0,582.5h0M428.4,555.6h0M472.4,488.1h0M424.7,536.6h0M387.1,583.9h0M430.1,521.8h0M370.1,598.7h0M460.0,490.4h0M369.7,573.2h0M465.7,478.1h0M420.3,526.3h0M443.9,520.9h0M369.1,582.0h0M446.2,508.8h0M393.4,522.4h0M372.3,600.5h0M453.3,537.9h0"/>
<path d="M385.5,583.0h0M435.7,528.5h0M411.5,573.6h0M454.0,506.6h0M422.6,559.8h0M426.5,536.7h0M372.2,542.5h0M452.1,530.3h0M437.8,520.6h0M395.9,581.9h0M436.3,526.6h0M408.4,551.6h0M473.4,509.9h0M422.8,526.2h0M357.4,605.9h0M414.3,531.1h0M441.1,525.0h0M435.1,498.0h0M363.7,578.1h0M360.0,603.3h0M468.9,478.5h0M367.9,574.1h0M374.1,583.4h0M367.3,608.3h0M470.4,529.4h0M434.8,531.3h0M396.6,606.0h0M403.0,540.4h0M460.5,521.1h0M408.8,600.0h0M454.7,533.4h0M440.6,516.5h0M384.4,570.3h0M438.3,533.1h0M366.6,605.4h0M417.1,528.5h0M353.5,607.5h0M361.9,584.4h0M458.4,477.3h0M393.1,551.8h0M460.5,501.3h0M456.0,525.3h0M435.2,522.2h0M414.8,526.0h0M410.9,518.0h0M450.7,522.2h0M396.5,563.6h0M430.4,514.1h0M354.0,602.0h0M381.2,554.7h0M442.3,549.0h0M421.6,543.5h0M431.5,530.1h0M391.0,575.0h0M366.4,596.5h0M480.9,479.1h0M397.4,591.8h0M450.6,529.5h0M396.3,583.2h0M405.0,565.9h0M454.5,536.9h0M399.1,553.8h0M414.8,540.6h0M370.7,527.7h0M357.0,606.4h0M374.7,595.2h0M382.4,600.8h0M442.9,527.5h0M392.7,566.5h0M361.7,608.3h0M477.5,478.1h0M424.7,518.0h0M406.8,541.7h0M452.3,520.0h0M357.2,594.1h0M399.2,576.0h0M363.3,588.9h0M387.7,566.8h0M460.6,511.7h0M405.7,555.2h0M429.6,504.3h0M463.1,511.9h0M413.1,569.1h0M355.8,601.0h0M374.7,567.0h0M456.8,519.0h0M387.4,557.6h0M446.3,535.6h0M447.8,496.2h0M475.8,481.9h0M432.4,521.7h0M427.6,498.0h0M479.5,476.9h0M401.3,553.6h0M379.3,587.9h0M398.7,569.2h0M459.1,502.1h0M397.7,586.0h0M455.8,490.1h0M430.1,524.7h0"/>
<path d="M475.1,493.1h0M436.6,519.9h0M378.2,562.4h0M429.5,531.1h0M457.2,493.9h0M390.3,555.4h0M481.4,484.7h0M419.4,546.2h0M466.1,490.3h0M460.0,478.4h0M446.3,515.8h0M474.8,491.8h0M477.2,479.1h0M429.2,504.9h0M397.8,567.5h0M451.1,492.0h0M405.0,560.3h0M420.5,547.0h0M363.6,602.1h0M447.1,484.3h0M364.5,597.7h0M357.4,601.5h0M375.2,578.9h0M362.0,591.3h0M445.0,502.1h0M456.9,527.1h0M456.7,538.4h0M436.1,481.5h0M414.8,571.8h0M408.4,554.4h0M399.7,556.6h0M394.3,548.2h0M378.3,563.3h0M354.4,606.0h0M427.9,530.9h0M440.0,493.8h0M410.3,568.8h0M418.9,563.7h0M357.0,589.7h0M477.9,489.3h0M354.5,591.5h0M475.5,486.3h0M467.1,509.7h0M400.1,556.0h0M450.2,514.7h0M364.0,601.8h0M455.5,508.2h0M354.2,598.6h0M377.1,573.0h0M477.2,477.0h0M390.9,577.9h0M455.7,478.3h0M435.9,519.5h0M367.8,603.2h0M396.3,569.2h0M359.3,581.8h0M398.3,541.5h0M385.6,573.3h0M428.7,532.6h0M405.8,562.8h0M361.9,590.4h0M370.8,597.4h0M412.1,542.9h0M466.1,510.4h0M400.1,567.1h0M361.5,557.7h0M359.1,591.3h0M446.0,495.6h0M401.3,562.3h0M464.0,500.9h0M477.0,502.1h0M446.3,520.3h0M372.7,593.6h0M408.2,547.0h0M380.8,576.4h0M436.7,542.7h0M480.9,492.5h0M448.9,501.8h0M422.4,536.0h0M379.0,574.2h0M400.0,588.4h0M468.9,497.5h0M452.5,487.8h0M395.2,562.6h0M458.9,499.9h0M461.1,491.2h0M475.5,481.0h0M441.0,514.4h0M392.2,556.2h0M359.3,603.1h0M376.9,603.9h0M392.0,576.1h0M428.9,571.8h0M437.4,529.2h0M458.9,499.1h0M424.4,523.8h0M385.8,559.5h0M469.8,481.1h0M423.8,558.7h0M404.7,552.3h0"/>
<path d="M429.5,530.3h0M435.1,561.5h0M354.9,602.2h0M433.8,545.2h0M423.4,522.3h0M368.0,562.7h0M392.2,599.9h0M438.3,523.8h0M356.9,584.4h0M409.7,529.5h0M418.5,556.1h0M387.8,531.8h0M387.6,591.6h0M450.1,519.3h0M433.4,526.9h0M476.4,481.9h0M468.3,490.0h0M396.7,563.4h0M373.2,585.1h0M431.3,554.9h0M397.8,543.9h0M445.4,555.3h0M371.7,584.4h0M451.4,520.0h0M372.2,586.3h0M366.7,597.4h0M365.7,588.0h0M440.3,536.2h0M373.0,594.0h0M469.0,496.6h0M363.3,590.3h0M411.5,556.3h0M355.3,603.5h0M474.6,506.6h0M357.2,607.7h0M456.4,479.9h0M417.4,528.6h0M424.2,545.8h0M437.7,490.1h0M445.8,523.6h0M389.2,563.9h0M382.5,531.8h0M464.1,519.0h0M371.8,572.4h0M448.3,489.7h0M394.4,549.2h0M357.5,604.1h0M452.4,508.6h0M393.1,549.9h0M395.2,563.0h0M469.2,485.2h0M409.8,516.8h0M449.0,519.7h0M391.9,604.5h0M369.6,588.6h0M388.2,565.2h0M415.5,576.3h0M413.2,541.2h0M433.9,550.9h0M443.0,515.7h0M369.3,591.7h0M367.7,587.9h0M475.3,477.4h0M460.1,484.7h0M467.2,501.1h0M381.9,547.7h0M387.3,566.3h0M378.4,579.7h0M429.9,560.9h0M419.2,546.2h0M407.5,570.4h0M469.5,503.9h0M398.5,583.2h0M429.1,534.0h0M468.7,497.4h0M470.8,547.2h0M414.7,549.7h0M368.1,596.8h0M454.6,495.2h0M417.4,516.4h0M396.0,567.0h0M467.9,484.9h0M392.5,553.6h0M472.8,477.1h0M368.2,576.9h0M439.0,526.7h0M399.4,600.7h0M472.8,478.5h0M396.9,559.0h0M460.2,483.4h0M354.8,603.3h0M471.2,496.3h0M368.5,560.0h0M464.7,487.0h0M475.9,484.2h0M374.7,588.1h0M417.0,576.3h0M376.6,594.7h0M406.7,548.4h0M471.5,485.2h0"/>
<path d="M446.5,515.7h0M409.1,535.7h0M361.0,561.9h0M437.4,546.1h0M400.3,578.8h0M385.0,576.8h0M375.4,585.7h0M448.1,499.4h0M407.7,537.3h0M361.9,581.0h0M460.5,485.5h0M440.3,519.3h0M410.6,538.1h0M419.1,519.1h0M421.4,583.5h0M404.0,555.3h0M429.6,547.8h0M425.0,545.4h0M431.6,531.9h0M481.1,513.1h0M403.1,574.7h0M440.7,511.0h0M469.6,483.7h0M399.5,556.0h0M475.6,507.1h0M479.0,485.9h0M454.4,507.5h0M359.8,590.9h0M424.8,558.1h0M354.7,602.5h0M359.9,585.1h0M403.4,561.7h0M444.0,521.8h0M445.8,526.3h0M399.4,577.0h0M430.3,520.2h0M379.7,554.2h0M473.4,496.8h0M472.0,483.4h0M367.4,565.2h0M398.3,578.7h0M362.4,594.0h0M474.0,487.4h0M416.8,526.4h0M469.5,493.6h0M389.7,593.8h0M387.5,596.1h0M387.3,572.8h0M408.3,540.8h0M479.7,487.4h0M421.3,535.5h0M375.2,572.4h0M472.6,517.1h0M396.9,573.5h0M428.9,537.2h0M450.4,523.0h0M359.7,590.4h0M430.6,551.1h0M380.6,585.7h0M379.4,590.5h0M429.4,516.8h0M418.6,481.5h0M392.2,548.3h0M472.9,501.4h0M415.4,505.5h0M467.9,491.3h0M457.2,483.9h0M473.3,487.9h0M438.5,493.7h0M396.1,558.1h0M392.8,576.7h0M382.8,572.9h0M396.8,584.6h0M399.5,587.2h0M422.7,523.9h0M448.4,499.1h0M464.8,479.7h0M397.1,578.1h0M422.3,492.0h0M381.3,582.7h0M369.1,592.1h0M378.0,576.2h0M401.8,566.3h0M396.5,551.0h0M459.0,510.2h0M392.5,578.2h0M394.8,565.0h0M461.6,491.8h0M397.8,571.6h0M430.3,533.1h0M478.0,488.5h0M390.5,568.9h0M458.8,498.2h0M465.2,495.7h0M415.4,540.2h0M453.0,505.9h0M377.7,579.3h0M425.6,552.5h0M395.3,534.7h0M440.7,513.5h0"/>
<path d="M414.9,554.5h0M478.3,483.7h0M393.9,547.1h0M357.6,598.7h0M375.7,591.3h0M397.1,552.0h0M422.2,543.4h0M378.7,583.6h0M480.4,478.6h0M378.3,587.4h0M428.7,504.6h0M399.1,566.4h0M444.9,513.6h0M358.8,600.9h0M451.6,513.3h0M477.8,489.7h0M464.2,495.3h0M452.7,526.7h0M418.5,552.3h0M356.7,607.9h0M392.6,557.8h0M481.8,494.8h0M466.4,490.2h0M406.1,551.1h0M416.7,547.6h0M412.2,585.3h0M438.9,524.2h0M463.3,498.6h0M429.5,533.1h0M402.0,570.1h0M469.8,489.8h0M438.0,547.3h0M376.0,521.5h0M422.7,530.1h0M390.7,549.7h0M412.3,536.0h0M482.4,479.9h0M369.9,605.2h0M375.2,588.2h0M374.0,595.2h0M464.2,494.2h0M377.2,561.0h0M469.6,516.3h0M356.9,596.9h0M357.6,603.5h0M357.1,591.0h0M389.9,590.6h0M446.4,545.0h0M468.8,513.6h0M465.3,484.4h0M418.4,550.9h0M406.0,573.6h0M401.3,530.7h0M446.9,509.0h0M424.4,542.1h0M452.6,493.6h0M429.9,526.1h0M454.6,511.8h0M416.6,565.1h0M365.5,602.4h0M455.0,511.1h0M374.0,590.0h0M448.3,542.2h0M453.1,491.8h0M376.0,544.6h0M382.5,582.4h0M401.0,542.7h0M421.1,526.5h0M382.8,591.1h0M457.4,514.5h0M461.2,485.5h0M462.7,501.5h0M459.0,501.1h0M459.7,517.7h0M410.1,539.6h0M465.4,496.7h0M454.8,515.3h0M389.7,572.3h0M395.7,569.7h0M411.2,560.9h0M441.7,549.2h0M472.3,485.2h0M370.1,592.7h0M410.2,575.3h0M432.0,505.0h0M422.2,552.7h0M422.7,536.9h0M403.2,591.0h0M468.7,499.7h0M471.7,478.7h0M372.9,578.7h0M410.2,541.3h0M355.8,597.7h0M481.7,478.5h0M412.3,544.9h0M421.6,542.0h0M389.9,556.9h0M401.7,542.7h0M469.3,496.0h0M375.7,569.0h0"/>
<path d="M391.6,509.3h0M452.9,540.3h0M376.8,570.1h0M375.3,582.7h0M440.1,524.9h0M436.9,511.3h0M383.9,560.5h0M443.0,514.1h0M464.6,493.4h0M393.7,566.6h0M412.2,549.9h0M402.1,557.8h0M361.0,595.7h0M431.2,531.0h0M354.3,577.3h0M363.4,605.6h0M358.9,602.8h0M440.1,528.7h0M379.3,601.1h0M422.5,521.8h0M470.1,488.0h0M360.3,604.9h0M395.7,563.5h0M376.5,545.9h0M373.2,606.7h0M441.7,527.2h0M403.6,539.5h0M467.5,508.1h0M417.2,557.4h0M436.9,521.0h0M353.7,584.4h0M444.4,546.4h0M381.1,580.1h0M456.3,516.5h0M446.5,525.3h0M362.2,587.9h0M357.2,575.9h0M406.3,577.2h0M477.7,479.1h0M364.2,571.2h0M426.1,527.5h0M359.2,589.2h0M437.8,513.1h0M436.7,520.5h0M467.0,523.4h0M480.3,481.3h0M456.8,487.0h0M480.9,482.8h0M356.7,600.0h0M472.7,505.0h0M479.9,491.7h0M464.7,519.2h0M471.3,502.3h0M470.9,504.8h0M441.9,510.9h0M423.9,542.3h0M386.8,574.7h0M427.0,537.0h0M443.2,515.1h0M380.3,572.4h0M417.1,546.1h0M402.1,555.7h0M441.2,507.9h0M413.0,576.1h0M356.2,597.9h0M446.2,502.5h0M423.0,528.1h0M479.2,483.3h0M416.0,535.4h0M388.8,593.3h0M408.4,560.2h0M367.3,574.1h0M457.1,494.0h0M426.1,542.9h0M425.6,540.1h0M433.4,531.9h0M399.8,558.3h0M372.8,584.7h0M357.2,595.1h0M387.2,546.0h0M407.7,532.9h0M439.0,543.3h0M395.5,573.5h0M402.2,581.7h0M448.9,512.1h0M383.9,571.6h0M423.6,563.9h0M434.5,512.5h0M397.3,550.7h0M447.3,489.8h0M399.8,572.4h0M402.6,538.3h0M475.8,490.0h0M413.6,536.4h0M471.6,488.4h0M408.3,548.3h0M462.8,507.0h0M366.6,590.5h0M455.8,509.5h0M377.9,583.2h0"/>
<path d="M368.8,547.4h0M474.4,489.3h0M402.3,562.8h0M373.4,600.1h0M475.1,478.4h0M474.7,508.5h0M403.4,565.1h0M436.2,507.7h0M407.1,560.9h0M402.3,565.5h0M466.9,486.6h0M442.3,547.0h0M407.6,550.0h0M380.1,569.9h0M403.9,537.3h0M358.9,592.4h0M378.8,594.7h0M359.6,592.5h0M454.4,504.1h0M374.9,569.1h0M357.8,599.4h0M366.7,590.0h0M428.4,552.0h0M433.1,525.1h0M362.7,607.3h0M427.7,538.3h0M452.8,490.3h0M389.1,599.0h0M399.4,522.8h0M368.5,596.3h0M408.3,535.1h0M353.4,603.6h0M422.4,541.4h0M411.1,566.3h0M465.5,515.6h0M387.7,568.4h0M466.5,479.5h0M420.0,524.5h0M410.5,563.9h0M361.7,595.9h0M366.4,597.7h0M369.4,538.8h0M369.3,589.2h0M440.7,517.0h0M373.9,590.1h0M482.3,482.9h0M480.1,481.8h0M411.0,564.1h0M406.6,565.1h0M366.8,604.1h0M353.9,603.1h0M459.1,510.9h0M422.2,509.8h0M362.6,587.5h0M383.0,582.3h0M481.9,477.0h0M377.5,588.8h0M427.7,552.8h0M433.0,504.5h0M373.9,586.0h0M448.3,503.4h0M389.4,572.4h0M455.5,517.0h0M409.7,527.8h0M454.0,513.7h0M476.6,486.7h0M403.8,551.8h0M377.5,581.1h0M359.3,607.3h0M358.0,605.3h0M410.9,552.8h0M428.4,526.6h0M459.4,514.7h0M362.8,586.2h0M481.7,502.4h0M373.1,579.5h0M415.6,552.0h0M414.3,556.3h0M414.0,551.9h0M478.7,501.7h0M375.1,582.5h0M357.8,603.7h0M406.4,524.7h0M468.5,485.4h0M398.1,529.0h0M369.0,601.8h0M447.8,491.2h0M375.9,555.2h0M393.0,565.9h0M448.7,524.0h0M454.8,550.2h0M393.4,579.1h0M356.7,602.3h0M459.5,502.6h0M437.9,528.3h0M364.6,601.1h0M356.3,601.6h0M404.6,539.6h0M443.6,512.7h0M432.1,523.3h0"/>
</g>
</g>
<g clip-path="url(#c33)">
<path d="M509.45,614.15V517.30h6.09V614.15zM515.54,614.15V495.90h6.09V614.15zM521.63,614.15V506.40h6.09V614.15zM527.72,614.15V494.10h6.09V614.15zM533.81,614.15V495.90h6.09V614.15zM539.90,614.15V506.40h6.09V614.15zM545.99,614.15V506.40h6.09V614.15zM552.08,614.15V469.95h6.09V614.15zM558.17,614.15V524.30h6.09V614.15zM564.26,614.15V478.50h6.09V614.15zM570.35,614.15V492.40h6.09V614.15zM576.44,614.15V518.70h6.09V614.15zM582.53,614.15V487.10h6.09V614.15zM588.62,614.15V504.60h6.09V614.15zM594.71,614.15V520.60h6.09V614.15zM600.80,614.15V522.50h6.09V614.15zM606.89,614.15V504.60h6.09V614.15zM612.98,614.15V524.30h6.09V614.15zM619.07,614.15V527.80h6.09V614.15zM625.16,614.15V529.60h6.09V614.15z" fill="#009af9" fill-opacity="0.6" stroke="#000" stroke-opacity="0.6" stroke-width="1"/>
<path d="M509.40,559.50C509.75,557.58 510.77,551.58 511.50,548.00C512.23,544.42 512.98,541.40 513.80,538.00C514.62,534.60 515.53,530.93 516.40,527.60C517.27,524.27 518.12,520.92 519.00,518.00C519.88,515.08 520.82,512.30 521.70,510.10C522.58,507.90 523.28,506.33 524.30,504.80C525.32,503.27 526.63,501.85 527.80,500.90C528.97,499.95 529.98,499.43 531.30,499.10C532.62,498.77 534.23,498.85 535.70,498.90C537.17,498.95 538.65,499.27 540.10,499.40C541.55,499.53 542.95,499.70 544.40,499.70C545.85,499.70 547.33,499.60 548.80,499.40C550.27,499.20 551.73,498.80 553.20,498.50C554.67,498.20 556.13,497.90 557.60,497.60C559.07,497.30 560.50,496.93 562.00,496.70C563.50,496.47 565.10,496.23 566.60,496.20C568.10,496.17 569.50,496.20 571.00,496.50C572.50,496.80 574.08,497.35 575.60,498.00C577.12,498.65 578.62,499.58 580.10,500.40C581.58,501.22 583.03,501.95 584.50,502.90C585.97,503.85 587.43,504.93 588.90,506.10C590.37,507.27 591.83,508.65 593.30,509.90C594.77,511.15 596.23,512.58 597.70,513.60C599.17,514.62 600.65,515.35 602.10,516.00C603.55,516.65 604.95,516.88 606.40,517.50C607.85,518.12 609.48,518.82 610.80,519.70C612.12,520.58 613.27,521.70 614.30,522.80C615.33,523.90 616.12,524.85 617.00,526.30C617.88,527.75 618.73,529.60 619.60,531.50C620.47,533.40 621.42,535.75 622.20,537.70C622.98,539.65 623.58,541.32 624.30,543.20C625.02,545.08 625.83,547.12 626.50,549.00C627.17,550.88 627.72,552.50 628.30,554.50C628.88,556.50 629.43,558.57 630.00,561.00C630.57,563.43 631.42,567.75 631.70,569.10" fill="none" stroke="#e36f47" stroke-width="1"/>
</g>
<g clip-path="url(#c40)">
<use href="#ct" transform="matrix(0.12920 0 0 -0.13160 48.40 763.40)"/>
<g stroke="#000" stroke-opacity="0.3" stroke-width="3" stroke-linecap="round" fill="none">
<path d="M170.5,684.0h0M60.1,742.2h0M124.9,668.3h0M164.3,659.8h0M159.2,654.1h0M141.4,658.4h0M89.1,730.0h0M166.4,662.3h0M146.0,641.3h0M109.3,697.8h0M49.6,741.8h0M122.4,678.6h0M131.4,697.3h0M85.6,743.5h0M170.7,633.7h0M67.3,744.0h0M176.7,638.4h0M59.8,755.7h0M62.9,743.1h0M103.5,705.8h0M137.8,677.8h0M145.0,655.0h0M158.2,644.5h0M104.7,729.6h0M74.2,760.3h0M163.3,661.5h0M49.9,735.7h0M69.2,754.6h0M95.8,691.7h0M171.8,640.7h0M129.9,690.4h0M152.3,647.4h0M139.8,656.0h0M104.3,675.6h0M164.6,637.4h0M79.7,750.5h0M149.6,656.4h0M145.7,673.1h0M85.4,716.9h0M111.3,733.8h0M117.9,679.4h0M74.7,724.9h0M154.7,680.4h0M88.1,729.1h0M104.9,675.6h0M161.3,645.9h0M93.1,716.2h0M55.3,730.3h0M159.1,669.9h0M54.6,758.7h0M71.9,737.7h0M119.7,699.5h0M110.7,717.0h0M126.7,678.6h0M113.9,701.3h0M140.9,674.8h0M102.1,726.8h0M55.2,761.9h0M89.7,728.0h0M81.2,750.8h0M114.8,673.0h0M120.3,703.9h0M169.6,649.5h0M120.8,691.9h0M116.6,668.3h0M61.6,741.9h0M109.4,695.0h0M48.5,757.1h0M93.7,713.5h0M137.8,660.3h0M121.4,715.5h0M54.9,762.9h0M105.1,715.4h0M121.3,697.6h0M108.7,701.5h0M72.8,731.9h0M92.0,737.6h0M120.8,684.5h0M98.1,724.2h0M127.4,675.5h0M171.3,641.3h0M84.3,732.1h0M132.7,685.0h0M137.3,668.9h0M89.1,736.3h0M159.6,636.6h0M126.3,685.0h0M142.8,676.7h0M124.0,693.6h0M177.0,639.2h0M166.5,668.2h0M115.8,683.0h0M98.2,759.5h0M176.0,642.1h0M138.1,676.8h0M132.9,647.5h0M161.2,663.2h0M89.9,714.3h0M86.7,698.8h0M91.1,739.4h0M125.6,687.8h0M117.7,690.3h0M150.8,649.2h0"/>
<path d="M155.5,640.6h0M133.2,667.0h0M89.1,712.2h0M154.7,651.6h0M147.6,739.8h0M104.5,707.4h0M102.5,693.3h0M95.3,704.9h0M136.3,674.5h0M56.2,751.9h0M176.2,635.8h0M79.8,746.6h0M162.1,656.5h0M157.2,643.4h0M131.0,655.9h0M95.3,721.3h0M160.3,667.3h0M92.9,690.2h0M130.0,686.7h0M115.4,703.1h0M124.6,714.1h0M63.3,743.7h0M151.4,655.6h0M120.2,679.5h0M152.1,673.4h0M109.2,711.6h0M172.7,646.7h0M124.2,689.1h0M97.9,706.8h0M60.2,750.7h0M130.6,694.9h0M100.1,716.6h0M124.9,672.3h0M168.3,644.8h0M63.4,719.0h0M155.4,650.8h0M177.2,641.9h0M72.6,755.1h0M148.5,649.6h0M54.1,747.9h0M103.3,725.7h0M145.1,653.8h0M82.5,713.7h0M168.3,641.7h0M112.5,688.9h0M107.6,662.8h0M144.1,663.6h0M168.5,632.4h0M172.4,648.1h0M154.9,694.3h0M53.9,760.6h0M147.4,642.9h0M143.0,677.2h0M166.4,653.7h0M129.4,667.6h0M79.8,719.1h0M91.1,689.6h0M173.1,644.2h0M132.6,700.3h0M138.5,692.7h0M168.6,655.2h0M67.8,755.0h0M145.8,646.7h0M134.7,658.3h0M62.3,745.6h0M53.8,761.7h0M128.3,695.6h0M85.4,732.0h0M134.7,681.7h0M60.6,750.2h0M80.9,748.6h0M87.6,717.6h0M70.8,708.1h0M111.1,690.2h0M117.0,693.0h0M116.5,696.1h0M150.1,639.1h0M177.0,632.9h0M152.0,678.5h0M159.4,671.8h0M127.9,669.8h0M119.2,684.5h0M134.0,690.8h0M99.9,696.7h0M92.9,713.6h0M61.9,760.0h0M72.4,716.1h0M118.8,685.9h0M165.1,644.3h0M83.8,712.8h0M94.7,718.1h0M134.5,695.9h0M106.9,702.8h0M122.5,685.5h0M173.8,646.2h0M118.6,700.3h0M90.8,721.2h0M109.6,713.2h0M97.7,699.4h0M70.7,743.6h0M60.7,725.2h0M103.2,693.3h0M123.5,681.4h0"/>
<path d="M156.0,650.8h0M89.5,693.1h0M113.3,711.5h0M126.9,675.8h0M62.3,750.0h0M142.1,673.1h0M63.6,729.1h0M173.8,649.0h0M144.1,666.3h0M64.4,737.1h0M107.6,744.7h0M68.8,749.6h0M136.4,678.4h0M121.9,702.3h0M120.7,649.3h0M52.9,749.0h0M130.5,676.7h0M75.1,735.2h0M54.2,762.8h0M92.5,716.9h0M158.5,661.1h0M107.9,675.2h0M48.4,743.6h0M95.4,716.2h0M105.5,689.3h0M92.5,728.5h0M152.9,658.6h0M142.8,677.4h0M80.6,732.0h0M174.3,652.3h0M145.8,658.9h0M127.3,699.1h0M177.3,641.7h0M164.4,641.1h0M163.2,642.7h0M171.9,651.0h0M170.3,633.1h0M106.1,647.4h0M164.0,648.0h0M101.9,700.9h0M171.5,642.2h0M94.3,712.3h0M113.6,698.4h0M103.6,732.1h0M136.7,653.8h0M70.0,745.6h0M87.7,706.7h0M117.2,692.9h0M131.1,698.0h0M101.1,705.4h0M172.8,643.3h0M57.5,744.1h0M177.0,643.3h0M118.5,735.3h0M63.4,741.3h0M109.0,723.9h0M143.8,642.5h0M106.8,711.9h0M129.1,665.6h0M105.5,701.8h0M135.8,659.6h0M137.6,700.8h0M118.5,712.9h0M84.3,699.8h0M147.8,643.0h0M141.7,668.6h0M59.4,730.4h0M118.0,677.4h0M53.1,745.5h0M70.6,759.2h0M107.9,693.9h0M90.7,726.2h0M164.3,682.1h0M176.2,641.4h0M91.3,702.9h0M67.0,734.2h0M110.9,689.1h0M159.9,678.8h0M146.9,693.7h0M126.3,684.7h0M59.1,751.3h0M102.7,695.4h0M91.8,691.0h0M177.1,635.7h0M132.8,676.4h0M55.5,760.9h0M86.0,759.5h0M172.1,634.6h0M162.0,642.0h0M102.9,731.4h0M114.4,679.9h0M137.3,666.3h0M116.2,711.3h0M153.7,664.3h0M127.4,688.1h0M101.7,710.0h0M128.9,673.5h0M95.1,724.7h0M70.0,741.7h0M53.3,756.1h0M169.8,636.6h0M55.9,746.2h0M98.1,743.3h0"/>
<path d="M87.1,736.2h0M142.8,666.5h0M162.3,673.6h0M127.9,694.3h0M105.6,693.8h0M125.4,668.6h0M126.1,676.9h0M177.6,633.8h0M153.1,684.9h0M135.1,663.2h0M156.2,655.8h0M68.3,747.1h0M71.1,707.9h0M87.8,731.0h0M133.9,639.0h0M149.7,654.4h0M124.8,677.2h0M163.3,632.6h0M58.3,742.7h0M111.4,687.3h0M177.2,653.3h0M71.7,725.7h0M155.8,664.4h0M71.6,755.1h0M148.5,694.1h0M95.6,721.3h0M86.5,729.8h0M68.0,750.1h0M170.9,635.6h0M172.1,634.7h0M112.9,708.3h0M94.1,728.2h0M134.7,699.3h0M121.3,672.2h0M71.0,746.9h0M166.5,638.6h0M136.2,681.5h0M154.4,645.3h0M134.8,688.8h0M142.9,642.7h0M127.7,659.4h0M73.1,736.4h0M116.4,695.6h0M52.2,762.7h0M163.1,636.2h0M155.8,672.2h0M176.7,642.6h0M159.0,651.1h0M96.6,696.4h0M165.5,653.4h0M126.8,673.1h0M164.8,656.9h0M129.2,679.9h0M85.6,692.5h0M62.5,747.8h0M126.8,668.3h0M107.8,696.3h0M60.0,747.2h0M121.7,696.5h0M65.2,728.2h0M89.5,717.4h0M79.6,712.5h0M81.7,694.3h0M72.1,738.3h0M135.1,656.0h0M96.8,714.5h0M53.5,741.4h0M163.6,637.6h0M166.4,640.6h0M174.5,632.2h0M172.5,645.3h0M65.8,747.4h0M160.2,641.7h0M67.4,738.0h0M49.4,717.8h0M60.5,748.8h0M112.3,701.4h0M164.5,643.8h0M125.6,706.1h0M52.1,740.2h0M124.1,666.3h0M132.0,691.2h0M50.0,763.2h0M96.4,716.0h0M51.3,751.4h0M61.4,733.6h0M137.1,740.7h0M83.2,736.1h0M62.0,755.8h0M74.0,734.8h0M139.5,671.6h0M75.5,709.1h0M129.9,679.8h0M72.4,743.3h0M156.7,646.9h0M79.5,710.7h0M80.8,739.1h0M95.2,724.3h0M102.3,729.2h0M58.8,747.2h0M141.1,649.5h0M175.9,645.8h0"/>
<path d="M169.3,644.6h0M111.6,700.8h0M158.3,635.3h0M108.7,704.9h0M173.1,640.0h0M130.2,693.3h0M131.0,690.8h0M138.2,671.1h0M161.1,674.7h0M66.7,733.0h0M99.9,738.8h0M57.8,742.0h0M151.6,668.9h0M108.7,720.6h0M77.2,717.7h0M116.7,710.8h0M68.7,757.3h0M58.6,751.8h0M77.4,726.6h0M167.7,652.3h0M58.4,758.9h0M80.9,706.1h0M159.3,661.7h0M174.2,641.8h0M117.7,686.0h0M174.0,649.7h0M125.6,686.3h0M131.3,691.8h0M133.6,697.7h0M175.2,632.8h0M101.0,682.4h0M94.1,669.9h0M54.9,758.4h0M65.6,745.0h0M105.5,710.9h0M167.7,647.8h0M121.5,691.9h0M70.4,748.8h0M150.7,672.3h0M93.5,694.6h0M77.2,735.1h0M141.1,671.5h0M126.2,673.0h0M145.6,664.9h0M117.7,686.5h0M71.0,761.6h0M80.4,691.0h0M82.5,732.3h0M100.1,666.6h0M135.9,654.7h0M141.9,653.2h0M66.3,735.4h0M49.5,757.5h0M177.5,633.7h0M144.0,674.6h0M58.8,749.5h0M164.8,657.0h0M93.5,712.5h0M153.1,641.1h0M67.1,745.7h0M117.8,683.5h0M141.8,659.2h0M58.5,762.8h0M77.2,709.5h0M136.4,688.8h0M96.7,735.2h0M54.2,754.0h0M56.8,761.4h0M132.4,664.8h0M65.9,755.0h0M150.7,671.5h0M164.3,651.1h0M145.0,642.2h0M157.4,638.2h0M145.1,663.9h0M152.3,725.3h0M128.0,673.2h0M62.8,748.6h0M171.5,639.0h0M133.1,673.9h0M165.1,646.7h0M111.9,710.4h0M104.8,713.0h0M168.7,638.9h0M147.5,667.2h0M142.1,667.5h0M109.2,722.2h0M90.5,733.3h0M68.9,738.1h0M100.3,721.3h0M139.5,667.8h0M100.0,721.9h0M105.3,704.7h0M83.2,731.4h0M104.2,678.5h0M94.7,743.6h0M143.3,701.8h0M122.6,649.3h0M54.7,754.9h0M95.9,736.2h0M94.5,695.9h0M147.4,665.0h0"/>
<path d="M113.7,702.4h0M79.3,745.7h0M78.5,762.9h0M57.3,753.9h0M58.9,759.3h0M94.6,724.9h0M155.7,674.9h0M79.8,732.5h0M70.6,731.6h0M161.6,652.3h0M146.7,655.6h0M72.9,705.6h0M151.8,654.0h0M82.9,726.3h0M146.3,664.0h0M122.3,692.1h0M169.4,648.1h0M139.7,680.3h0M50.4,757.8h0M154.4,686.8h0M141.0,664.4h0M87.0,724.5h0M146.6,667.6h0M82.7,747.4h0M166.5,635.8h0M90.7,683.1h0M68.0,733.6h0M87.9,726.7h0M146.0,667.4h0M107.0,718.3h0M176.5,677.4h0M107.0,746.9h0M78.4,724.3h0M135.6,650.0h0M131.9,699.4h0M110.8,706.1h0M115.7,702.0h0M132.5,696.7h0M127.7,674.9h0M132.7,660.4h0M169.0,658.4h0M158.0,647.2h0M76.0,701.5h0M86.2,746.3h0M120.8,674.2h0M146.7,651.3h0M165.3,641.2h0M109.6,708.5h0M89.0,733.8h0M68.0,738.2h0M124.1,708.9h0M131.2,679.1h0M109.8,686.5h0M100.4,703.2h0M125.4,701.1h0M52.7,731.7h0M126.2,689.9h0M96.4,700.2h0M136.9,653.3h0M161.7,641.8h0M55.0,739.1h0M161.5,662.5h0M91.1,714.8h0M175.3,637.7h0M69.8,726.7h0M95.9,697.4h0M51.2,763.3h0M105.6,736.3h0M151.8,655.0h0M61.8,746.2h0M52.6,760.1h0M126.1,689.1h0M160.5,632.9h0M139.5,685.4h0M65.2,752.8h0M122.1,684.3h0M163.4,648.3h0M85.3,730.5h0M139.1,680.0h0M94.6,710.1h0M69.0,736.3h0M71.4,722.3h0M99.7,738.2h0M98.8,671.4h0M96.4,691.0h0M61.6,757.7h0M126.7,669.2h0M97.1,691.8h0M56.3,763.3h0M124.9,692.9h0M173.3,632.6h0M102.1,729.4h0M121.9,678.3h0M150.8,718.7h0M139.2,663.5h0M98.0,716.2h0M119.8,672.3h0M81.9,737.4h0M163.1,644.9h0M137.6,693.5h0M153.6,658.0h0M126.5,676.7h0"/>
<path d="M73.5,741.4h0M165.6,656.8h0M175.1,656.6h0M62.9,751.6h0M133.3,662.5h0M52.8,738.9h0M132.2,687.0h0M52.3,760.7h0M143.0,656.4h0M177.6,634.9h0M171.7,639.7h0M152.2,647.5h0M105.3,717.1h0M84.6,713.4h0M77.0,744.0h0M50.4,759.1h0M55.8,760.2h0M98.2,723.8h0M104.2,704.8h0M133.0,684.9h0M72.1,728.9h0M159.4,678.2h0M112.3,680.1h0M96.4,729.1h0M101.3,689.1h0M74.2,739.9h0M110.6,699.4h0M71.9,749.8h0M123.6,685.2h0M160.5,651.1h0M78.2,733.9h0M54.3,751.8h0M140.1,651.2h0M71.8,727.8h0M108.5,716.1h0M63.5,702.8h0M116.1,696.2h0M146.2,645.9h0M110.0,710.1h0M63.1,724.4h0M127.1,660.5h0M87.6,726.2h0M143.1,664.7h0M103.1,729.6h0M80.8,742.9h0M157.7,664.4h0M80.1,728.5h0M76.9,732.0h0M88.8,714.4h0M96.2,724.2h0M141.5,675.2h0M98.0,713.5h0M52.9,758.1h0M119.1,663.3h0M147.8,685.7h0M50.0,746.3h0M86.2,726.9h0M176.1,634.4h0M109.5,720.0h0M54.1,759.2h0M88.4,761.0h0M147.7,638.7h0M159.0,643.8h0M135.0,673.1h0M172.1,642.8h0M67.0,728.1h0M92.7,742.4h0M75.1,709.3h0M176.2,640.4h0M66.4,732.4h0M134.4,667.8h0M99.1,709.6h0M85.0,734.7h0M87.8,743.4h0M98.9,720.8h0M156.8,726.3h0M120.3,695.0h0M120.7,654.0h0M83.5,731.0h0M53.9,755.2h0M64.4,748.9h0M83.2,701.4h0M144.6,680.2h0M56.5,713.7h0M141.6,669.9h0M67.5,729.8h0M131.1,686.4h0M98.4,715.2h0M62.1,741.3h0M143.1,691.7h0M54.4,754.1h0M75.4,716.4h0M50.5,747.9h0M111.0,663.0h0M131.4,704.7h0M57.4,762.1h0M88.6,703.2h0M161.8,654.7h0M155.8,657.7h0M78.1,729.3h0M125.3,674.9h0M54.5,747.5h0"/>
<path d="M94.3,706.5h0M141.4,666.4h0M125.9,681.2h0M121.3,675.0h0M119.4,700.1h0M129.6,696.0h0M64.3,724.0h0M147.7,664.3h0M149.9,639.3h0M152.5,641.3h0M135.7,700.9h0M126.5,685.3h0M122.1,691.0h0M143.3,634.3h0M114.0,701.9h0M158.8,632.6h0M105.8,711.8h0M135.9,680.0h0M130.2,679.0h0M51.7,754.8h0M53.6,761.1h0M160.5,659.8h0M103.0,717.9h0M132.7,672.1h0M128.4,666.5h0M55.0,748.2h0M82.8,746.8h0M97.9,723.5h0M94.1,689.6h0M78.5,749.2h0M56.4,756.5h0M142.0,686.6h0M134.8,642.7h0M150.5,668.0h0M94.6,692.7h0M99.9,711.5h0M104.2,696.8h0M153.2,648.0h0M147.1,660.3h0M159.2,644.1h0M101.8,715.8h0M159.5,633.5h0M138.2,685.6h0M69.7,738.5h0M169.5,649.3h0M164.9,656.3h0M53.8,761.4h0M77.2,732.2h0M155.2,686.3h0M120.6,715.9h0M132.5,696.8h0M99.7,739.6h0M150.1,664.3h0M73.6,716.2h0M92.4,728.9h0M94.9,741.4h0M160.5,646.6h0M108.3,694.2h0M49.3,745.2h0M64.8,756.8h0M153.9,670.1h0M68.9,737.7h0M166.9,646.3h0M55.8,757.8h0M109.3,701.2h0M84.6,737.3h0M62.4,742.6h0M168.3,649.0h0M49.0,751.5h0M138.8,676.0h0M120.1,677.4h0M94.3,698.8h0M90.4,694.0h0M52.6,720.2h0M64.1,722.7h0M111.0,702.9h0M129.8,666.0h0M74.9,741.6h0M106.4,698.9h0M127.2,689.6h0M133.5,672.5h0M50.4,751.4h0M162.7,658.3h0M153.1,666.9h0M136.0,651.2h0M149.7,662.6h0M124.0,672.8h0M125.8,679.0h0M103.5,742.2h0M55.4,756.2h0M58.8,738.1h0M156.6,658.7h0M91.0,712.8h0M108.6,672.0h0M94.6,724.7h0M59.1,753.3h0M105.0,688.2h0M142.1,653.8h0M97.2,707.4h0M64.0,730.4h0M85.1,736.4h0M172.4,662.4h0"/>
<path d="M72.9,725.9h0M118.9,691.7h0M136.6,668.9h0M71.8,748.7h0M83.8,737.0h0M170.4,634.8h0M79.6,749.1h0M123.2,697.6h0M163.3,680.3h0M64.9,731.7h0M57.2,735.3h0M52.4,735.5h0M66.5,732.6h0M56.0,755.7h0M72.7,734.6h0M69.6,733.7h0M50.0,732.4h0M155.3,644.7h0M155.1,678.1h0M76.6,645.9h0M145.6,674.1h0M160.2,655.7h0M71.4,763.2h0M123.0,666.4h0M175.4,634.8h0M106.1,691.0h0M160.2,658.0h0M162.0,647.5h0M65.3,751.5h0M128.5,696.3h0M79.3,740.8h0M172.8,638.4h0M114.7,702.3h0M158.4,683.8h0M115.3,685.6h0M109.7,695.6h0M102.4,707.3h0M107.1,705.9h0M56.9,746.9h0M124.1,669.1h0M77.6,763.3h0M97.3,735.8h0M165.2,648.2h0M131.4,690.3h0M146.3,662.6h0M110.7,720.8h0M99.5,726.0h0M75.6,726.5h0M172.1,651.8h0M101.9,697.0h0M58.4,742.3h0M79.3,720.1h0M49.9,757.0h0M150.2,647.9h0M79.0,689.3h0M148.8,650.3h0M98.8,750.7h0M91.1,731.8h0M116.3,711.4h0M98.9,713.6h0M135.0,701.4h0M94.8,723.7h0M96.2,699.8h0M164.7,634.7h0M112.5,702.7h0M126.2,695.7h0M137.6,694.9h0M172.1,645.8h0M124.7,676.9h0M171.5,635.5h0M84.5,738.9h0M107.6,648.0h0M137.0,685.0h0M69.3,757.8h0M75.9,746.0h0M148.5,644.7h0M104.0,690.9h0M114.0,688.2h0M162.7,673.2h0M140.8,652.0h0M55.7,757.2h0M87.5,715.0h0M83.0,720.3h0M85.9,745.8h0M77.1,736.4h0M71.4,739.8h0M59.8,757.9h0M98.3,702.2h0M175.0,650.8h0M170.5,669.5h0M167.7,665.1h0M110.6,680.2h0M96.3,682.1h0M97.2,735.5h0M97.0,697.4h0M141.2,674.1h0M110.4,707.9h0M99.3,699.8h0M176.6,650.7h0M109.9,703.2h0M127.8,694.4h0M143.3,647.4h0"/>
<path d="M138.3,643.3h0M149.1,648.3h0M91.0,729.3h0M129.7,696.0h0M56.6,754.9h0M89.7,723.7h0M86.2,735.2h0M104.4,739.8h0M61.1,763.2h0M164.0,637.4h0M146.1,662.5h0M79.4,731.2h0M159.8,650.0h0M129.6,687.4h0M134.4,691.7h0M92.9,708.3h0M110.6,692.9h0M107.7,688.6h0M59.3,737.5h0M154.0,656.9h0M162.7,647.0h0M77.7,749.0h0M121.8,679.3h0M58.8,756.8h0M108.1,700.7h0M64.6,759.6h0M55.8,757.6h0M66.1,742.3h0M67.9,711.2h0M48.6,750.2h0M168.3,645.5h0M136.7,685.8h0M90.8,731.1h0M95.5,742.6h0M133.1,685.3h0M77.7,760.6h0M61.0,731.3h0M158.1,650.8h0M161.4,647.8h0M99.5,698.2h0M74.5,749.4h0M157.1,640.2h0M77.7,717.3h0M177.4,646.0h0M155.8,665.0h0M64.4,715.0h0M144.5,664.4h0M101.6,647.8h0M151.1,727.8h0M58.5,739.3h0M137.6,705.6h0M143.8,644.0h0M140.4,635.2h0M147.4,722.1h0M94.2,714.8h0M167.2,641.5h0M72.8,739.1h0M102.5,724.8h0M74.7,716.7h0M107.9,697.7h0M86.7,716.1h0M88.6,715.8h0M85.8,720.5h0M129.6,711.9h0M102.6,703.9h0M113.3,704.2h0M144.9,649.7h0M57.8,750.2h0M147.2,661.9h0M55.2,756.4h0M97.1,737.9h0M170.1,643.3h0M106.3,712.5h0M109.1,716.2h0M125.8,680.4h0M51.8,761.4h0M94.3,743.0h0M152.3,689.1h0M107.5,711.9h0M132.1,685.3h0M95.4,716.0h0M54.4,747.6h0M62.6,763.0h0M58.8,720.2h0M80.8,732.2h0M81.3,732.6h0M134.8,686.6h0M164.5,642.7h0M171.0,648.4h0M142.5,667.5h0M102.7,739.7h0M145.8,672.5h0M120.7,720.1h0M69.7,755.4h0M168.5,652.3h0M154.7,651.1h0M94.6,709.3h0M121.5,657.7h0M140.3,683.7h0M160.5,659.1h0M174.7,641.8h0M95.8,725.9h0"/>
<path d="M172.1,634.8h0M175.2,643.3h0M148.5,678.7h0M115.8,709.4h0M135.5,679.9h0M147.7,652.0h0M127.7,693.8h0M81.5,717.9h0M130.8,693.1h0M52.2,762.6h0M51.3,725.9h0M164.9,644.3h0M100.6,706.2h0M49.2,758.5h0M174.8,642.5h0M135.8,661.2h0M109.8,704.4h0M84.1,720.6h0M113.4,670.5h0M89.4,676.9h0M157.6,635.7h0M59.1,733.0h0M150.2,654.6h0M163.3,656.2h0M58.9,763.1h0M163.5,635.7h0M92.7,697.0h0M151.1,643.1h0M53.2,760.9h0M140.8,653.1h0M140.9,657.8h0M94.6,711.3h0M129.4,686.8h0M79.5,742.6h0M73.1,736.7h0M118.0,720.1h0M134.5,694.9h0M67.7,756.8h0M167.1,636.3h0M78.2,728.0h0M49.6,746.9h0M67.6,748.7h0M62.0,747.3h0M59.8,720.6h0M76.9,734.5h0M159.2,656.8h0M160.7,651.1h0M80.9,699.1h0M70.1,712.8h0M90.3,720.5h0M94.5,734.4h0M74.5,744.2h0M159.4,644.6h0M122.8,685.1h0M58.6,746.7h0M166.4,649.7h0M128.5,684.0h0M55.2,758.8h0M176.5,632.7h0M144.9,659.4h0M91.5,732.7h0M119.0,697.9h0M97.8,720.2h0M82.8,749.2h0M128.0,681.9h0M161.8,643.4h0M119.4,708.5h0M176.4,638.4h0M163.7,652.6h0M49.9,739.7h0M56.4,758.7h0M158.3,649.1h0M61.2,757.1h0M151.2,645.6h0M146.1,699.6h0M124.8,686.9h0M90.8,723.4h0M139.1,697.1h0M72.4,749.2h0M122.0,693.4h0M84.7,723.4h0M156.8,650.0h0M144.0,650.1h0M133.6,683.3h0M98.5,730.2h0M128.1,675.7h0M129.3,669.1h0M55.7,726.5h0M95.0,697.1h0M121.8,714.4h0M150.7,660.5h0M75.0,711.9h0M138.1,677.4h0M117.6,673.5h0M52.7,731.1h0M156.4,638.4h0M120.1,686.9h0M128.7,661.0h0M86.1,710.1h0M68.8,760.0h0M83.5,709.8h0M128.8,683.2h0"/>
<path d="M138.3,688.4h0M102.8,702.3h0M96.0,721.2h0M89.4,674.1h0M99.0,714.2h0M146.5,645.2h0M101.8,734.8h0M89.4,743.1h0M104.6,704.5h0M65.2,744.4h0M63.8,750.7h0M88.7,737.3h0M57.5,761.8h0M146.2,660.8h0M146.2,666.2h0M139.1,715.4h0M85.2,745.5h0M150.7,656.9h0M155.7,653.8h0M117.5,680.2h0M165.2,635.0h0M101.4,701.3h0M109.8,658.3h0M86.9,733.5h0M79.6,737.9h0M61.9,737.8h0M97.1,708.4h0M145.9,640.6h0M92.8,749.8h0M150.8,679.8h0M69.1,733.4h0M102.3,688.8h0M87.5,717.6h0M87.7,744.4h0M55.4,738.5h0M116.5,726.0h0M117.9,709.9h0M84.3,712.5h0M136.7,686.3h0M143.3,679.0h0M144.6,657.0h0M90.2,736.2h0M60.4,751.6h0M173.5,645.4h0M157.3,692.1h0M85.0,695.0h0M115.7,641.2h0M80.1,761.9h0M57.5,692.8h0M141.4,681.1h0M56.4,738.9h0M59.6,760.6h0M84.5,726.8h0M134.4,665.3h0M147.0,692.4h0M57.3,749.4h0M127.6,695.9h0M123.5,632.4h0M124.0,682.3h0M98.5,687.3h0M78.4,728.4h0M103.9,695.1h0M167.7,633.6h0M91.5,710.6h0M105.0,723.0h0M122.4,694.6h0M131.5,646.3h0M98.4,715.3h0M75.0,735.7h0M87.3,700.4h0M159.5,654.0h0M91.4,742.2h0M102.5,703.8h0M160.9,655.5h0M74.2,711.8h0M72.3,730.0h0M99.9,688.9h0M142.6,695.5h0M63.0,755.9h0M128.6,676.8h0M111.7,682.6h0M95.3,746.7h0M152.0,653.0h0M119.8,677.8h0M99.0,715.0h0M73.0,744.1h0M143.3,662.9h0M135.6,665.0h0M71.9,714.3h0M101.8,702.4h0M155.4,641.8h0M60.1,746.8h0M150.6,642.5h0M72.8,724.2h0M75.5,736.4h0M105.3,717.3h0M92.0,735.8h0M101.3,696.2h0M172.9,645.0h0M75.1,747.8h0M154.3,647.2h0M167.5,645.8h0"/>
</g>
</g>
<g clip-path="url(#c41)">
<use href="#ct" transform="matrix(0.12920 0 0 -0.13160 200.85 763.40)"/>
<g stroke="#000" stroke-opacity="0.3" stroke-width="3" stroke-linecap="round" fill="none">
<path d="M219.9,749.8h0M317.6,652.0h0M236.9,728.0h0M214.2,726.6h0M211.2,751.6h0M229.9,756.4h0M205.0,729.8h0M303.9,679.9h0M305.9,662.6h0M283.8,678.3h0M247.0,690.2h0M257.3,706.5h0M299.9,654.7h0M266.3,679.9h0M277.4,690.3h0M261.3,701.9h0M307.7,675.2h0M313.4,645.9h0M251.8,728.9h0M267.2,693.3h0M317.4,666.4h0M205.1,763.3h0M266.5,710.1h0M233.4,729.3h0M218.0,736.3h0M326.3,641.3h0M283.8,679.0h0M306.5,655.8h0M296.8,653.8h0M328.6,639.3h0M211.3,747.4h0M231.5,720.5h0M313.7,651.1h0M323.4,684.0h0M253.2,733.8h0M218.5,730.4h0M234.1,754.9h0M203.6,746.9h0M314.4,647.0h0M243.5,742.9h0M215.8,702.8h0M232.8,761.1h0M248.1,703.9h0M217.7,754.6h0M321.4,641.8h0M269.9,655.3h0M304.0,643.0h0M312.8,650.8h0M238.6,733.0h0M301.6,662.9h0M323.7,661.5h0M249.8,707.3h0M232.6,714.8h0M244.9,723.7h0M213.7,752.1h0M213.5,737.5h0M242.0,712.2h0M258.9,691.0h0M256.6,726.8h0M272.4,733.8h0M271.8,715.3h0M240.1,737.9h0M322.8,634.8h0M269.0,677.4h0M241.1,731.4h0M273.3,688.8h0M223.4,723.4h0M215.3,746.9h0M276.7,686.6h0M261.3,691.9h0M314.7,658.0h0M289.7,665.0h0M315.2,677.2h0M229.5,759.2h0M317.3,641.5h0M257.0,704.9h0M203.7,753.3h0M230.0,743.6h0M250.8,737.0h0M230.3,720.1h0M269.4,691.7h0M252.0,707.9h0M313.9,635.0h0M261.5,693.8h0M276.0,668.3h0M253.1,713.5h0M258.7,691.0h0M292.7,666.0h0M280.2,665.0h0M231.2,749.6h0M327.5,644.8h0M293.1,654.4h0M277.6,673.0h0M329.0,640.6h0M236.3,735.5h0M296.2,703.7h0M232.4,682.5h0M329.3,634.9h0M225.0,710.7h0M255.7,680.2h0M296.4,685.0h0M294.4,643.3h0"/>
<path d="M249.8,706.1h0M237.7,756.2h0M209.7,761.4h0M236.0,728.4h0M330.0,648.4h0M260.8,691.8h0M305.6,635.3h0M313.1,644.5h0M269.3,700.8h0M295.2,674.6h0M326.5,635.7h0M247.0,700.8h0M328.4,635.5h0M316.1,651.8h0M309.9,673.4h0M288.6,679.0h0M327.9,633.7h0M309.7,675.7h0M272.1,715.2h0M248.3,700.4h0M286.0,691.7h0M203.5,759.3h0M263.9,693.3h0M202.4,758.4h0M297.4,668.2h0M309.7,649.3h0M318.5,643.3h0M297.1,663.9h0M235.5,732.1h0M314.4,645.8h0M282.4,700.7h0M310.4,662.3h0M255.7,717.0h0M279.5,708.5h0M328.1,641.1h0M260.3,692.9h0M247.0,712.5h0M313.8,635.6h0M248.9,709.3h0M291.6,684.3h0M211.8,751.3h0M211.6,720.8h0M207.1,760.2h0M287.6,649.5h0M291.2,664.3h0M218.8,733.6h0M243.6,697.4h0M321.6,641.8h0M235.0,743.1h0M267.8,701.3h0M328.6,642.7h0M293.5,684.0h0M329.4,632.9h0M267.7,690.8h0M272.4,684.5h0M230.1,729.0h0M329.7,645.5h0M323.3,633.5h0M241.7,741.4h0M300.9,702.8h0M303.6,655.0h0M216.8,729.1h0M204.1,755.7h0M295.1,673.9h0M262.0,721.2h0M277.0,669.8h0M212.8,748.2h0M242.5,730.0h0M234.9,747.2h0M316.8,692.5h0M231.3,716.9h0M315.4,661.9h0M210.9,739.1h0M320.3,637.4h0M251.5,708.5h0M221.5,698.5h0M220.0,726.3h0M222.6,731.6h0M203.3,762.7h0M301.4,653.6h0M313.0,635.7h0M201.4,733.8h0M229.3,755.0h0M281.2,685.3h0M270.8,751.0h0M263.8,695.4h0M287.6,676.0h0M315.5,672.3h0M230.1,686.3h0M313.9,646.0h0M311.2,691.5h0M275.5,693.6h0M201.3,736.4h0M236.4,733.6h0M301.4,651.1h0M227.1,738.1h0M242.4,717.7h0M225.9,732.4h0M238.0,711.3h0M232.4,739.1h0M308.2,644.1h0M311.9,640.6h0"/>
<path d="M288.8,666.3h0M312.9,654.1h0M271.5,679.4h0M291.4,667.6h0M228.6,716.2h0M305.7,668.9h0M317.2,649.5h0M235.3,724.8h0M313.8,657.7h0M221.6,713.4h0M233.3,737.9h0M312.8,651.2h0M212.0,756.8h0M235.7,732.1h0M261.9,700.1h0M311.8,660.3h0M238.7,729.3h0M262.5,710.4h0M241.4,678.4h0M308.7,647.8h0M258.9,696.0h0M291.0,684.9h0M297.5,666.3h0M301.5,658.4h0M236.3,696.7h0M234.2,683.5h0M282.7,678.6h0M213.1,748.6h0M262.7,702.0h0M307.7,638.4h0M207.8,747.8h0M228.2,738.2h0M264.8,701.3h0M314.4,666.9h0M227.3,728.5h0M242.1,737.3h0M257.2,709.4h0M315.8,667.8h0M203.7,755.2h0M282.3,685.7h0M249.6,702.3h0M239.4,726.0h0M318.1,652.3h0M266.3,689.1h0M309.7,648.1h0M278.6,715.0h0M248.0,716.9h0M267.7,746.9h0M310.5,678.7h0M213.6,738.9h0M233.5,743.3h0M274.6,641.4h0M232.3,724.3h0M258.9,701.1h0M284.6,641.8h0M259.3,689.6h0M291.1,678.4h0M224.2,763.0h0M243.8,708.3h0M201.4,732.4h0M255.1,702.7h0M246.6,708.9h0M259.8,672.8h0M311.9,651.6h0M298.4,678.6h0M317.4,640.4h0M279.9,680.0h0M254.0,730.5h0M243.4,736.4h0M277.7,693.9h0M286.6,653.2h0M250.6,717.3h0M226.3,731.1h0M213.9,760.3h0M214.5,753.3h0M208.9,719.7h0M284.4,691.7h0M221.0,746.7h0M289.9,653.8h0M291.2,658.3h0M253.7,713.5h0M250.7,701.4h0M276.0,686.6h0M250.0,718.3h0M236.3,732.2h0M250.2,711.8h0M300.8,651.2h0M254.0,665.8h0M271.4,713.6h0M305.7,671.5h0M288.1,659.6h0M296.9,662.6h0M229.7,729.0h0M317.5,642.7h0M312.1,659.2h0M243.0,693.1h0M254.7,729.1h0M289.4,688.4h0M291.1,691.0h0M253.2,693.1h0M218.0,736.1h0M318.5,655.6h0"/>
<path d="M267.5,724.5h0M294.5,664.0h0M316.7,637.6h0M314.1,636.2h0M222.9,751.5h0M283.2,683.7h0M277.6,676.9h0M292.5,686.3h0M268.0,680.2h0M294.2,672.5h0M205.6,743.6h0M313.9,646.3h0M232.6,717.6h0M207.3,759.6h0M287.6,687.4h0M282.2,656.0h0M269.6,696.8h0M227.5,761.4h0M252.8,719.1h0M239.3,713.2h0M235.4,716.2h0M294.9,683.5h0M253.5,691.0h0M204.6,717.8h0M323.1,656.8h0M242.3,671.8h0M228.9,735.6h0M222.3,738.9h0M249.5,744.0h0M299.2,680.0h0M306.2,664.4h0M214.2,730.4h0M325.3,649.0h0M207.6,735.7h0M273.7,746.3h0M327.3,639.0h0M294.7,685.3h0M224.9,750.2h0M253.3,704.4h0M217.8,745.8h0M245.7,714.8h0M285.0,691.9h0M204.9,762.1h0M318.3,643.8h0M249.3,705.8h0M276.4,689.1h0M284.0,675.0h0M224.8,760.3h0M274.0,731.9h0M233.9,731.0h0M329.5,645.4h0M228.6,738.8h0M273.9,663.6h0M321.4,649.1h0M302.1,632.0h0M304.2,662.4h0M240.9,754.1h0M310.7,651.1h0M230.0,718.1h0M315.2,638.6h0M287.2,658.6h0M320.3,651.1h0M328.1,662.5h0M278.5,686.8h0M322.0,647.4h0M294.7,681.1h0M297.8,674.7h0M295.7,676.8h0M304.6,667.5h0M202.5,761.6h0M317.2,644.6h0M212.9,744.4h0M266.4,685.3h0M311.9,655.5h0M239.1,738.5h0M323.4,666.2h0M239.0,726.7h0M265.8,696.2h0M238.6,722.7h0M267.9,688.5h0M291.0,672.2h0M269.9,697.1h0M228.7,746.6h0M290.4,654.0h0M237.6,709.6h0M251.8,729.6h0M266.6,695.0h0M204.2,748.7h0M201.5,738.9h0M303.0,650.0h0M290.9,649.7h0M260.5,688.9h0M251.0,717.9h0M311.6,645.2h0M250.9,701.2h0M207.1,741.8h0M241.2,728.0h0M327.8,638.4h0M257.5,675.6h0M217.9,757.3h0M295.6,666.3h0M266.2,662.4h0"/>
<path d="M209.0,758.1h0M233.8,758.7h0M241.4,716.4h0M205.5,757.1h0M270.1,694.9h0M251.8,696.2h0M232.2,726.2h0M273.4,682.6h0M291.2,678.5h0M242.7,757.2h0M322.1,672.2h0M316.0,642.9h0M204.6,720.2h0M289.6,637.1h0M272.7,725.3h0M203.8,749.5h0M265.4,715.5h0M244.5,722.2h0M329.8,634.4h0M282.9,695.6h0M226.1,746.0h0M206.9,757.2h0M280.2,635.2h0M259.1,708.3h0M212.8,736.2h0M281.7,665.6h0M253.1,716.1h0M235.8,747.1h0M217.7,707.5h0M252.8,715.0h0M260.4,683.8h0M265.2,697.6h0M263.3,685.1h0M225.7,735.2h0M229.9,744.0h0M295.4,664.9h0M247.5,723.4h0M229.4,744.1h0M232.8,711.4h0M201.6,762.6h0M298.8,658.3h0M266.4,681.5h0M326.4,643.3h0M305.3,669.2h0M201.6,763.1h0M273.7,698.8h0M290.3,694.4h0M308.1,656.9h0M253.7,697.4h0M246.7,689.6h0M256.9,723.0h0M246.8,717.4h0M302.9,683.3h0M208.0,760.6h0M230.5,738.6h0M329.9,634.7h0M206.1,757.9h0M236.1,713.6h0M285.6,646.7h0M269.4,688.2h0M291.7,659.4h0M205.9,745.2h0M280.9,688.8h0M328.2,640.7h0M284.7,695.5h0M224.3,732.2h0M323.9,632.6h0M328.6,641.8h0M230.8,741.3h0M260.0,703.2h0M250.6,728.5h0M217.9,737.8h0M203.9,747.9h0M223.0,746.2h0M231.0,712.8h0M255.8,744.7h0M219.4,755.7h0M306.4,673.1h0M249.6,720.8h0M283.3,681.9h0M286.7,667.0h0M317.7,650.0h0M232.6,743.5h0M249.2,724.2h0M269.3,704.2h0M283.7,679.9h0M321.6,642.1h0M308.9,685.0h0M300.6,686.9h0M312.0,647.5h0M319.3,673.6h0M269.8,677.4h0M230.9,744.4h0M217.4,733.3h0M223.0,732.6h0M276.1,711.5h0M329.5,645.8h0M268.3,673.1h0M213.1,751.4h0M326.2,637.7h0M223.0,720.5h0"/>
<path d="M236.5,692.5h0M210.3,735.5h0M210.3,752.8h0M210.6,749.2h0M276.1,696.3h0M215.8,747.3h0M262.8,676.7h0M321.5,673.7h0M208.9,739.7h0M297.3,653.3h0M229.3,720.6h0M206.0,750.2h0M268.3,704.7h0M225.3,750.8h0M236.9,743.4h0M258.0,706.8h0M227.4,742.6h0M326.3,634.8h0M269.7,724.2h0M326.5,652.3h0M306.1,677.8h0M267.0,696.4h0M255.3,734.8h0M250.7,704.8h0M214.4,741.9h0M207.7,742.3h0M240.6,730.0h0M244.9,713.7h0M267.6,697.7h0M237.5,739.1h0M235.1,732.0h0M267.7,678.5h0M329.4,656.4h0M261.9,696.5h0M283.8,686.9h0M278.7,726.8h0M206.8,741.4h0M280.0,701.4h0M241.6,749.8h0M300.0,655.7h0M237.6,709.8h0M308.6,646.6h0M245.6,715.8h0M248.7,739.4h0M327.9,639.2h0M299.0,653.8h0M276.2,688.6h0M230.7,736.7h0M288.3,743.2h0M244.7,715.4h0M286.9,663.6h0M306.3,681.7h0M326.8,657.0h0M250.7,712.8h0M216.6,746.8h0M228.6,748.9h0M213.3,760.9h0M230.5,690.0h0M301.8,648.3h0M241.8,739.9h0M323.1,649.7h0M212.4,741.3h0M263.2,697.0h0M205.1,749.4h0M264.6,681.2h0M304.2,641.2h0M237.0,747.4h0M253.7,700.2h0M291.5,673.1h0M272.4,693.5h0M242.1,717.9h0M205.5,747.6h0M270.1,695.9h0M245.2,742.4h0M242.1,721.9h0M279.7,642.3h0M268.5,663.2h0M256.0,712.5h0M252.4,720.0h0M285.4,660.5h0M220.6,750.1h0M306.2,667.4h0M299.0,645.6h0M317.2,635.7h0M318.9,658.9h0M221.8,748.6h0M326.2,633.7h0M271.4,694.9h0M247.0,707.4h0M270.7,686.4h0M238.4,745.7h0M208.8,754.0h0M203.6,756.8h0M216.0,751.4h0M289.9,680.4h0M248.2,724.5h0M326.7,648.0h0M245.5,732.5h0M264.7,703.8h0M314.6,638.9h0M254.9,753.5h0"/>
<path d="M294.5,684.9h0M268.7,705.9h0M247.3,731.1h0M268.7,664.7h0M232.4,749.0h0M276.4,678.8h0M302.1,652.3h0M271.8,700.3h0M237.7,699.4h0M296.6,673.2h0M241.7,711.9h0M304.9,656.8h0M202.9,760.9h0M302.0,633.6h0M214.9,742.3h0M261.7,720.6h0M321.3,655.2h0M318.2,649.6h0M304.6,664.3h0M323.5,632.2h0M201.1,756.1h0M287.9,654.7h0M320.7,642.0h0M233.1,731.0h0M323.2,635.8h0M315.8,642.8h0M286.9,690.3h0M245.4,715.8h0M232.7,721.2h0M298.2,663.2h0M210.3,755.9h0M300.9,686.8h0M309.4,646.9h0M278.6,679.0h0M290.3,688.8h0M261.0,685.8h0M256.5,711.8h0M328.8,646.7h0M253.0,673.7h0M252.4,716.0h0M253.7,715.9h0M319.3,649.7h0M307.1,656.5h0M242.0,732.7h0M251.7,696.3h0M290.6,679.8h0M218.5,762.8h0M222.5,733.5h0M274.6,703.2h0M236.0,736.2h0M279.8,677.8h0M296.7,657.7h0M256.9,725.7h0M297.2,650.3h0M323.5,658.0h0M258.4,702.4h0M289.4,664.3h0M228.6,700.3h0M232.2,739.3h0M289.6,698.0h0M274.9,672.3h0M286.8,723.4h0M294.2,697.6h0M278.9,639.5h0M321.7,652.6h0M211.6,755.4h0M248.0,694.6h0M208.0,757.5h0M243.0,728.1h0M202.8,758.9h0M223.2,727.8h0M206.3,758.7h0M302.1,677.2h0M264.7,699.4h0M264.1,674.8h0M308.5,644.9h0M211.6,756.8h0M282.9,664.4h0M262.4,716.0h0M278.0,666.5h0M310.8,658.7h0M294.3,694.3h0M207.4,745.0h0M251.7,710.0h0M253.7,714.3h0M328.3,632.9h0M239.2,736.4h0M289.0,653.3h0M317.5,645.3h0M288.7,711.2h0M241.9,735.1h0M295.6,670.1h0M316.0,644.7h0M217.0,738.3h0M208.7,751.8h0M294.0,644.0h0M293.0,674.9h0M284.7,679.8h0M223.1,738.5h0M310.0,664.4h0M248.7,729.1h0"/>
<path d="M274.5,687.0h0M246.1,711.5h0M273.0,700.9h0M246.4,701.8h0M294.6,650.8h0M212.5,760.6h0M318.5,638.4h0M261.4,689.1h0M223.9,750.7h0M281.7,668.3h0M262.8,689.3h0M210.2,757.6h0M212.4,749.2h0M268.0,649.3h0M312.3,646.2h0M329.2,653.8h0M321.4,640.0h0M216.8,734.5h0M214.5,747.9h0M303.4,642.5h0M295.8,685.9h0M220.2,702.8h0M230.0,734.6h0M245.9,711.3h0M285.9,636.1h0M209.8,760.7h0M253.2,720.2h0M230.5,757.7h0M293.8,697.3h0M271.2,696.8h0M233.8,732.0h0M271.5,704.5h0M260.0,714.4h0M315.6,661.2h0M329.6,638.2h0M272.4,669.3h0M278.4,676.4h0M267.3,676.7h0M221.0,735.3h0M298.2,666.5h0M241.7,702.2h0M254.8,696.1h0M258.1,704.9h0M202.9,758.8h0M279.6,698.8h0M227.6,731.2h0M263.8,697.8h0M253.2,728.2h0M319.0,636.3h0M217.1,763.2h0M221.1,733.0h0M263.9,695.9h0M260.1,645.9h0M277.2,691.7h0M283.3,663.3h0M273.9,694.1h0M226.4,647.8h0M289.1,674.9h0M209.5,694.7h0M264.4,688.2h0M262.2,693.3h0M201.6,760.6h0M219.7,738.1h0M313.2,649.0h0M306.7,656.6h0M250.9,714.4h0M233.6,734.2h0M255.3,695.1h0M229.7,746.3h0M274.1,699.4h0M286.8,692.1h0M288.5,694.9h0M248.5,726.8h0M286.4,648.2h0M276.9,683.2h0M283.3,692.9h0M271.6,671.6h0M202.2,761.4h0M260.4,690.9h0M289.1,669.9h0M205.9,739.6h0M231.9,737.7h0M226.0,724.9h0M241.1,737.6h0M232.0,742.2h0M259.6,695.6h0M305.3,652.0h0M274.5,691.2h0M313.2,647.4h0M282.3,680.3h0M226.9,742.6h0M328.9,636.6h0M282.1,679.1h0M306.7,632.6h0M297.9,664.4h0M262.4,682.3h0M246.6,707.4h0M236.0,729.6h0M227.7,743.1h0M235.4,724.7h0M255.5,697.7h0"/>
<path d="M269.1,674.9h0M322.9,644.3h0M270.2,722.8h0M208.6,757.8h0M256.3,697.1h0M201.7,751.5h0M282.3,668.9h0M233.2,733.9h0M301.5,647.2h0M311.8,671.8h0M263.4,677.4h0M312.3,656.9h0M223.4,737.7h0M282.6,650.1h0M228.8,731.9h0M251.5,735.2h0M314.2,664.8h0M293.1,684.7h0M295.3,665.3h0M241.7,731.4h0M231.6,750.5h0M210.2,763.2h0M252.0,717.1h0M258.6,729.4h0M239.0,720.1h0M262.9,673.5h0M323.3,634.8h0M277.4,651.2h0M301.0,669.5h0M257.7,668.6h0M319.6,667.3h0M256.5,699.3h0M313.4,648.1h0M324.2,640.6h0M267.8,696.0h0M242.4,745.6h0M325.5,634.7h0M222.2,724.4h0M275.2,684.5h0M259.7,702.3h0M293.9,689.1h0M216.3,761.4h0M282.5,675.8h0M215.7,741.4h0M272.1,686.3h0M207.4,757.8h0M301.5,674.5h0M277.3,680.4h0M322.0,655.6h0M233.4,735.2h0M261.7,709.9h0M231.8,728.2h0M327.9,645.0h0M266.1,684.8h0M321.6,668.6h0M260.6,689.6h0M222.0,731.7h0M253.4,702.3h0M280.8,674.1h0M273.8,697.9h0M230.6,757.8h0M239.3,726.5h0M277.8,681.4h0M257.7,699.1h0M323.7,641.8h0M224.8,709.5h0M253.8,717.6h0M307.2,644.7h0M224.8,724.2h0M251.6,698.2h0M253.6,724.3h0M227.6,737.4h0M285.9,674.2h0M223.0,740.2h0M236.1,761.0h0M225.7,750.7h0M248.8,745.5h0M212.4,754.8h0M288.5,667.8h0M220.0,757.0h0M234.5,724.9h0M296.6,668.0h0M250.2,747.3h0M208.8,731.3h0M213.3,745.6h0M226.2,736.3h0M235.8,711.9h0M296.3,670.5h0M299.2,645.3h0M299.9,656.9h0M315.7,650.8h0M232.8,739.8h0M228.7,708.1h0M285.8,690.8h0M266.9,685.5h0M313.7,655.9h0M242.1,712.3h0M316.7,635.8h0M295.8,686.7h0M222.9,746.3h0M228.3,732.3h0"/>
<path d="M273.2,694.6h0M216.4,746.9h0M263.0,695.6h0M238.2,716.2h0M329.6,637.4h0M312.6,659.8h0M248.7,734.8h0M235.4,751.9h0M289.7,680.2h0M285.4,678.2h0M254.1,710.1h0M323.8,633.8h0M238.6,721.3h0M250.5,716.1h0M316.8,648.0h0M293.2,654.6h0M251.7,714.1h0M289.0,656.0h0M324.7,641.7h0M279.4,674.1h0M267.0,676.7h0M219.8,735.8h0M327.5,633.1h0M301.4,669.1h0M319.7,671.1h0M316.1,641.1h0M285.7,667.2h0M245.5,699.8h0M239.7,738.0h0M310.6,656.3h0M245.4,728.9h0M265.2,735.6h0M220.1,748.8h0M295.7,660.5h0M266.4,690.2h0M263.0,675.2h0M297.6,661.0h0M273.2,693.8h0M316.7,646.7h0M291.6,692.9h0M325.3,673.7h0M241.0,724.7h0M288.3,686.8h0M241.4,736.2h0M292.3,649.2h0M232.8,732.6h0M224.5,710.9h0M230.9,745.7h0M278.1,677.4h0M323.0,643.3h0M307.3,644.6h0M319.5,653.0h0M257.0,711.6h0M290.4,676.8h0M326.4,642.6h0M320.5,660.3h0M219.6,749.4h0M283.4,683.0h0M277.9,690.4h0M225.1,760.0h0M261.0,700.9h0M317.8,647.9h0M274.9,672.1h0M227.4,743.6h0M288.8,660.4h0M279.5,689.9h0M300.8,686.0h0M329.1,639.7h0M286.7,650.0h0M242.0,710.8h0M295.9,673.2h0M285.9,721.9h0M264.1,686.3h0M215.5,750.0h0M252.9,703.1h0M280.9,669.1h0M304.4,641.3h0M266.6,720.1h0M215.4,762.9h0M206.7,730.3h0M237.6,729.2h0M236.7,669.9h0M291.3,663.5h0M330.0,651.1h0M240.3,706.2h0M275.5,648.3h0M283.6,672.5h0M223.4,763.3h0M298.0,675.6h0M294.0,672.0h0M230.4,732.2h0M237.4,700.4h0M233.9,723.8h0M270.4,673.1h0M314.8,644.3h0M302.8,725.3h0M329.7,657.0h0M245.0,731.7h0M306.6,667.5h0M203.7,747.5h0M328.8,632.7h0"/>
<path d="M245.5,660.2h0M308.2,652.3h0M220.8,725.2h0M288.7,694.3h0M288.5,675.6h0M204.1,747.2h0M248.9,703.2h0M243.9,738.2h0M286.7,667.6h0M215.0,744.1h0M259.6,702.8h0M219.7,761.8h0M279.6,701.5h0M226.9,735.4h0M263.2,693.4h0M204.6,761.9h0M302.2,642.2h0M276.4,716.3h0M325.7,641.4h0M308.4,643.8h0M294.3,675.5h0M301.9,647.5h0M297.4,655.0h0M221.6,737.3h0M230.8,746.7h0M232.1,749.2h0M259.2,665.8h0M263.6,706.1h0M319.7,710.7h0M224.0,720.8h0M223.7,746.2h0M252.2,731.8h0M257.8,719.0h0M322.7,643.3h0M278.2,697.0h0M215.9,755.0h0M215.8,722.3h0M236.1,725.7h0M255.8,730.2h0M325.6,638.7h0M246.0,695.9h0M205.2,763.2h0M251.6,688.9h0M316.4,642.7h0M312.2,693.4h0M235.8,717.3h0M273.1,698.4h0M301.2,651.3h0M311.7,642.5h0M235.4,735.7h0M209.9,737.1h0M208.0,743.7h0M290.7,673.5h0M229.5,741.6h0M326.5,634.6h0M266.5,686.5h0M265.0,679.5h0M273.2,685.2h0M259.4,701.4h0M220.5,714.3h0M301.7,685.4h0M317.9,653.7h0M284.6,668.9h0M247.7,702.4h0M236.3,750.2h0M233.5,710.6h0M208.2,755.1h0M321.7,654.0h0M288.1,662.5h0M257.2,732.0h0M315.3,642.2h0M211.5,761.7h0M269.9,695.7h0M329.4,641.9h0M322.8,640.2h0M292.6,685.0h0M215.4,758.5h0M264.8,694.2h0M214.2,691.0h0M322.1,632.6h0M201.7,748.8h0M321.5,650.7h0M307.2,659.4h0M326.0,642.5h0M257.3,726.0h0M277.6,680.1h0M262.5,676.9h0M256.3,723.9h0M201.2,760.1h0M234.0,749.0h0M321.8,641.7h0M272.2,673.0h0M222.1,716.2h0M277.8,696.7h0M262.4,700.3h0M206.1,733.7h0M212.7,756.5h0M281.9,704.5h0M204.9,755.8h0M237.1,689.1h0M251.4,687.8h0"/>
<path d="M315.8,643.4h0M250.0,716.7h0M270.2,709.3h0M233.1,699.8h0M326.5,632.4h0M243.5,712.5h0M236.4,723.5h0M277.8,748.2h0M227.1,751.8h0M203.9,760.0h0M273.4,679.3h0M257.9,698.9h0M295.5,659.8h0M235.6,736.4h0M215.0,751.6h0M312.2,651.0h0M317.7,638.4h0M316.2,656.2h0M239.0,747.8h0M263.3,687.3h0M310.2,650.8h0M302.4,656.4h0M257.8,706.1h0M297.1,668.3h0M327.5,647.5h0M264.3,699.8h0M309.3,686.8h0M226.9,726.7h0M320.1,647.2h0M320.7,641.3h0M218.7,742.2h0M261.5,714.5h0M327.5,653.4h0M237.1,720.3h0M205.2,762.8h0M263.8,726.9h0M273.6,695.0h0M328.0,665.0h0M234.5,721.3h0M252.8,733.4h0M315.5,661.7h0M244.2,712.9h0M229.6,736.3h0M227.8,709.1h0M206.9,754.9h0M245.1,716.6h0M211.7,724.0h0M232.5,759.1h0M233.6,707.9h0M229.5,716.1h0M230.5,711.9h0M234.4,706.7h0M278.0,681.3h0M230.9,757.1h0M213.6,743.3h0M233.7,743.0h0M245.2,713.0h0M224.7,742.0h0M292.3,665.1h0M281.2,693.7h0M208.5,713.7h0M256.7,701.4h0M310.4,636.6h0M266.8,704.7h0M234.7,729.8h0M233.5,742.6h0M293.6,679.5h0M255.5,711.9h0M229.1,725.9h0M244.0,735.8h0M284.1,646.3h0M322.6,632.8h0M303.2,661.1h0M258.0,708.4h0M311.4,645.8h0M236.1,712.5h0M305.8,641.7h0M279.2,692.4h0M234.5,716.2h0M255.9,721.3h0M320.9,653.1h0M294.2,669.9h0M308.6,662.5h0M261.2,726.2h0M295.8,647.8h0M210.0,746.8h0M220.0,749.1h0M223.1,714.2h0M230.6,710.1h0M235.0,726.5h0M302.0,692.7h0M221.0,734.7h0M322.4,643.4h0M272.3,693.0h0M306.1,658.4h0M283.3,666.4h0M276.2,672.3h0M277.2,702.9h0M264.4,682.4h0M301.7,648.3h0M312.7,644.2h0"/>
</g>
</g>
<g clip-path="url(#c42)">
<use href="#ct" transform="matrix(0.12920 0 0 -0.13160 353.30 763.40)"/>
<g stroke="#000" stroke-opacity="0.3" stroke-width="3" stroke-linecap="round" fill="none">
<path d="M460.4,649.1h0M395.7,743.4h0M421.6,693.4h0M393.4,697.0h0M396.7,707.4h0M373.4,734.6h0M464.8,646.2h0M406.3,731.9h0M364.4,724.0h0M363.7,729.8h0M383.9,723.0h0M461.6,647.0h0M462.8,683.3h0M440.2,696.2h0M388.0,752.1h0M390.2,723.7h0M400.1,725.7h0M392.7,691.0h0M422.2,675.2h0M374.7,749.4h0M387.2,699.8h0M441.2,680.0h0M465.4,644.0h0M461.1,666.3h0M372.3,742.7h0M455.7,647.8h0M477.9,632.6h0M434.5,668.9h0M425.0,701.3h0M353.9,760.6h0M469.8,637.7h0M417.2,728.0h0M361.9,746.8h0M397.8,735.5h0M398.5,750.1h0M382.5,720.5h0M389.9,735.1h0M461.2,662.5h0M387.7,710.1h0M436.6,664.3h0M469.4,655.5h0M458.9,668.3h0M413.6,685.2h0M392.0,720.1h0M389.4,729.0h0M478.9,632.2h0M408.4,713.5h0M453.1,674.7h0M389.9,724.8h0M480.3,642.7h0M456.4,644.6h0M355.8,738.5h0M431.3,676.9h0M468.7,645.9h0M471.9,645.8h0M398.5,669.9h0M365.7,738.9h0M469.3,641.3h0M370.7,685.9h0M409.8,738.5h0M359.2,749.1h0M406.0,699.8h0M443.1,654.0h0M471.7,634.4h0M397.8,731.2h0M414.3,701.8h0M409.8,666.6h0M377.5,739.4h0M468.0,649.0h0M403.9,716.9h0M475.1,641.8h0M379.3,755.8h0M418.5,697.4h0M394.6,739.6h0M409.4,742.2h0M378.0,713.6h0M390.0,728.9h0M420.9,683.8h0M417.1,693.7h0M395.5,733.9h0M401.8,709.1h0M359.9,741.3h0M459.0,641.8h0M465.7,654.0h0M454.6,669.1h0M403.4,700.7h0M396.3,728.0h0M369.1,735.8h0M385.1,721.2h0M376.6,739.3h0M408.3,698.8h0M401.5,703.9h0M479.9,656.0h0M355.6,757.7h0M385.6,712.9h0M460.8,661.7h0M480.1,645.5h0M440.6,661.2h0M354.2,761.4h0M357.0,747.3h0M404.7,709.3h0"/>
<path d="M481.7,634.9h0M419.2,704.8h0M357.1,733.6h0M482.0,656.3h0M404.1,709.9h0M420.6,684.7h0M357.1,751.4h0M454.6,665.0h0M391.0,720.6h0M454.4,673.1h0M379.4,647.8h0M481.7,634.8h0M362.0,747.4h0M452.9,656.4h0M396.8,710.1h0M402.3,735.2h0M357.0,749.6h0M359.1,759.6h0M383.9,702.9h0M425.4,680.2h0M453.0,662.6h0M459.9,653.8h0M357.8,739.7h0M405.9,716.1h0M358.9,751.5h0M356.9,751.9h0M361.9,761.7h0M473.2,634.7h0M397.7,726.2h0M479.7,656.8h0M386.8,723.7h0M397.8,736.2h0M363.5,746.9h0M410.2,730.0h0M373.2,736.1h0M367.9,732.4h0M441.0,668.2h0M475.1,632.4h0M468.3,650.7h0M440.2,657.8h0M423.4,679.9h0M368.5,757.9h0M384.7,710.7h0M388.5,711.3h0M464.7,647.5h0M410.9,686.5h0M413.2,721.9h0M408.4,717.9h0M366.2,742.3h0M439.8,692.9h0M466.0,667.6h0M379.3,710.6h0M420.7,724.3h0M481.7,651.0h0M394.8,711.9h0M378.4,733.0h0M385.4,755.1h0M436.3,660.4h0M355.3,744.4h0M394.7,756.3h0M443.2,645.2h0M433.8,702.8h0M356.5,741.8h0M381.9,730.2h0M468.3,652.3h0M450.7,653.8h0M392.5,716.9h0M446.0,650.0h0M439.0,673.1h0M454.8,676.8h0M460.0,654.1h0M399.4,722.2h0M403.0,744.0h0M396.3,728.5h0M402.6,689.1h0M399.7,732.1h0M442.3,693.0h0M436.9,691.8h0M461.5,645.8h0M480.9,639.0h0M436.9,679.0h0M366.7,741.4h0M445.7,676.9h0M437.9,672.3h0M395.7,715.2h0M443.0,676.7h0M367.0,745.7h0M416.6,720.8h0M464.2,662.3h0M429.6,656.0h0M479.1,638.4h0M428.5,678.3h0M357.2,756.8h0M373.1,761.4h0M383.4,706.1h0M404.0,716.6h0M392.5,729.1h0M399.7,684.8h0M392.1,706.5h0M411.9,711.9h0M448.7,691.9h0"/>
<path d="M374.6,735.8h0M414.8,724.2h0M413.9,704.9h0M449.7,644.9h0M437.5,667.5h0M358.9,751.3h0M362.5,750.2h0M395.6,709.6h0M402.3,726.5h0M404.3,726.8h0M397.1,708.3h0M470.8,700.3h0M384.4,723.5h0M381.7,728.1h0M412.1,701.4h0M399.2,716.2h0M388.5,736.3h0M461.1,640.6h0M372.2,732.0h0M417.0,714.8h0M419.1,685.7h0M420.3,663.3h0M403.4,724.2h0M433.8,641.2h0M460.5,642.7h0M411.6,696.8h0M448.3,674.9h0M451.1,684.9h0M439.7,655.0h0M397.4,735.3h0M440.0,685.0h0M422.0,639.0h0M452.3,690.4h0M468.8,656.8h0M446.5,651.6h0M354.4,758.4h0M441.7,682.4h0M438.9,673.0h0M452.9,699.0h0M371.9,738.2h0M417.2,697.8h0M416.3,702.3h0M481.5,677.1h0M382.8,734.4h0M422.3,741.6h0M390.9,742.6h0M456.2,659.2h0M476.1,641.3h0M443.5,659.6h0M459.4,635.8h0M460.5,645.6h0M437.7,700.8h0M450.6,686.6h0M378.2,737.4h0M469.0,642.5h0M360.1,751.4h0M449.7,668.0h0M381.5,717.9h0M414.0,708.9h0M458.4,638.6h0M443.3,649.7h0M438.5,704.9h0M463.1,679.1h0M480.0,648.0h0M376.4,724.9h0M474.8,637.6h0M387.6,742.6h0M406.1,741.9h0M364.4,756.2h0M472.4,642.7h0M475.9,646.6h0M354.5,754.0h0M410.9,708.3h0M434.9,677.8h0M466.6,641.5h0M417.2,701.4h0M367.7,753.9h0M408.4,738.2h0M412.2,694.9h0M429.9,675.5h0M383.5,738.8h0M448.4,649.2h0M473.1,635.7h0M403.8,701.4h0M429.6,697.1h0M429.5,725.9h0M430.4,685.3h0M403.6,721.3h0M394.1,717.7h0M385.1,732.0h0M397.6,718.1h0M374.2,756.8h0M409.7,713.2h0M481.9,638.2h0M415.2,676.7h0M369.9,758.7h0M474.7,672.5h0M379.0,739.1h0M366.6,757.0h0M385.3,728.9h0M455.8,655.2h0"/>
<path d="M456.0,667.5h0M398.7,711.4h0M418.6,657.7h0M430.3,671.8h0M459.1,642.8h0M406.8,680.2h0M361.5,713.7h0M445.4,721.0h0M399.5,717.3h0M387.5,720.6h0M471.2,658.9h0M399.1,726.0h0M406.9,694.0h0M359.9,755.0h0M430.0,663.2h0M442.3,664.4h0M357.5,749.5h0M419.2,714.4h0M471.0,643.8h0M362.5,749.8h0M424.4,681.4h0M398.2,698.9h0M446.3,688.8h0M381.2,738.0h0M404.7,672.2h0M378.8,720.8h0M388.3,737.0h0M410.3,726.0h0M375.7,724.4h0M373.9,749.2h0M423.7,690.9h0M373.5,698.1h0M362.3,756.5h0M393.9,714.3h0M452.5,641.1h0M410.0,673.0h0M459.1,667.3h0M356.2,760.7h0M463.2,662.4h0M377.2,737.7h0M359.7,756.4h0M401.3,716.3h0M372.9,712.8h0M463.4,661.5h0M473.3,657.0h0M433.4,663.2h0M378.3,716.2h0M445.0,681.1h0M456.8,657.7h0M377.9,694.3h0M465.5,643.3h0M441.7,648.3h0M392.8,732.1h0M420.0,691.0h0M463.1,652.0h0M383.3,720.3h0M399.3,729.4h0M445.8,684.0h0M439.0,673.9h0M482.3,638.4h0M356.3,751.8h0M425.8,681.2h0M375.9,747.4h0M377.9,754.6h0M411.1,710.0h0M379.7,739.1h0M433.1,699.5h0M400.8,729.1h0M475.8,644.7h0M387.7,699.0h0M469.6,675.6h0M438.5,656.9h0M460.0,645.0h0M379.4,733.3h0M387.5,739.9h0M460.6,652.6h0M395.2,716.2h0M362.4,747.2h0M379.3,747.8h0M356.5,756.8h0M359.6,757.8h0M376.1,733.7h0M381.0,732.6h0M377.7,761.1h0M393.7,748.6h0M427.9,697.6h0M469.2,641.2h0M408.3,693.3h0M353.7,749.0h0M446.9,694.1h0M405.4,696.3h0M435.1,715.9h0M357.6,746.2h0M375.7,757.1h0M389.9,749.8h0M422.4,715.3h0M432.0,680.3h0M366.6,749.2h0M363.8,719.7h0M406.3,687.3h0M462.5,654.7h0"/>
<path d="M456.8,661.1h0M424.2,695.1h0M430.5,663.6h0M472.6,667.0h0M424.7,680.1h0M419.4,713.6h0M470.6,641.7h0M363.3,754.9h0M387.1,748.7h0M438.9,712.7h0M434.8,694.4h0M425.6,685.8h0M362.8,742.2h0M411.5,726.3h0M446.2,653.2h0M390.5,735.2h0M427.0,668.6h0M400.4,697.1h0M472.8,651.1h0M378.3,716.2h0M392.1,729.3h0M400.3,746.3h0M412.1,704.2h0M452.4,655.9h0M459.7,654.4h0M357.4,761.4h0M414.8,700.9h0M353.7,763.2h0M428.7,677.4h0M382.4,742.6h0M364.3,740.2h0M441.0,667.8h0M373.0,733.0h0M380.6,757.3h0M402.5,712.3h0M404.1,648.3h0M364.2,727.8h0M369.3,760.0h0M447.9,695.9h0M478.3,633.7h0M422.7,678.6h0M462.8,652.3h0M471.5,632.9h0M460.2,641.7h0M478.0,641.8h0M475.1,644.2h0M397.3,712.5h0M458.5,657.0h0M448.4,653.6h0M376.3,748.9h0M426.7,682.6h0M387.3,731.6h0M378.0,732.2h0M395.1,689.6h0M446.9,716.9h0M468.9,658.0h0M456.5,664.4h0M357.2,745.2h0M397.6,745.0h0M383.3,732.2h0M403.9,691.7h0M421.5,664.7h0M399.4,723.4h0M470.9,643.4h0M374.5,743.7h0M358.2,755.4h0M454.4,658.6h0M469.2,634.8h0M474.6,633.5h0M359.3,763.2h0M357.4,761.8h0M392.6,718.3h0M401.3,713.0h0M464.1,641.7h0M435.7,700.3h0M448.9,650.8h0M399.4,723.9h0M443.0,677.2h0M422.4,705.8h0M438.0,694.2h0M422.3,731.9h0M417.2,717.0h0M467.8,674.9h0M367.3,744.1h0M423.4,699.1h0M373.0,760.6h0M387.7,715.8h0M403.4,733.8h0M375.2,752.8h0M411.0,712.5h0M362.3,758.5h0M459.5,712.2h0M458.9,666.5h0M436.7,688.1h0M401.9,700.1h0M359.3,738.9h0M464.0,656.6h0M435.9,683.7h0M447.8,666.5h0M466.8,642.2h0M434.0,697.0h0"/>
<path d="M355.9,747.6h0M354.2,760.9h0M424.8,716.0h0M391.9,758.2h0M389.5,690.6h0M448.9,659.4h0M392.9,699.1h0M443.9,678.4h0M363.7,750.1h0M361.0,758.1h0M474.7,646.3h0M375.3,763.3h0M459.7,635.7h0M407.6,691.0h0M455.8,657.7h0M379.7,743.3h0M402.1,700.4h0M365.5,760.3h0M437.8,688.5h0M463.2,647.5h0M380.6,732.5h0M360.0,761.9h0M367.4,733.5h0M372.2,744.4h0M436.2,661.0h0M355.8,763.3h0M463.3,668.6h0M362.2,762.7h0M450.5,636.6h0M375.0,702.8h0M424.7,680.4h0M466.1,640.2h0M358.0,763.1h0M359.6,720.2h0M429.8,679.4h0M371.4,736.2h0M353.4,737.1h0M429.3,675.8h0M428.1,694.9h0M469.5,660.3h0M387.7,714.3h0M374.0,726.7h0M397.1,737.3h0M448.1,662.6h0M432.0,668.9h0M364.3,738.1h0M449.9,696.0h0M430.7,659.4h0M443.6,664.4h0M423.9,689.1h0M403.3,715.4h0M426.7,727.2h0M376.8,739.7h0M429.4,672.5h0M475.2,671.1h0M466.9,647.2h0M416.3,733.4h0M441.9,679.8h0M436.7,692.4h0M436.1,696.8h0M475.5,645.8h0M473.6,653.4h0M388.9,741.6h0M431.5,685.1h0M428.7,685.3h0M458.4,647.9h0M420.5,675.6h0M407.4,731.8h0M368.3,736.3h0M454.8,686.8h0M479.7,635.8h0M447.8,648.3h0M393.4,726.5h0M410.2,693.9h0M398.3,697.4h0M478.0,643.3h0M469.6,640.0h0M373.9,746.3h0M460.1,644.5h0M412.3,692.9h0M417.8,689.3h0M440.3,676.0h0M353.5,757.2h0M435.7,679.9h0M440.6,679.0h0M472.8,644.8h0M376.6,751.8h0M409.9,735.6h0M401.3,722.8h0M400.4,695.0h0M375.2,711.8h0M427.7,710.8h0M418.1,686.5h0M356.9,747.1h0M457.1,688.4h0M382.8,750.8h0M477.2,633.8h0M362.6,746.8h0M451.7,643.8h0M468.8,664.9h0M405.7,693.2h0"/>
<path d="M407.3,690.8h0M413.5,713.5h0M411.2,724.7h0M477.8,643.0h0M415.7,695.7h0M429.8,674.1h0M459.0,647.4h0M399.5,709.3h0M363.6,762.9h0M426.3,646.5h0M384.8,736.2h0M404.7,691.8h0M422.2,704.4h0M361.1,756.1h0M370.2,736.3h0M434.4,655.0h0M457.2,636.3h0M386.1,733.4h0M424.5,702.7h0M396.1,696.1h0M388.1,744.2h0M386.9,736.4h0M479.0,634.8h0M373.3,743.1h0M444.3,653.3h0M468.7,635.3h0M437.0,725.3h0M475.8,653.0h0M359.8,748.8h0M396.3,697.7h0M452.0,658.4h0M377.3,755.7h0M468.4,655.6h0M440.3,665.6h0M390.2,729.3h0M397.1,694.6h0M416.7,689.6h0M431.6,696.2h0M412.3,682.3h0M383.1,683.5h0M473.3,642.6h0M467.5,661.9h0M440.7,672.3h0M363.4,754.1h0M472.7,668.9h0M435.1,643.3h0M437.0,667.8h0M377.5,737.6h0M427.0,678.7h0M409.1,714.5h0M430.1,693.5h0M390.3,706.2h0M447.1,669.2h0M477.7,644.6h0M465.3,644.3h0M373.2,762.6h0M438.0,688.2h0M372.7,762.8h0M446.3,684.9h0M461.4,641.3h0M354.8,731.3h0M427.7,688.9h0M364.0,746.9h0M428.9,687.8h0M375.4,746.7h0M421.8,677.2h0M478.7,651.8h0M481.7,649.5h0M354.0,759.2h0M417.4,679.8h0M414.9,711.5h0M365.7,760.3h0M473.2,638.4h0M465.5,649.5h0M385.0,708.1h0M411.5,700.8h0M471.7,656.9h0M473.4,636.2h0M389.7,746.6h0M410.1,675.6h0M441.7,692.1h0M442.3,696.5h0M412.3,725.7h0M406.6,701.5h0M369.1,744.1h0M399.8,723.4h0M363.3,741.4h0M390.7,717.1h0M417.1,705.9h0M411.6,693.3h0M375.4,741.3h0M353.9,730.3h0M455.0,642.5h0M439.9,706.1h0M446.5,685.9h0M435.2,694.3h0M467.9,662.5h0M456.4,660.5h0M400.1,693.1h0M418.9,726.7h0M480.9,640.6h0"/>
<path d="M448.1,676.4h0M359.2,748.6h0M398.3,702.2h0M466.5,649.3h0M471.3,644.1h0M422.5,695.0h0M464.1,666.0h0M473.8,650.1h0M455.8,646.3h0M458.6,660.3h0M388.8,737.8h0M429.9,707.9h0M375.2,738.5h0M456.9,686.8h0M462.7,652.3h0M358.8,748.2h0M446.9,665.1h0M401.8,719.1h0M439.1,678.1h0M467.2,639.3h0M363.1,757.5h0M354.3,749.4h0M425.6,706.1h0M401.0,729.0h0M394.4,732.2h0M413.0,713.7h0M448.5,680.4h0M408.4,724.3h0M420.8,671.6h0M406.2,703.2h0M456.1,683.2h0M384.3,720.1h0M422.6,720.1h0M444.0,684.5h0M431.3,672.0h0M430.8,686.3h0M387.3,729.8h0M398.1,703.9h0M460.3,646.9h0M396.9,711.8h0M446.3,680.0h0M417.6,696.4h0M401.3,714.8h0M440.1,692.7h0M479.9,633.7h0M385.6,745.7h0M471.2,641.1h0M471.5,653.7h0M399.4,761.9h0M356.7,763.0h0M456.6,672.1h0M401.3,701.2h0M396.1,709.8h0M406.4,690.2h0M390.5,732.7h0M418.0,695.6h0M430.6,690.2h0M482.4,643.3h0M369.6,745.5h0M374.7,730.0h0M356.7,758.8h0M432.4,668.3h0M405.8,707.4h0M398.3,734.8h0M424.7,686.3h0M474.4,635.0h0M368.2,734.7h0M466.1,648.1h0M360.6,757.8h0M370.1,743.1h0M418.4,714.1h0M415.5,703.2h0M442.5,652.0h0M422.8,685.5h0M393.5,729.2h0M452.0,701.5h0M464.2,643.4h0M355.0,759.3h0M406.1,711.9h0M475.1,632.9h0M429.5,701.9h0M376.9,735.4h0M436.7,701.3h0M421.1,715.5h0M384.1,749.2h0M431.9,634.6h0M398.4,722.7h0M390.1,716.1h0M479.0,635.5h0M398.5,720.5h0M472.0,648.4h0M399.8,730.4h0M466.4,649.7h0M439.5,650.0h0M433.0,655.6h0M454.6,659.8h0M407.7,724.5h0M405.0,717.3h0M399.4,677.8h0M429.5,697.6h0M393.4,709.5h0"/>
<path d="M356.7,755.0h0M463.1,673.1h0M433.3,689.1h0M475.1,642.5h0M447.3,664.3h0M425.1,697.3h0M429.5,654.7h0M409.7,678.5h0M449.0,653.8h0M359.1,748.7h0M465.7,645.3h0M410.6,695.6h0M450.1,667.6h0M446.5,678.2h0M461.5,665.3h0M407.8,712.5h0M354.7,758.7h0M440.9,679.0h0M480.4,641.4h0M482.3,651.1h0M475.3,643.3h0M455.2,660.8h0M469.8,689.6h0M409.9,726.2h0M453.3,688.8h0M421.6,711.5h0M395.2,745.6h0M396.8,737.9h0M415.6,669.3h0M384.8,689.3h0M423.0,672.8h0M479.0,639.2h0M418.5,681.5h0M389.1,722.3h0M395.3,710.4h0M407.0,746.9h0M401.4,716.4h0M382.5,725.9h0M413.1,706.7h0M431.2,675.7h0M456.3,658.3h0M481.6,632.7h0M389.2,695.9h0M363.9,759.2h0M362.4,739.1h0M421.5,710.1h0M356.1,760.2h0M461.0,647.2h0M369.4,701.5h0M374.1,760.6h0M460.0,644.3h0M383.0,724.2h0M378.3,734.2h0M388.5,733.6h0M465.2,667.4h0M413.0,700.2h0M396.0,716.1h0M400.0,735.7h0M458.8,658.0h0M466.7,649.0h0M396.9,715.0h0M423.7,700.3h0M374.0,742.3h0M409.8,747.5h0M390.5,699.4h0M423.5,699.4h0M372.9,736.4h0M440.7,702.9h0M437.0,708.5h0M474.0,638.4h0M364.5,745.6h0M467.0,644.7h0M378.3,743.0h0M434.3,685.3h0M435.3,693.6h0M360.3,750.0h0M393.0,732.0h0M408.3,702.3h0M440.7,642.2h0M450.2,673.1h0M477.9,642.1h0M432.1,681.7h0M420.3,691.9h0M393.1,704.7h0M399.1,688.9h0M422.2,687.0h0M429.6,674.8h0M413.5,683.0h0M389.7,741.4h0M400.9,737.7h0M414.7,691.7h0M461.9,648.1h0M435.2,686.9h0M404.6,699.4h0M482.0,632.6h0M384.1,714.2h0M396.5,729.6h0M416.0,702.9h0M412.4,677.4h0M461.3,673.6h0M362.1,745.8h0"/>
<path d="M456.3,678.6h0M396.4,732.3h0M455.6,681.9h0M446.2,665.0h0M416.7,688.8h0M477.9,706.2h0M480.1,652.3h0M416.3,642.3h0M446.0,647.5h0M429.2,675.0h0M422.4,683.5h0M421.5,687.3h0M430.7,685.6h0M380.3,736.7h0M451.5,672.2h0M414.7,715.0h0M476.1,647.8h0M393.6,703.2h0M451.4,690.8h0M359.3,747.9h0M359.3,750.2h0M461.6,633.6h0M372.8,746.9h0M379.3,729.1h0M445.1,673.4h0M431.4,674.9h0M386.4,724.9h0M454.0,679.9h0M457.4,685.6h0M431.0,698.4h0M376.5,735.5h0M404.3,723.8h0M458.7,672.3h0M436.3,698.0h0M468.9,645.3h0M396.5,702.3h0M459.4,665.0h0M443.2,649.6h0M437.4,688.6h0M361.7,760.9h0M361.7,761.9h0M475.5,655.8h0M473.0,647.4h0M465.2,656.2h0M391.6,645.9h0M366.4,762.8h0M357.2,749.0h0M481.8,634.6h0M412.3,698.8h0M438.3,685.0h0M369.1,730.4h0M368.1,746.2h0M395.9,747.2h0M374.9,735.2h0M422.7,686.8h0M357.5,735.7h0M401.7,742.4h0M364.7,762.1h0M429.8,711.6h0M433.4,666.2h0M398.3,702.4h0M417.4,686.9h0M369.9,755.9h0M358.1,732.6h0M365.7,742.2h0M474.0,658.7h0M420.3,690.3h0M450.8,686.4h0M477.2,642.0h0M454.0,691.7h0M411.1,700.9h0M417.9,696.0h0M448.3,664.4h0M436.9,694.9h0M444.2,702.4h0M393.1,721.2h0M367.3,742.0h0M388.9,739.8h0M399.4,714.4h0M354.9,757.8h0M455.5,653.8h0M368.0,726.6h0M370.1,760.0h0M366.4,763.3h0M464.9,666.3h0M407.5,731.0h0M437.8,680.2h0M402.1,712.5h0M444.2,666.3h0M371.7,738.9h0M479.9,649.7h0M381.3,746.0h0M380.1,731.1h0M459.5,651.1h0M405.0,698.2h0M391.5,731.7h0M392.2,728.4h0M429.6,670.5h0M375.1,724.7h0M426.5,686.7h0"/>
<path d="M430.1,678.5h0M383.0,751.6h0M477.5,651.1h0M368.9,718.1h0M457.2,651.2h0M381.9,731.4h0M475.6,664.8h0M356.7,731.7h0M452.7,676.7h0M444.1,741.8h0M407.8,697.9h0M433.3,704.5h0M445.8,663.9h0M374.7,750.2h0M369.3,731.1h0M369.0,755.7h0M374.7,740.8h0M464.2,651.2h0M367.9,750.5h0M475.6,658.3h0M421.3,677.4h0M399.1,726.8h0M480.9,634.7h0M377.7,720.8h0M415.4,691.2h0M378.9,730.5h0M357.3,759.1h0M477.5,636.6h0M435.1,663.5h0M433.9,674.6h0M371.8,702.2h0M411.3,692.7h0M364.6,755.1h0M467.1,669.9h0M465.1,656.5h0M462.6,648.0h0M452.8,650.8h0M477.8,638.7h0M469.6,637.4h0M474.8,641.9h0M391.3,717.6h0M423.8,675.2h0M439.0,694.6h0M445.2,653.3h0M481.8,650.8h0M437.7,650.0h0M479.5,640.4h0M418.3,703.8h0M406.3,706.8h0M431.6,695.5h0M370.8,734.5h0M410.5,729.6h0M424.4,686.3h0M465.4,660.5h0M477.2,635.6h0M397.1,709.4h0M360.9,738.3h0M471.6,651.1h0M432.5,672.2h0M413.0,673.5h0M451.6,677.8h0M446.4,667.2h0M353.7,743.6h0M419.9,708.4h0M444.9,648.2h0M395.3,685.0h0M403.1,731.4h0M429.1,689.9h0M430.7,693.3h0M430.3,690.3h0M409.3,699.3h0M389.9,707.9h0M467.2,662.9h0M452.6,669.9h0M408.2,711.9h0M392.5,691.0h0M460.5,656.4h0M406.7,692.9h0M406.0,720.0h0M428.4,711.3h0M407.7,712.2h0M395.7,687.8h0M358.1,722.5h0M468.5,669.5h0M401.3,716.0h0M422.7,679.3h0M378.7,728.5h0M450.7,673.5h0M406.8,695.6h0M428.4,685.0h0M443.2,669.8h0M459.0,659.4h0M432.3,720.1h0M460.5,686.5h0M388.2,736.4h0M478.1,645.4h0M434.5,674.2h0M410.3,679.5h0M481.0,635.7h0M370.3,753.3h0"/>
<path d="M476.4,632.8h0M405.1,674.6h0M414.3,702.0h0M416.0,708.5h0M386.6,738.6h0M473.4,653.1h0M430.3,697.7h0M453.9,693.1h0M371.8,737.9h0M357.8,761.4h0M454.7,674.1h0M359.8,754.9h0M428.9,707.3h0M406.1,690.8h0M416.8,701.1h0M361.2,747.9h0M354.9,761.6h0M471.3,639.7h0M456.5,642.9h0M426.1,701.4h0M360.3,732.4h0M466.1,650.3h0M448.3,664.3h0M385.5,744.0h0M381.1,716.7h0M464.6,646.0h0M469.5,637.4h0M389.2,751.6h0M472.3,640.7h0M353.4,731.3h0M406.0,726.9h0M414.7,716.2h0M389.1,746.7h0M474.4,633.1h0M441.1,668.3h0M450.4,666.4h0M427.2,678.8h0M392.0,731.0h0M366.8,757.6h0M472.9,659.8h0M404.3,734.8h0M375.3,753.3h0M402.2,743.6h0M433.2,632.4h0M469.8,650.8h0M455.9,664.0h0M392.2,750.7h0M462.9,651.3h0M359.7,758.9h0M407.1,704.5h0M401.3,715.9h0M450.2,671.5h0M448.1,654.6h0M427.6,654.9h0M410.9,703.1h0M369.0,751.5h0M444.4,659.1h0M357.6,763.2h0M366.7,745.5h0M474.8,632.6h0M399.6,737.5h0M421.1,724.5h0M412.5,728.2h0M467.9,646.7h0M464.7,641.8h0M410.4,736.4h0M476.6,640.6h0M353.8,760.1h0M406.4,679.5h0M379.5,738.1h0M387.4,721.3h0M438.0,684.3h0M426.1,684.5h0M410.7,669.9h0M428.9,686.6h0M474.0,646.7h0M364.8,747.8h0M376.8,725.2h0M362.7,748.8h0M367.8,747.5h0M481.4,638.9h0M441.0,666.4h0M440.1,687.4h0M478.7,669.9h0M396.7,693.8h0M365.5,757.1h0M442.9,677.4h0M452.4,673.2h0M398.5,712.8h0M406.6,689.1h0M470.1,646.7h0M455.5,643.3h0M463.4,658.4h0M429.4,676.8h0M462.0,670.1h0M453.0,656.9h0M434.5,669.1h0M437.9,635.2h0M380.7,703.7h0M415.1,696.3h0"/>
</g>
</g>
<g clip-path="url(#c43)">
<use href="#ct" transform="matrix(0.12920 0 0 -0.13160 505.75 763.40)"/>
<g stroke="#000" stroke-opacity="0.3" stroke-width="3" stroke-linecap="round" fill="none">
<path d="M603.3,690.2h0M556.5,712.3h0M592.5,664.3h0M523.4,719.0h0M528.5,736.1h0M599.1,677.8h0M553.4,720.1h0M625.7,649.7h0M609.3,657.0h0M631.6,657.7h0M586.4,685.5h0M586.7,700.3h0M588.7,678.6h0M534.8,736.4h0M625.2,648.1h0M610.1,642.8h0M526.1,760.3h0M628.0,636.3h0M570.2,692.4h0M599.7,664.4h0M607.6,677.4h0M541.8,702.9h0M534.5,726.5h0M601.7,667.2h0M517.8,720.6h0M522.4,736.2h0M627.5,644.3h0M593.3,685.7h0M622.2,638.7h0M523.0,760.2h0M590.7,678.5h0M634.8,640.4h0M526.3,734.2h0M617.6,653.8h0M604.3,680.0h0M509.9,759.1h0M585.9,676.7h0M581.4,694.4h0M631.6,634.6h0M546.3,693.1h0M593.7,659.6h0M587.9,679.5h0M558.9,710.1h0M506.8,738.9h0M571.9,693.3h0M560.5,697.0h0M516.9,748.8h0M625.3,649.6h0M573.2,699.4h0M593.2,665.6h0M575.5,691.7h0M628.1,637.4h0M548.1,724.5h0M537.5,739.8h0M587.5,699.5h0M536.6,734.7h0M518.1,756.8h0M590.7,684.5h0M564.6,692.9h0M531.0,744.2h0M529.2,723.9h0M613.6,643.8h0M536.0,744.1h0M619.0,644.7h0M582.8,645.9h0M598.3,676.7h0M566.7,713.6h0M634.8,632.6h0M598.2,667.5h0M576.9,676.7h0M563.2,684.8h0M511.7,761.6h0M531.8,747.9h0M531.7,735.8h0M633.7,636.6h0M590.2,697.1h0M598.0,656.9h0M585.9,673.9h0M630.0,645.5h0M543.3,722.7h0M558.1,693.3h0M625.2,640.6h0M548.1,733.5h0M529.9,710.6h0M620.2,669.1h0M609.0,648.0h0M622.4,642.2h0M566.0,696.5h0M541.0,736.7h0M626.7,651.1h0M633.3,635.7h0M558.6,708.4h0M565.6,729.1h0M601.2,642.5h0M628.4,641.7h0M621.8,643.3h0M590.1,685.3h0M587.1,696.2h0M511.7,725.9h0M558.8,720.5h0M609.3,644.9h0"/>
<path d="M520.9,732.0h0M570.8,686.3h0M540.7,750.2h0M610.4,650.8h0M591.2,655.0h0M624.0,657.0h0M586.5,675.5h0M510.1,735.4h0M589.0,673.2h0M507.9,737.5h0M580.5,709.4h0M562.2,720.6h0M541.7,743.5h0M616.6,645.8h0M530.7,744.0h0M615.2,636.2h0M511.3,759.3h0M631.6,649.0h0M611.4,649.2h0M570.9,689.1h0M596.0,679.0h0M618.0,641.5h0M539.2,762.9h0M601.1,679.0h0M606.0,659.4h0M509.2,718.2h0M567.8,679.9h0M509.2,732.4h0M602.8,655.2h0M614.1,636.6h0M582.4,697.6h0M570.2,752.5h0M536.5,723.4h0M605.2,683.3h0M566.0,694.3h0M627.0,646.7h0M563.3,717.1h0M588.4,673.0h0M596.2,666.3h0M531.9,739.1h0M547.4,699.1h0M622.6,633.1h0M580.9,725.3h0M594.0,676.4h0M600.2,659.4h0M547.0,700.9h0M621.6,644.3h0M520.0,763.3h0M514.0,755.0h0M516.4,761.1h0M565.2,670.5h0M612.0,681.9h0M586.3,684.0h0M576.8,715.3h0M522.3,754.0h0M584.3,672.3h0M582.0,726.6h0M541.0,729.0h0M508.6,757.0h0M624.3,641.8h0M611.0,662.9h0M536.4,711.9h0M525.8,753.9h0M555.4,718.3h0M624.1,641.1h0M564.7,728.4h0M537.9,714.8h0M510.9,760.6h0M557.5,720.2h0M513.3,754.8h0M609.9,644.1h0M562.7,695.9h0M576.4,685.2h0M568.1,692.9h0M552.2,737.7h0M626.6,634.8h0M523.4,758.9h0M567.7,702.3h0M586.9,677.8h0M521.3,757.8h0M631.5,651.1h0M533.5,716.7h0M539.2,697.2h0M522.7,750.8h0M574.5,689.1h0M531.7,741.6h0M555.6,721.3h0M549.4,695.9h0M528.6,755.2h0M507.3,762.6h0M585.1,697.7h0M625.6,655.8h0M543.3,725.2h0M510.7,731.3h0M508.1,758.4h0M525.5,714.2h0M574.5,688.9h0M610.8,659.8h0M552.3,704.5h0M608.8,664.3h0M549.7,702.3h0"/>
<path d="M536.8,717.4h0M540.3,724.9h0M619.0,680.3h0M628.1,633.7h0M547.8,717.6h0M543.0,731.0h0M542.1,683.1h0M603.0,641.7h0M562.8,704.9h0M511.5,758.7h0M563.2,704.7h0M601.1,679.0h0M518.7,749.0h0M575.8,668.6h0M570.0,701.4h0M583.9,636.1h0M554.9,723.4h0M550.0,716.2h0M515.2,736.3h0M567.2,695.1h0M621.4,652.3h0M536.9,749.2h0M531.2,716.1h0M573.5,696.0h0M631.8,643.3h0M540.2,755.7h0M584.1,686.9h0M524.8,647.8h0M615.8,691.9h0M512.4,751.8h0M519.9,760.6h0M596.1,675.6h0M508.2,761.4h0M615.9,647.2h0M581.1,685.6h0M525.8,762.7h0M577.7,693.3h0M594.3,693.6h0M625.8,658.3h0M556.8,702.0h0M539.3,732.4h0M516.5,757.1h0M601.6,716.3h0M633.2,649.5h0M563.4,691.7h0M549.4,709.6h0M558.5,731.8h0M567.1,682.3h0M605.7,652.3h0M547.0,716.4h0M634.1,661.2h0M624.5,646.7h0M596.5,652.7h0M575.8,642.3h0M569.5,687.0h0M508.7,763.1h0M549.6,726.7h0M579.7,668.9h0M535.4,729.8h0M521.1,743.1h0M518.7,750.2h0M616.0,641.3h0M506.4,745.2h0M565.4,689.6h0M560.3,708.3h0M539.1,755.1h0M604.8,673.1h0M561.0,690.8h0M627.8,647.5h0M552.5,711.6h0M546.5,715.8h0M610.6,652.3h0M544.3,735.2h0M607.9,656.0h0M578.4,691.8h0M602.0,686.3h0M514.3,756.2h0M573.2,702.4h0M509.8,726.3h0M570.2,729.0h0M549.3,748.7h0M569.3,739.4h0M521.6,740.2h0M584.1,693.7h0M590.3,714.4h0M531.7,738.1h0M516.5,734.5h0M526.9,732.6h0M551.9,716.0h0M548.2,701.5h0M576.2,686.3h0M619.2,639.2h0M623.3,638.4h0M572.1,702.3h0M528.6,755.0h0M562.3,660.2h0M539.4,744.1h0M525.6,751.4h0M574.0,658.7h0M537.8,738.6h0M577.2,677.4h0"/>
<path d="M602.4,653.1h0M618.9,642.5h0M592.7,719.7h0M570.9,693.4h0M525.8,729.1h0M512.9,763.3h0M601.9,650.3h0M599.3,686.4h0M530.5,720.5h0M597.9,667.8h0M629.1,640.6h0M628.2,639.7h0M543.3,738.1h0M588.7,681.4h0M602.6,669.9h0M616.3,662.4h0M599.9,668.9h0M591.4,645.6h0M546.2,716.2h0M522.8,754.9h0M546.4,737.3h0M612.6,652.0h0M592.2,671.6h0M566.8,688.6h0M593.2,647.5h0M527.5,742.2h0M592.5,690.8h0M550.4,688.2h0M600.0,670.1h0M618.1,660.5h0M624.9,650.7h0M633.2,658.0h0M550.3,706.5h0M605.7,691.7h0M539.4,732.2h0M609.5,662.5h0M614.6,645.3h0M509.9,757.6h0M547.0,741.3h0M528.0,742.9h0M575.5,712.2h0M592.3,671.8h0M581.6,654.7h0M592.0,688.1h0M627.1,642.6h0M517.9,761.9h0M575.2,696.8h0M582.5,685.1h0M623.5,668.0h0M550.1,709.9h0M619.5,639.0h0M574.9,714.4h0M613.9,658.0h0M531.7,701.8h0M530.9,753.3h0M617.9,662.3h0M516.5,745.5h0M555.8,728.0h0M525.8,735.5h0M596.7,677.2h0M620.7,643.8h0M552.7,723.0h0M578.8,689.9h0M579.7,686.0h0M611.9,672.2h0M538.5,753.3h0M566.9,705.9h0M547.8,735.2h0M596.0,699.3h0M558.1,697.9h0M575.5,634.6h0M555.5,724.9h0M517.0,747.1h0M524.0,747.3h0M589.0,663.9h0M600.6,659.8h0M535.7,738.2h0M547.4,717.3h0M545.9,711.3h0M589.9,723.4h0M607.4,643.4h0M593.5,657.7h0M559.5,716.3h0M519.4,736.2h0M543.1,756.4h0M628.3,640.6h0M634.4,638.6h0M511.6,760.3h0M594.0,681.2h0M548.1,736.4h0M598.8,664.9h0M629.0,638.4h0M529.1,745.7h0M613.0,668.3h0M536.8,732.1h0M523.7,749.2h0M509.9,749.5h0M597.2,666.3h0M546.4,716.1h0M603.6,655.9h0M528.9,736.3h0"/>
<path d="M509.1,748.6h0M554.2,711.8h0M566.5,730.0h0M624.9,641.8h0M558.6,711.5h0M612.8,662.6h0M578.0,710.4h0M510.9,763.2h0M561.9,690.8h0M609.7,665.0h0M536.7,750.5h0M506.8,748.8h0M545.0,703.2h0M539.9,726.3h0M523.5,741.4h0M586.0,685.0h0M538.8,731.4h0M587.3,667.5h0M549.8,707.4h0M598.7,648.2h0M565.9,714.3h0M590.5,632.4h0M588.8,685.0h0M546.6,729.3h0M548.1,709.8h0M622.0,652.3h0M582.3,696.7h0M623.5,651.1h0M606.2,667.8h0M560.4,704.4h0M510.8,761.9h0M508.5,754.1h0M623.9,646.7h0M527.7,746.3h0M531.3,751.6h0M606.2,665.1h0M586.7,640.8h0M624.7,641.2h0M575.5,695.9h0M634.9,632.6h0M568.9,713.5h0M525.4,735.7h0M514.3,760.1h0M633.4,647.8h0M511.2,751.3h0M580.6,655.7h0M598.6,679.9h0M570.0,701.4h0M572.1,726.9h0M588.1,691.0h0M513.5,716.9h0M586.5,678.7h0M557.1,717.3h0M534.7,746.3h0M575.9,686.8h0M560.8,681.5h0M537.3,732.2h0M528.2,750.0h0M579.7,673.1h0M584.9,679.4h0M508.8,758.7h0M629.4,641.3h0M511.7,747.8h0M574.9,688.8h0M631.0,641.8h0M571.4,697.4h0M512.2,746.9h0M554.9,702.7h0M506.6,757.2h0M600.7,651.2h0M571.6,693.9h0M556.5,732.1h0M620.7,662.5h0M567.7,702.8h0M618.8,654.1h0M553.0,724.3h0M558.5,738.0h0M590.8,668.3h0M581.6,701.8h0M582.2,694.9h0M519.2,720.8h0M536.5,735.2h0M633.6,647.9h0M632.6,644.6h0M585.5,686.8h0M596.7,685.9h0M515.2,763.2h0M570.9,687.3h0M585.1,684.5h0M572.9,679.9h0M516.2,738.5h0M524.8,752.1h0M562.1,728.2h0M529.1,737.9h0M562.1,729.6h0M585.4,692.1h0M595.3,667.0h0M541.8,736.2h0M581.8,697.6h0M620.7,666.5h0M524.6,749.1h0"/>
<path d="M607.3,675.0h0M590.2,664.0h0M569.1,704.9h0M546.3,749.4h0M510.5,746.2h0M544.4,724.4h0M531.9,743.6h0M550.5,707.4h0M615.5,642.5h0M534.6,711.8h0M549.1,712.5h0M619.0,647.8h0M515.2,736.4h0M517.5,757.9h0M544.2,720.1h0M622.6,642.1h0M564.4,710.1h0M554.5,706.1h0M540.6,734.4h0M632.1,634.8h0M575.3,663.2h0M596.7,654.0h0M544.2,728.5h0M512.1,758.5h0M601.4,679.8h0M627.1,644.5h0M596.1,679.8h0M549.6,713.6h0M537.4,713.7h0M561.2,708.9h0M547.0,736.3h0M589.6,674.9h0M540.5,699.8h0M614.1,663.5h0M518.2,758.1h0M616.1,666.9h0M627.6,646.6h0M521.8,751.6h0M628.4,679.3h0M567.6,701.3h0M519.9,715.0h0M620.2,674.7h0M531.1,724.7h0M627.8,648.0h0M588.7,654.7h0M515.3,760.9h0M515.9,733.6h0M541.1,678.4h0M590.9,659.2h0M511.3,741.8h0M611.5,663.3h0M585.9,693.3h0M554.1,716.1h0M610.6,691.9h0M618.2,646.9h0M587.9,693.5h0M579.3,674.1h0M552.4,707.9h0M548.6,739.9h0M580.1,685.3h0M602.9,672.3h0M594.5,680.4h0M556.3,724.8h0M590.3,673.5h0M559.5,729.1h0M578.5,673.5h0M567.6,710.0h0M629.0,649.0h0M587.2,667.6h0M518.0,694.7h0M623.3,655.5h0M587.9,656.0h0M569.4,711.5h0M510.4,737.1h0M540.4,734.8h0M537.1,700.4h0M533.1,731.7h0M549.9,736.4h0M632.6,642.0h0M566.0,675.6h0M586.6,700.9h0M622.2,664.4h0M595.6,645.9h0M563.9,717.0h0M559.3,688.9h0M553.8,717.9h0M552.4,724.7h0M550.6,726.6h0M634.7,635.6h0M611.2,678.3h0M545.2,726.8h0M626.7,640.7h0M626.4,656.4h0M562.7,695.7h0M564.6,648.3h0M615.5,639.3h0M629.7,675.9h0M517.1,746.2h0M550.9,737.4h0M561.8,741.3h0"/>
<path d="M589.2,659.4h0M585.7,666.2h0M585.4,677.2h0M605.1,664.8h0M514.8,757.8h0M629.9,632.8h0M590.7,695.0h0M512.6,747.2h0M512.7,755.4h0M592.2,684.9h0M547.0,726.0h0M623.8,642.7h0M511.6,731.7h0M579.3,674.1h0M633.3,632.4h0M541.1,737.9h0M560.5,669.9h0M583.2,678.5h0M626.0,635.5h0M608.3,660.3h0M629.9,644.7h0M571.4,695.6h0M588.0,660.4h0M628.3,635.8h0M621.9,653.0h0M512.9,755.8h0M533.6,717.6h0M506.1,762.1h0M519.6,741.3h0M566.5,696.0h0M538.3,702.4h0M620.2,637.6h0M580.9,674.6h0M506.2,763.0h0M588.3,684.7h0M625.8,656.3h0M630.0,634.7h0M617.2,650.8h0M617.2,661.7h0M525.8,742.2h0M573.4,721.3h0M577.5,669.8h0M548.3,724.2h0M546.7,722.2h0M532.5,739.4h0M555.4,700.4h0M512.8,755.1h0M604.0,653.8h0M613.3,673.6h0M576.1,686.7h0M519.8,756.8h0M616.8,665.0h0M560.8,709.3h0M562.0,688.8h0M610.8,642.7h0M622.9,653.4h0M544.3,706.7h0M620.3,635.7h0M610.0,685.4h0M535.4,716.9h0M534.8,728.9h0M522.4,742.3h0M605.4,653.8h0M523.7,741.4h0M523.2,749.2h0M536.1,724.0h0M614.7,635.3h0M578.2,681.3h0M573.9,720.0h0M598.4,708.4h0M512.5,761.8h0M597.7,672.5h0M616.5,647.5h0M515.2,760.0h0M524.6,722.3h0M525.8,732.5h0M621.1,654.6h0M597.3,645.2h0M526.0,714.3h0M623.5,643.3h0M612.4,645.9h0M605.6,633.5h0M541.7,673.7h0M540.2,712.9h0M535.5,737.3h0M510.0,757.8h0M634.9,632.9h0M537.0,689.3h0M572.6,691.2h0M596.6,680.0h0M632.8,634.9h0M616.7,643.4h0M603.8,672.5h0M518.9,733.7h0M615.0,676.8h0M525.6,752.8h0M522.1,760.0h0M541.4,735.8h0M581.7,675.7h0M567.0,699.8h0"/>
<path d="M540.2,756.8h0M510.8,747.6h0M519.6,750.1h0M535.5,737.0h0M525.7,740.8h0M586.3,691.9h0M549.4,729.6h0M624.9,661.1h0M510.0,730.3h0M521.5,751.5h0M551.0,713.0h0M529.3,751.9h0M570.7,674.9h0M529.3,743.6h0M524.6,731.1h0M624.5,643.0h0M532.0,729.3h0M630.1,640.2h0M615.8,648.3h0M587.2,663.6h0M535.5,749.8h0M604.2,661.9h0M610.7,653.7h0M607.2,680.3h0M580.8,695.5h0M531.3,725.9h0M522.5,759.6h0M516.7,761.4h0M565.9,672.1h0M612.3,666.5h0M618.6,646.0h0M604.8,671.1h0M569.6,726.8h0M598.6,677.4h0M563.8,732.2h0M535.4,748.9h0M561.4,696.3h0M529.2,738.9h0M534.2,691.9h0M570.3,695.4h0M557.4,712.5h0M541.0,733.4h0M589.6,666.4h0M617.7,632.6h0M516.2,745.6h0M594.4,703.1h0M595.5,641.3h0M545.9,731.2h0M618.4,669.9h0M529.2,743.6h0M565.6,683.0h0M536.3,749.4h0M611.2,656.6h0M569.6,674.8h0M621.7,648.1h0M596.0,678.6h0M622.5,649.1h0M599.3,680.2h0M630.6,637.7h0M555.1,716.0h0M528.0,735.1h0M535.9,698.1h0M544.9,754.4h0M577.0,714.5h0M528.9,746.9h0M571.4,705.8h0M600.4,679.1h0M533.8,733.0h0M572.8,685.8h0M545.6,708.3h0M530.3,738.9h0M571.1,702.2h0M610.1,681.1h0M603.1,699.0h0M523.8,742.3h0M555.9,699.4h0M516.1,760.7h0M523.1,756.5h0M524.9,737.6h0M622.6,656.8h0M552.5,697.7h0M632.0,646.2h0M543.1,723.5h0M546.3,699.4h0M535.7,742.6h0M532.1,729.4h0M575.0,678.8h0M541.1,746.6h0M569.9,700.1h0M518.6,726.7h0M548.2,720.8h0M632.3,632.2h0M634.6,651.1h0M541.1,738.5h0M598.7,667.4h0M550.3,745.6h0M520.3,762.8h0M562.7,743.2h0M590.9,640.5h0M551.5,700.7h0"/>
<path d="M597.9,668.2h0M589.2,681.7h0M549.6,678.9h0M541.9,738.8h0M625.3,647.2h0M583.9,692.7h0M527.7,726.2h0M568.8,693.1h0M522.0,735.3h0M540.6,731.6h0M582.0,701.2h0M543.6,731.4h0M611.0,647.4h0M591.9,688.5h0M620.3,641.9h0M622.5,641.1h0M588.5,691.9h0M506.7,750.2h0M514.5,761.4h0M555.3,743.1h0M631.6,661.5h0M619.0,642.9h0M593.0,683.7h0M516.7,747.9h0M607.8,707.5h0M596.9,653.3h0M546.8,748.6h0M633.6,654.0h0M549.4,741.7h0M572.2,724.2h0M618.3,656.9h0M573.2,675.6h0M599.1,660.5h0M627.5,669.2h0M626.4,669.5h0M612.9,683.5h0M579.6,690.3h0M597.9,685.6h0M629.5,638.4h0M613.0,653.6h0M556.5,728.2h0M512.0,759.2h0M519.4,754.6h0M576.6,676.0h0M523.5,725.7h0M602.2,641.8h0M544.2,717.7h0M604.6,661.0h0M541.1,730.4h0M522.2,747.8h0M632.3,649.3h0M522.8,751.4h0M546.8,691.0h0M571.7,721.9h0M555.1,696.1h0M621.7,650.8h0M539.9,699.8h0M609.3,633.6h0M550.7,716.2h0M564.7,698.8h0M606.3,662.6h0M519.1,739.3h0M577.0,680.1h0M539.9,733.9h0M547.4,712.5h0M623.3,650.0h0M538.5,720.6h0M560.6,706.1h0M576.1,683.8h0M619.7,635.7h0M624.2,658.4h0M622.5,645.4h0M608.5,645.3h0M609.6,651.1h0M557.3,709.5h0M505.8,760.9h0M519.6,746.9h0M505.8,742.0h0M573.3,704.5h0M522.5,757.1h0M624.1,638.4h0M561.4,738.2h0M574.4,672.2h0M547.9,730.5h0M522.2,742.6h0M559.7,703.9h0M591.4,673.1h0M562.3,712.5h0M547.0,719.1h0M560.3,678.1h0M532.1,743.3h0M620.3,633.7h0M601.4,656.9h0M573.6,737.9h0M548.6,671.4h0M540.4,741.9h0M572.6,693.8h0M614.7,665.3h0M577.4,702.9h0M609.2,655.6h0"/>
<path d="M583.9,674.5h0M602.5,675.2h0M514.1,750.7h0M570.9,689.6h0M596.3,643.1h0M615.3,673.2h0M577.6,686.6h0M561.1,711.3h0M575.9,693.8h0M520.5,737.8h0M558.7,713.5h0M626.4,662.5h0M562.5,697.8h0M558.0,670.9h0M579.1,690.3h0M604.6,658.3h0M587.1,720.2h0M584.1,700.3h0M507.7,749.6h0M528.0,700.3h0M534.5,759.2h0M552.7,694.0h0M557.8,716.6h0M543.3,750.7h0M539.3,739.1h0M563.9,682.4h0M546.4,677.1h0M545.0,698.9h0M593.3,711.2h0M591.5,694.9h0M546.9,724.3h0M620.7,666.3h0M615.7,658.9h0M627.1,638.9h0M597.7,671.5h0M560.3,710.8h0M530.4,728.0h0M629.4,678.8h0M528.0,746.7h0M511.9,762.9h0M569.3,686.5h0M622.1,650.8h0M558.9,739.1h0M537.3,714.8h0M593.5,666.0h0M586.2,701.1h0M544.6,726.0h0M608.1,658.6h0M557.8,720.1h0M630.8,645.8h0M607.9,656.5h0M580.8,663.2h0M603.3,694.1h0M564.0,693.0h0M507.6,756.1h0M534.3,720.8h0M574.1,703.8h0M566.8,704.8h0M538.3,732.6h0M556.8,700.8h0M520.1,741.4h0M561.3,701.4h0M615.9,647.4h0M595.9,656.4h0M634.3,643.3h0M529.7,748.7h0M510.5,744.4h0M523.2,733.3h0M597.7,665.0h0M619.2,646.3h0M540.0,715.0h0M579.1,710.1h0M601.4,667.3h0M588.7,651.3h0M587.7,687.4h0M549.8,715.2h0M541.7,735.6h0M614.3,685.9h0M590.3,686.9h0M586.0,698.0h0M560.1,706.8h0M543.5,731.1h0M579.6,701.9h0M532.6,761.7h0M527.4,732.0h0M633.2,644.8h0M622.7,645.8h0M513.5,742.7h0M540.3,743.0h0M590.2,699.1h0M569.5,700.8h0M633.1,641.4h0M570.0,690.9h0M607.2,668.9h0M626.6,632.9h0M514.5,745.0h0M553.6,717.9h0M563.0,696.3h0M527.3,755.7h0M596.8,649.5h0"/>
<path d="M563.1,694.9h0M547.5,732.0h0M583.2,686.6h0M574.8,696.8h0M558.1,708.5h0M588.9,664.4h0M581.6,694.2h0M555.5,689.3h0M537.2,703.2h0M552.3,715.4h0M597.1,676.8h0M562.1,714.1h0M633.3,645.0h0M632.7,634.7h0M628.1,632.7h0M514.0,757.5h0M592.4,690.4h0M619.2,634.8h0M515.9,761.4h0M559.0,732.4h0M627.3,660.3h0M576.9,674.2h0M613.8,656.8h0M592.8,653.8h0M534.8,734.8h0M561.9,690.2h0M557.9,693.2h0M534.1,704.9h0M574.9,691.8h0M569.6,694.6h0M607.7,655.6h0M556.9,689.6h0M568.3,752.2h0M595.4,643.3h0M524.9,754.9h0M541.5,710.7h0M564.6,735.7h0M531.0,746.0h0M548.3,711.9h0M633.0,634.4h0M544.5,732.7h0M562.0,733.8h0M572.4,683.2h0M516.2,763.3h0M557.1,725.7h0M540.5,743.3h0M583.0,704.2h0M615.9,664.4h0M531.2,724.2h0M579.4,700.2h0M610.5,651.8h0M591.3,652.0h0M629.6,640.0h0M530.3,723.7h0M587.6,668.3h0M601.0,676.9h0M510.1,720.6h0M612.9,673.1h0M548.8,718.1h0M589.5,680.2h0M617.0,655.0h0M566.4,696.4h0M559.5,715.0h0M528.5,751.8h0M561.3,721.2h0M526.2,746.8h0M525.1,745.5h0M515.0,746.7h0M574.7,695.6h0M530.2,760.6h0M623.2,649.7h0M616.4,656.2h0M608.0,648.3h0M535.6,739.7h0M520.5,749.0h0M539.7,720.3h0M531.7,747.2h0M550.5,726.5h0M618.6,658.7h0M587.0,650.0h0M534.7,749.8h0M582.6,679.3h0M621.8,650.0h0M615.3,644.0h0M553.0,698.2h0M618.2,651.2h0M513.2,742.6h0M575.6,687.8h0M584.8,713.2h0M522.2,738.3h0M573.4,682.6h0M593.2,667.6h0M632.3,641.7h0M547.0,729.8h0M621.7,649.7h0M571.1,680.2h0M542.1,757.7h0M536.7,708.1h0M597.4,669.1h0M609.7,651.0h0"/>
<path d="M628.5,648.4h0M613.2,653.3h0M553.7,696.7h0M613.5,668.6h0M575.8,647.8h0M537.5,716.2h0M566.0,711.9h0M542.6,737.7h0M530.0,728.5h0M532.9,710.9h0M557.5,714.4h0M533.9,732.3h0M548.9,701.4h0M549.2,729.2h0M584.8,703.9h0M599.1,650.1h0M565.7,688.2h0M537.4,731.0h0M543.0,723.8h0M516.6,739.6h0M580.5,641.8h0M594.7,654.4h0M563.7,726.2h0M630.5,642.7h0M621.8,646.3h0M542.2,727.8h0M520.7,745.8h0M516.7,702.8h0M529.3,746.8h0M534.6,755.9h0M522.5,747.4h0M578.8,684.3h0M570.6,689.1h0M591.6,678.4h0M565.8,715.9h0M580.2,666.4h0M567.4,704.7h0M553.5,708.5h0M577.1,688.8h0M522.9,743.7h0M565.3,730.2h0M544.9,699.0h0M598.3,685.3h0M512.2,751.5h0M585.3,664.7h0M564.8,677.2h0M612.3,651.6h0M510.3,739.7h0M618.4,637.4h0M580.1,697.0h0M624.9,658.4h0M513.9,734.6h0M521.7,730.4h0M579.1,676.9h0M551.3,697.1h0M632.2,641.3h0M551.5,695.0h0M533.5,733.6h0M585.2,695.6h0M561.0,694.6h0M547.2,721.2h0M634.7,638.2h0M557.8,715.8h0M558.3,696.2h0M631.9,644.6h0M539.8,728.1h0M584.5,672.8h0M510.1,747.5h0M557.1,697.4h0M513.1,748.2h0M543.7,743.4h0M598.8,642.2h0M576.8,698.8h0M600.6,652.6h0M518.9,763.2h0M624.5,635.8h0M528.0,757.3h0M538.2,730.0h0M549.3,716.2h0M551.7,723.7h0M587.3,678.2h0M517.4,762.8h0M633.7,633.8h0M564.7,698.4h0M619.7,644.2h0M557.7,706.2h0M563.1,691.0h0M631.7,635.0h0M536.3,731.9h0M565.4,673.0h0M622.1,664.3h0M603.5,653.2h0M569.3,649.3h0M525.4,712.8h0M594.1,686.5h0M544.2,711.4h0M575.8,725.3h0M595.4,672.3h0M620.2,647.0h0M585.1,677.4h0"/>
</g>
</g>
<g clip-path="url(#c44)">
<path d="M661.90,769.20V667.70h6.09V769.20zM667.99,769.20V630.00h6.09V769.20zM674.08,769.20V660.70h6.09V769.20zM680.17,769.20V658.80h6.09V769.20zM686.26,769.20V649.60h6.09V769.20zM692.35,769.20V653.20h6.09V769.20zM698.44,769.20V651.50h6.09V769.20zM704.53,769.20V653.50h6.09V769.20zM710.62,769.20V665.90h6.09V769.20zM716.71,769.20V658.80h6.09V769.20zM722.80,769.20V653.30h6.09V769.20zM728.89,769.20V625.00h6.09V769.20zM734.98,769.20V649.60h6.09V769.20zM741.07,769.20V684.20h6.09V769.20zM747.16,769.20V660.70h6.09V769.20zM753.25,769.20V649.60h6.09V769.20zM759.34,769.20V675.10h6.09V769.20zM765.43,769.20V660.70h6.09V769.20zM771.52,769.20V682.60h6.09V769.20zM777.61,769.20V682.60h6.09V769.20z" fill="#009af9" fill-opacity="0.6" stroke="#000" stroke-opacity="0.6" stroke-width="1"/>
<path d="M661.60,710.00C661.88,708.50 662.72,703.83 663.30,701.00C663.88,698.17 664.47,695.77 665.10,693.00C665.73,690.23 666.40,687.30 667.10,684.40C667.80,681.50 668.57,678.38 669.30,675.60C670.03,672.82 670.70,670.03 671.50,667.70C672.30,665.37 673.15,663.28 674.10,661.60C675.05,659.92 675.97,658.63 677.20,657.60C678.43,656.57 679.90,655.98 681.50,655.40C683.10,654.82 685.03,654.43 686.80,654.10C688.57,653.77 690.50,653.52 692.10,653.40C693.70,653.28 694.95,653.28 696.40,653.40C697.85,653.52 699.33,653.78 700.80,654.10C702.27,654.42 703.73,654.93 705.20,655.30C706.67,655.67 708.13,656.08 709.60,656.30C711.07,656.52 712.53,656.75 714.00,656.60C715.47,656.45 716.95,656.03 718.40,655.40C719.85,654.77 721.22,653.70 722.70,652.80C724.18,651.90 725.92,650.62 727.30,650.00C728.68,649.38 729.80,649.00 731.00,649.10C732.20,649.20 733.33,649.77 734.50,650.60C735.67,651.43 736.83,652.85 738.00,654.10C739.17,655.35 740.33,656.93 741.50,658.10C742.67,659.27 743.68,660.30 745.00,661.10C746.32,661.90 747.93,662.48 749.40,662.90C750.87,663.32 752.33,663.32 753.80,663.60C755.27,663.88 756.88,664.07 758.20,664.60C759.52,665.13 760.53,665.77 761.70,666.80C762.87,667.83 764.03,669.18 765.20,670.80C766.37,672.42 767.53,674.38 768.70,676.50C769.87,678.62 771.03,680.88 772.20,683.50C773.37,686.12 774.82,689.95 775.70,692.20C776.58,694.45 776.65,694.20 777.50,697.00C778.35,699.80 779.73,704.72 780.80,709.00C781.87,713.28 783.38,720.42 783.90,722.70" fill="none" stroke="#e36f47" stroke-width="1"/>
</g>
<path d="M44.50,146.75h5.20M181.50,146.75h-5.20M44.50,125.10h5.20M181.50,125.10h-5.20M44.50,103.45h5.20M181.50,103.45h-5.20M44.50,81.80h5.20M181.50,81.80h-5.20M44.50,60.15h5.20M181.50,60.15h-5.20M44.50,38.50h5.20M181.50,38.50h-5.20M44.50,16.85h5.20M181.50,16.85h-5.20M44.50,298.25h5.20M181.50,298.25h-5.20M44.50,265.35h5.20M181.50,265.35h-5.20M44.50,232.45h5.20M181.50,232.45h-5.20M44.50,199.55h5.20M181.50,199.55h-5.20M44.50,166.65h5.20M181.50,166.65h-5.20M44.50,453.30h5.20M181.50,453.30h-5.20M44.50,420.40h5.20M181.50,420.40h-5.20M44.50,387.50h5.20M181.50,387.50h-5.20M44.50,354.60h5.20M181.50,354.60h-5.20M44.50,321.70h5.20M181.50,321.70h-5.20M44.50,608.35h5.20M181.50,608.35h-5.20M44.50,575.45h5.20M181.50,575.45h-5.20M44.50,542.55h5.20M181.50,542.55h-5.20M44.50,509.65h5.20M181.50,509.65h-5.20M44.50,476.75h5.20M181.50,476.75h-5.20M44.50,763.40h5.20M181.50,763.40h-5.20M44.50,730.50h5.20M181.50,730.50h-5.20M44.50,697.60h5.20M181.50,697.60h-5.20M44.50,664.70h5.20M181.50,664.70h-5.20M44.50,631.80h5.20M181.50,631.80h-5.20M48.40,767.20v-5.20M48.40,628.00v5.20M80.70,767.20v-5.20M80.70,628.00v5.20M113.00,767.20v-5.20M113.00,628.00v5.20M145.30,767.20v-5.20M145.30,628.00v5.20M177.60,767.20v-5.20M177.60,628.00v5.20M200.85,767.20v-5.20M200.85,628.00v5.20M233.15,767.20v-5.20M233.15,628.00v5.20M265.45,767.20v-5.20M265.45,628.00v5.20M297.75,767.20v-5.20M297.75,628.00v5.20M330.05,767.20v-5.20M330.05,628.00v5.20M353.30,767.20v-5.20M353.30,628.00v5.20M385.60,767.20v-5.20M385.60,628.00v5.20M417.90,767.20v-5.20M417.90,628.00v5.20M450.20,767.20v-5.20M450.20,628.00v5.20M482.50,767.20v-5.20M482.50,628.00v5.20M505.75,767.20v-5.20M505.75,628.00v5.20M538.05,767.20v-5.20M538.05,628.00v5.20M570.35,767.20v-5.20M570.35,628.00v5.20M602.65,767.20v-5.20M602.65,628.00v5.20M634.95,767.20v-5.20M634.95,628.00v5.20M661.80,767.20v-5.20M661.80,628.00v5.20M692.25,767.20v-5.20M692.25,628.00v5.20M722.70,767.20v-5.20M722.70,628.00v5.20M753.15,767.20v-5.20M753.15,628.00v5.20M783.60,767.20v-5.20M783.60,628.00v5.20" stroke="#000" stroke-width="1" fill="none"/>
<path d="M44.50,7.80H181.50V147.00H44.50ZM196.95,7.80H333.95V147.00H196.95ZM349.40,7.80H486.40V147.00H349.40ZM501.85,7.80H638.85V147.00H501.85ZM654.30,7.80H791.30V147.00H654.30ZM44.50,162.85H181.50V302.05H44.50ZM196.95,162.85H333.95V302.05H196.95ZM349.40,162.85H486.40V302.05H349.40ZM501.85,162.85H638.85V302.05H501.85ZM654.30,162.85H791.30V302.05H654.30ZM44.50,317.90H181.50V457.10H44.50ZM196.95,317.90H333.95V457.10H196.95ZM349.40,317.90H486.40V457.10H349.40ZM501.85,317.90H638.85V457.10H501.85ZM654.30,317.90H791.30V457.10H654.30ZM44.50,472.95H181.50V612.15H44.50ZM196.95,472.95H333.95V612.15H196.95ZM349.40,472.95H486.40V612.15H349.40ZM501.85,472.95H638.85V612.15H501.85ZM654.30,472.95H791.30V612.15H654.30ZM44.50,628.00H181.50V767.20H44.50ZM196.95,628.00H333.95V767.20H196.95ZM349.40,628.00H486.40V767.20H349.40ZM501.85,628.00H638.85V767.20H501.85ZM654.30,628.00H791.30V767.20H654.30Z" stroke="#000" stroke-width="1" fill="none"/>
<g style="filter:grayscale(1)" font-family="'Liberation Sans', sans-serif" font-size="12.2" fill="#000"><text x="33.00" y="151.35" text-anchor="end" textLength="17.6" lengthAdjust="spacingAndGlyphs">0.0</text><text x="33.00" y="129.70" text-anchor="end" textLength="17.6" lengthAdjust="spacingAndGlyphs">0.2</text><text x="33.00" y="108.05" text-anchor="end" textLength="17.6" lengthAdjust="spacingAndGlyphs">0.4</text><text x="33.00" y="86.40" text-anchor="end" textLength="17.6" lengthAdjust="spacingAndGlyphs">0.6</text><text x="33.00" y="64.75" text-anchor="end" textLength="17.6" lengthAdjust="spacingAndGlyphs">0.8</text><text x="33.00" y="43.10" text-anchor="end" textLength="17.6" lengthAdjust="spacingAndGlyphs">1.0</text><text x="33.00" y="21.45" text-anchor="end" textLength="17.6" lengthAdjust="spacingAndGlyphs">1.2</text><text x="33.00" y="302.85" text-anchor="end" textLength="24.8" lengthAdjust="spacingAndGlyphs">0.00</text><text x="33.00" y="269.95" text-anchor="end" textLength="24.8" lengthAdjust="spacingAndGlyphs">0.25</text><text x="33.00" y="237.05" text-anchor="end" textLength="24.8" lengthAdjust="spacingAndGlyphs">0.50</text><text x="33.00" y="204.15" text-anchor="end" textLength="24.8" lengthAdjust="spacingAndGlyphs">0.75</text><text x="33.00" y="171.25" text-anchor="end" textLength="24.8" lengthAdjust="spacingAndGlyphs">1.00</text><text x="33.00" y="457.90" text-anchor="end" textLength="24.8" lengthAdjust="spacingAndGlyphs">0.00</text><text x="33.00" y="425.00" text-anchor="end" textLength="24.8" lengthAdjust="spacingAndGlyphs">0.25</text><text x="33.00" y="392.10" text-anchor="end" textLength="24.8" lengthAdjust="spacingAndGlyphs">0.50</text><text x="33.00" y="359.20" text-anchor="end" textLength="24.8" lengthAdjust="spacingAndGlyphs">0.75</text><text x="33.00" y="326.30" text-anchor="end" textLength="24.8" lengthAdjust="spacingAndGlyphs">1.00</text><text x="33.00" y="612.95" text-anchor="end" textLength="24.8" lengthAdjust="spacingAndGlyphs">0.00</text><text x="33.00" y="580.05" text-anchor="end" textLength="24.8" lengthAdjust="spacingAndGlyphs">0.25</text><text x="33.00" y="547.15" text-anchor="end" textLength="24.8" lengthAdjust="spacingAndGlyphs">0.50</text><text x="33.00" y="514.25" text-anchor="end" textLength="24.8" lengthAdjust="spacingAndGlyphs">0.75</text><text x="33.00" y="481.35" text-anchor="end" textLength="24.8" lengthAdjust="spacingAndGlyphs">1.00</text><text x="33.00" y="768.00" text-anchor="end" textLength="24.8" lengthAdjust="spacingAndGlyphs">0.00</text><text x="33.00" y="735.10" text-anchor="end" textLength="24.8" lengthAdjust="spacingAndGlyphs">0.25</text><text x="33.00" y="702.20" text-anchor="end" textLength="24.8" lengthAdjust="spacingAndGlyphs">0.50</text><text x="33.00" y="669.30" text-anchor="end" textLength="24.8" lengthAdjust="spacingAndGlyphs">0.75</text><text x="33.00" y="636.40" text-anchor="end" textLength="24.8" lengthAdjust="spacingAndGlyphs">1.00</text><text x="48.40" y="784.60" text-anchor="middle" textLength="24.8" lengthAdjust="spacingAndGlyphs">0.00</text><text x="80.70" y="784.60" text-anchor="middle" textLength="24.8" lengthAdjust="spacingAndGlyphs">0.25</text><text x="113.00" y="784.60" text-anchor="middle" textLength="24.8" lengthAdjust="spacingAndGlyphs">0.50</text><text x="145.30" y="784.60" text-anchor="middle" textLength="24.8" lengthAdjust="spacingAndGlyphs">0.75</text><text x="177.60" y="784.60" text-anchor="middle" textLength="24.8" lengthAdjust="spacingAndGlyphs">1.00</text><text x="200.85" y="784.60" text-anchor="middle" textLength="24.8" lengthAdjust="spacingAndGlyphs">0.00</text><text x="233.15" y="784.60" text-anchor="middle" textLength="24.8" lengthAdjust="spacingAndGlyphs">0.25</text><text x="265.45" y="784.60" text-anchor="middle" textLength="24.8" lengthAdjust="spacingAndGlyphs">0.50</text><text x="297.75" y="784.60" text-anchor="middle" textLength="24.8" lengthAdjust="spacingAndGlyphs">0.75</text><text x="330.05" y="784.60" text-anchor="middle" textLength="24.8" lengthAdjust="spacingAndGlyphs">1.00</text><text x="353.30" y="784.60" text-anchor="middle" textLength="24.8" lengthAdjust="spacingAndGlyphs">0.00</text><text x="385.60" y="784.60" text-anchor="middle" textLength="24.8" lengthAdjust="spacingAndGlyphs">0.25</text><text x="417.90" y="784.60" text-anchor="middle" textLength="24.8" lengthAdjust="spacingAndGlyphs">0.50</text><text x="450.20" y="784.60" text-anchor="middle" textLength="24.8" lengthAdjust="spacingAndGlyphs">0.75</text><text x="482.50" y="784.60" text-anchor="middle" textLength="24.8" lengthAdjust="spacingAndGlyphs">1.00</text><text x="505.75" y="784.60" text-anchor="middle" textLength="24.8" lengthAdjust="spacingAndGlyphs">0.00</text><text x="538.05" y="784.60" text-anchor="middle" textLength="24.8" lengthAdjust="spacingAndGlyphs">0.25</text><text x="570.35" y="784.60" text-anchor="middle" textLength="24.8" lengthAdjust="spacingAndGlyphs">0.50</text><text x="602.65" y="784.60" text-anchor="middle" textLength="24.8" lengthAdjust="spacingAndGlyphs">0.75</text><text x="634.95" y="784.60" text-anchor="middle" textLength="24.8" lengthAdjust="spacingAndGlyphs">1.00</text><text x="661.80" y="784.60" text-anchor="middle" textLength="24.8" lengthAdjust="spacingAndGlyphs">0.00</text><text x="692.25" y="784.60" text-anchor="middle" textLength="24.8" lengthAdjust="spacingAndGlyphs">0.25</text><text x="722.70" y="784.60" text-anchor="middle" textLength="24.8" lengthAdjust="spacingAndGlyphs">0.50</text><text x="753.15" y="784.60" text-anchor="middle" textLength="24.8" lengthAdjust="spacingAndGlyphs">0.75</text><text x="783.60" y="784.60" text-anchor="middle" textLength="24.8" lengthAdjust="spacingAndGlyphs">1.00</text></g>
</svg>
</body></html>
